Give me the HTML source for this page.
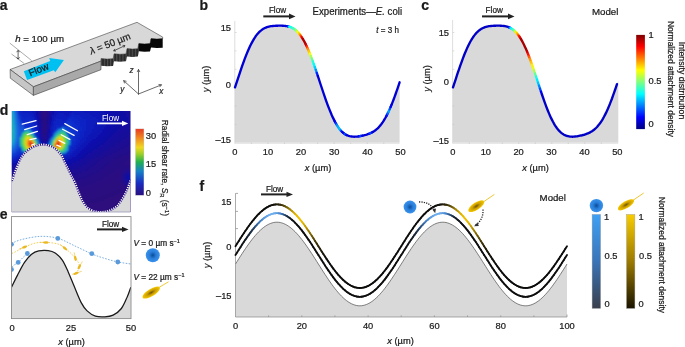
<!DOCTYPE html>
<html><head><meta charset="utf-8"><style>
html,body{margin:0;padding:0;background:#fff;width:685px;height:347px;overflow:hidden}
svg{display:block;will-change:transform}
text{font-family:"Liberation Sans",sans-serif;stroke:#1a1a1a;stroke-width:0.22px}
.hm rect{width:2px;height:2px}
</style></head><body>
<svg width="685" height="347" viewBox="0 0 685 347" fill="#1a1a1a">
<defs>
<linearGradient id="jetv" x1="0" y1="1" x2="0" y2="0">
<stop offset="0" stop-color="#00007f"/><stop offset="0.125" stop-color="#0000ff"/>
<stop offset="0.375" stop-color="#00ffff"/><stop offset="0.625" stop-color="#ffff00"/>
<stop offset="0.875" stop-color="#ff0000"/><stop offset="1" stop-color="#7f0000"/>
</linearGradient>
<linearGradient id="shearv" x1="0" y1="1" x2="0" y2="0">
<stop offset="0" stop-color="#2a0f82"/><stop offset="0.18" stop-color="#1a2cc0"/>
<stop offset="0.36" stop-color="#1780c8"/><stop offset="0.5" stop-color="#20b050"/>
<stop offset="0.62" stop-color="#9cd028"/><stop offset="0.72" stop-color="#f0d820"/>
<stop offset="0.86" stop-color="#f08a20"/><stop offset="1" stop-color="#e83a22"/>
</linearGradient>
<linearGradient id="bluev" x1="0" y1="1" x2="0" y2="0">
<stop offset="0" stop-color="#3a3f4c"/><stop offset="0.5" stop-color="#3a74b8"/><stop offset="1" stop-color="#3fa0f4"/>
</linearGradient>
<linearGradient id="yelv" x1="0" y1="1" x2="0" y2="0">
<stop offset="0" stop-color="#1a1400"/><stop offset="0.5" stop-color="#9c7a00"/><stop offset="1" stop-color="#f8cc00"/>
</linearGradient>
<radialGradient id="bdot" cx="0.5" cy="0.5" r="0.5">
<stop offset="0" stop-color="#0a4c9c"/><stop offset="0.5" stop-color="#2a7fd8"/><stop offset="1" stop-color="#3892ee"/>
</radialGradient>
<radialGradient id="ybac" cx="0.5" cy="0.5" r="0.5">
<stop offset="0" stop-color="#6e5200"/><stop offset="0.45" stop-color="#c89c00"/><stop offset="1" stop-color="#f6c800"/>
</radialGradient>
<radialGradient id="hot" cx="0.5" cy="0.5" r="0.5">
<stop offset="0" stop-color="#d01808"/><stop offset="0.12" stop-color="#f05010"/>
<stop offset="0.25" stop-color="#ffc820"/><stop offset="0.38" stop-color="#a0f040"/>
<stop offset="0.5" stop-color="#30e0a0"/><stop offset="0.65" stop-color="#20a8f0"/>
<stop offset="0.82" stop-color="#1860e8" stop-opacity="0.6"/><stop offset="1" stop-color="#1040d0" stop-opacity="0"/>
</radialGradient>
<radialGradient id="blueglow" cx="0.5" cy="0.5" r="0.5">
<stop offset="0" stop-color="#1848e0"/><stop offset="0.6" stop-color="#1430c8" stop-opacity="0.7"/><stop offset="1" stop-color="#1430c8" stop-opacity="0"/>
</radialGradient>
<linearGradient id="purpband" x1="0" y1="0" x2="1" y2="0">
<stop offset="0" stop-color="#30108a" stop-opacity="0"/><stop offset="0.5" stop-color="#30108a"/><stop offset="1" stop-color="#30108a" stop-opacity="0"/>
</linearGradient>
<clipPath id="dclip"><rect x="11.7" y="111" width="118.8" height="101"/></clipPath>
<clipPath id="eclip"><rect x="11.5" y="216.6" width="119.5" height="102"/></clipPath>
<filter id="blur1" x="-20%" y="-20%" width="140%" height="140%"><feGaussianBlur stdDeviation="1.2"/></filter>
<filter id="blur3" x="-50%" y="-50%" width="200%" height="200%"><feGaussianBlur stdDeviation="3"/></filter>
</defs>
<text x="-0.3" y="10.1" font-size="14" font-weight="bold">a</text>
<text x="199.6" y="10.1" font-size="14" font-weight="bold">b</text>
<text x="421.3" y="10.3" font-size="14" font-weight="bold">c</text>
<text x="-0.3" y="115" font-size="14" font-weight="bold">d</text>
<text x="-0.3" y="219" font-size="14" font-weight="bold">e</text>
<text x="199.5" y="190.8" font-size="14" font-weight="bold">f</text>
<polygon points="10.1,69.5 137.0,22.3 162.7,37.1 162.7,38.6 156.9,39.0 151.1,38.5 150.9,39.0 150.6,40.3 150.4,41.7 150.1,43.0 149.9,43.5 144.4,43.9 138.9,43.4 138.7,44.0 138.4,45.3 138.2,46.8 137.9,48.1 137.7,48.7 132.4,49.1 127.1,48.6 126.9,49.2 126.6,50.5 126.4,52.0 126.1,53.3 125.9,53.9 120.0,54.3 114.2,53.8 114.0,54.3 113.7,55.5 113.5,57.0 113.2,58.2 113.0,58.7 107.0,59.1 101.0,58.6 101.0,61.1 33.4,86.8" fill="#d8d8d8" stroke="#333" stroke-width="0.55" stroke-linejoin="round"/>
<polygon points="10.1,69.5 33.4,86.8 33.4,95.4 10.3,78.2" fill="#c6c6c6" stroke="#333" stroke-width="0.55"/>
<polygon points="33.4,86.8 101.0,61.1 101.0,69.7 33.4,95.4" fill="#a9a9a9" stroke="#333" stroke-width="0.55"/>
<pattern id="stripes" x="0" y="0" width="3.1" height="10" patternUnits="userSpaceOnUse"><rect width="3.1" height="10" fill="#2a2a2a"/><rect x="1.6" width="1.0" height="10" fill="#555"/></pattern>
<clipPath id="bandclip"><polygon points="101.00,58.60 107.00,59.10 113.00,58.70 113.24,58.19 113.48,56.98 113.72,55.52 113.96,54.31 114.20,53.80 120.05,54.30 125.90,53.90 126.14,53.35 126.38,52.03 126.62,50.47 126.86,49.15 127.10,48.60 132.40,49.10 137.70,48.70 137.94,48.15 138.18,46.83 138.42,45.27 138.66,43.95 138.90,43.40 144.40,43.90 149.90,43.50 150.14,42.98 150.38,41.74 150.62,40.26 150.86,39.02 151.10,38.50 156.90,39.00 162.70,38.60 162.70,47.70 156.90,48.10 151.10,47.60 150.86,48.00 150.62,48.94 150.38,50.06 150.14,51.00 149.90,51.40 144.40,51.80 138.90,51.30 138.66,51.85 138.42,53.17 138.18,54.73 137.94,56.05 137.70,56.60 132.40,57.00 127.10,56.50 126.86,57.00 126.62,58.19 126.38,59.61 126.14,60.80 125.90,61.30 120.05,61.70 114.20,61.20 113.96,61.69 113.72,62.85 113.48,64.25 113.24,65.41 113.00,65.90 107.00,66.30 101.00,65.80"/></clipPath>
<g clip-path="url(#bandclip)"><rect x="100" y="30" width="38.5" height="40" fill="url(#stripes)"/><rect x="138.3" y="30" width="26" height="40" fill="#070707"/></g>
<polygon points="27.1,80.0 23.8,71.2 50.2,61.1 49.2,58.1 63.9,60.1 55.3,72.2 53.8,70.2" fill="#00c0f2"/>
<text x="0" y="0" font-size="9.8" transform="translate(30.3,76.6) rotate(-22)">Flow</text>
<text x="15.2" y="42" font-size="9.9" textLength="48.8" lengthAdjust="spacingAndGlyphs"><tspan font-style="italic">h</tspan> = 100 µm</text>
<g stroke="#444" stroke-width="0.45"><line x1="9.8" y1="43.1" x2="31.7" y2="60.6"/><line x1="11.5" y1="54" x2="24.2" y2="63.5"/></g>
<g stroke="#222" stroke-width="0.7" fill="none"><line x1="18.1" y1="50.5" x2="18.1" y2="59"/><path d="M16.6,52.2 L18.1,50.3 L19.6,52.2 M16.6,57.3 L18.1,59.2 L19.6,57.3"/></g>
<text x="0" y="0" font-size="9.8" transform="translate(91.3,54.5) rotate(-21.5)" textLength="43" lengthAdjust="spacingAndGlyphs"><tspan font-style="italic">λ</tspan> = 50 µm</text>
<g stroke="#222" stroke-width="0.7" fill="none"><line x1="113.8" y1="50.8" x2="124.8" y2="45.7"/><path d="M114.9,48.9 L113.6,50.9 L116,51.1 M122.6,45.3 L125,45.6 L123.8,47.6"/></g>
<g stroke="#444" stroke-width="0.8" fill="none" stroke-linecap="round"><line x1="138.5" y1="94" x2="138.5" y2="69.6"/><line x1="138.5" y1="94" x2="123.8" y2="80.8"/><line x1="138.5" y1="94" x2="161.3" y2="84.9"/><path d="M137.28,71.70 L138.50,69.40 L139.72,71.70 M124.49,83.04 L123.60,80.60 L126.12,81.23 M158.92,84.52 L161.50,84.80 L159.82,86.79"/></g>
<g font-size="8.2" font-style="italic" fill="#333"><text x="129.5" y="73.3">z</text><text x="120.2" y="92">y</text><text x="159.2" y="94">x</text></g>
<path d="M235.00,87.44 L236.00,84.39 L237.00,81.34 L237.99,78.29 L238.99,75.27 L239.99,72.28 L240.99,69.33 L241.98,66.44 L242.98,63.61 L243.98,60.85 L244.98,58.18 L245.97,55.59 L246.97,53.11 L247.97,50.73 L248.97,48.46 L249.96,46.31 L250.96,44.27 L251.96,42.36 L252.96,40.57 L253.95,38.90 L254.95,37.36 L255.95,35.94 L256.95,34.64 L257.94,33.45 L258.94,32.38 L259.94,31.42 L260.94,30.56 L261.93,29.80 L262.93,29.13 L263.93,28.54 L264.93,28.03 L265.92,27.60 L266.92,27.23 L267.92,26.91 L268.92,26.65 L269.92,26.43 L270.91,26.25 L271.91,26.10 L272.91,25.98 L273.91,25.88 L274.90,25.80 L275.90,25.74 L276.90,25.69 L277.90,25.66 L278.89,25.64 L279.89,25.63 L280.89,25.64 L281.89,25.66 L282.88,25.70 L283.88,25.76 L284.88,25.85 L285.88,25.97 L286.87,26.12 L287.87,26.32 L288.87,26.57 L289.87,26.87 L290.86,27.24 L291.86,27.67 L292.86,28.18 L293.86,28.78 L294.85,29.46 L295.85,30.25 L296.85,31.13 L297.85,32.12 L298.84,33.23 L299.84,34.45 L300.84,35.80 L301.84,37.27 L302.84,38.86 L303.83,40.58 L304.83,42.42 L305.83,44.39 L306.83,46.48 L307.82,48.69 L308.82,51.02 L309.82,53.45 L310.82,55.99 L311.81,58.62 L312.81,61.34 L313.81,64.13 L314.81,67.00 L315.80,69.92 L316.80,72.89 L317.80,75.89 L318.80,78.92 L319.79,81.96 L320.79,85.00 L321.79,88.02 L322.79,91.03 L323.78,93.99 L324.78,96.91 L325.78,99.77 L326.78,102.56 L327.77,105.27 L328.77,107.90 L329.77,110.42 L330.77,112.85 L331.76,115.16 L332.76,117.35 L333.76,119.43 L334.76,121.38 L335.76,123.20 L336.75,124.90 L337.75,126.46 L338.75,127.90 L339.75,129.21 L340.74,130.39 L341.74,131.46 L342.74,132.40 L343.74,133.23 L344.73,133.96 L345.73,134.58 L346.73,135.11 L347.73,135.54 L348.72,135.90 L349.72,136.18 L350.72,136.39 L351.72,136.53 L352.71,136.62 L353.71,136.67 L354.71,136.67 L355.71,136.63 L356.70,136.55 L357.70,136.45 L358.70,136.32 L359.70,136.17 L360.69,136.00 L361.69,135.81 L362.69,135.60 L363.69,135.37 L364.68,135.12 L365.68,134.85 L366.68,134.56 L367.68,134.23 L368.68,133.87 L369.67,133.48 L370.67,133.04 L371.67,132.56 L372.67,132.02 L373.66,131.42 L374.66,130.76 L375.66,130.02 L376.66,129.21 L377.65,128.31 L378.65,127.32 L379.65,126.24 L380.65,125.05 L381.64,123.76 L382.64,122.36 L383.64,120.85 L384.64,119.23 L385.63,117.48 L386.63,115.63 L387.63,113.65 L388.63,111.56 L389.62,109.36 L390.62,107.04 L391.62,104.63 L392.62,102.11 L393.61,99.50 L394.61,96.80 L395.61,94.02 L396.61,91.18 L397.60,88.27 L398.60,85.31 L399.60,82.31 L399.6,142.8 L235,142.8 Z" fill="#d9d9d9"/>
<g stroke="#d0d0d0" stroke-width="0.7"><line x1="234.8" y1="21" x2="234.8" y2="143.6"/></g><g stroke="#e6e6e6" stroke-width="1"><line x1="235" y1="143.4" x2="399.6" y2="143.4"/></g>
<g stroke="#c4c4c4" stroke-width="0.6"><line x1="251.4" y1="142.4" x2="251.4" y2="144"/><line x1="267.9" y1="142.4" x2="267.9" y2="144"/><line x1="284.5" y1="142.4" x2="284.5" y2="144"/><line x1="301.0" y1="142.4" x2="301.0" y2="144"/><line x1="317.6" y1="142.4" x2="317.6" y2="144"/><line x1="334.1" y1="142.4" x2="334.1" y2="144"/><line x1="350.7" y1="142.4" x2="350.7" y2="144"/><line x1="367.2" y1="142.4" x2="367.2" y2="144"/><line x1="383.8" y1="142.4" x2="383.8" y2="144"/><line x1="234.8" y1="32.5" x2="236.5" y2="32.5"/><line x1="234.8" y1="50.9" x2="236.5" y2="50.9"/><line x1="234.8" y1="69.3" x2="236.5" y2="69.3"/><line x1="234.8" y1="87.6" x2="236.5" y2="87.6"/><line x1="234.8" y1="106.0" x2="236.5" y2="106.0"/><line x1="234.8" y1="124.4" x2="236.5" y2="124.4"/></g>
<g stroke-width="2.35" stroke-linecap="round" stroke-linejoin="round" fill="none"><polyline points="235.0,87.4 236.0,84.4 237.0,81.3 238.0,78.3 239.0,75.3 240.0,72.3 241.0,69.3 242.0,66.4 243.0,63.6 244.0,60.9 245.0,58.2 246.0,55.6 247.0,53.1 248.0,50.7 249.0,48.5 250.0,46.3 251.0,44.3 252.0,42.4 253.0,40.6 254.0,38.9 255.0,37.4 255.9,35.9 256.9,34.6 257.9,33.5 258.9,32.4 259.9,31.4 260.9,30.6 261.9,29.8 262.9,29.1 263.9,28.5 264.9,28.0 265.9,27.6 266.9,27.2 267.9,26.9 268.9,26.6 269.9,26.4 270.9,26.2 271.9,26.1 272.9,26.0 273.9,25.9 274.9,25.8 275.9,25.7 276.9,25.7 277.9,25.7 278.9,25.6 279.9,25.6 280.9,25.6 281.9,25.7 282.9,25.7 283.9,25.8 284.9,25.8 285.9,26.0 286.9,26.1 287.9,26.3" stroke="#0000d6"/><polyline points="287.9,26.3 288.9,26.6" stroke="#0021ff"/><polyline points="288.9,26.6 289.9,26.9" stroke="#00e9ff"/><polyline points="289.9,26.9 290.9,27.2" stroke="#0fffef"/><polyline points="290.9,27.2 291.9,27.7" stroke="#1affe4"/><polyline points="291.9,27.7 292.9,28.2" stroke="#26ffd8"/><polyline points="292.9,28.2 293.9,28.8" stroke="#36ffc8"/><polyline points="293.9,28.8 294.9,29.5" stroke="#4fffaf"/><polyline points="294.9,29.5 295.9,30.2" stroke="#67ff97"/><polyline points="295.9,30.2 296.8,31.1" stroke="#93ff6b"/><polyline points="296.8,31.1 297.8,32.1" stroke="#c3ff3b"/><polyline points="297.8,32.1 298.8,33.2" stroke="#f2ff0c"/><polyline points="298.8,33.2 299.8,34.5" stroke="#ffd600"/><polyline points="299.8,34.5 300.8,35.8" stroke="#ff9600"/><polyline points="300.8,35.8 301.8,37.3" stroke="#ff4500"/><polyline points="301.8,37.3 302.8,38.9" stroke="#ed0000"/><polyline points="302.8,38.9 303.8,40.6 304.8,42.4 305.8,44.4" stroke="#b20000"/><polyline points="305.8,44.4 306.8,46.5" stroke="#d30000"/><polyline points="306.8,46.5 307.8,48.7" stroke="#ff3600"/><polyline points="307.8,48.7 308.8,51.0" stroke="#ff8e00"/><polyline points="308.8,51.0 309.8,53.5" stroke="#ffca00"/><polyline points="309.8,53.5 310.8,56.0" stroke="#f4ff0a"/><polyline points="310.8,56.0 311.8,58.6" stroke="#a8ff56"/><polyline points="311.8,58.6 312.8,61.3" stroke="#67ff97"/><polyline points="312.8,61.3 313.8,64.1" stroke="#25ffd9"/><polyline points="313.8,64.1 314.8,67.0" stroke="#00fdff"/><polyline points="314.8,67.0 315.8,69.9" stroke="#00d0ff"/><polyline points="315.8,69.9 316.8,72.9" stroke="#008cff"/><polyline points="316.8,72.9 317.8,75.9" stroke="#0025ff"/><polyline points="317.8,75.9 318.8,78.9 319.8,82.0 320.8,85.0 321.8,88.0 322.8,91.0 323.8,94.0 324.8,96.9 325.8,99.8 326.8,102.6 327.8,105.3 328.8,107.9 329.8,110.4 330.8,112.8 331.8,115.2 332.8,117.4 333.8,119.4 334.8,121.4" stroke="#0000d6"/><polyline points="334.8,121.4 335.8,123.2" stroke="#0000ea"/><polyline points="335.8,123.2 336.8,124.9" stroke="#003aff"/><polyline points="336.8,124.9 337.8,126.5" stroke="#008aff"/><polyline points="337.8,126.5 338.7,127.9" stroke="#00a8ff"/><polyline points="338.7,127.9 339.7,129.2" stroke="#00b5ff"/><polyline points="339.7,129.2 340.7,130.4" stroke="#00c3ff"/><polyline points="340.7,130.4 341.7,131.5" stroke="#006dff"/><polyline points="341.7,131.5 342.7,132.4" stroke="#0000f5"/><polyline points="342.7,132.4 343.7,133.2" stroke="#0000d6"/><polyline points="343.7,133.2 344.7,134.0" stroke="#0000ee"/><polyline points="344.7,134.0 345.7,134.6" stroke="#0059ff"/><polyline points="345.7,134.6 346.7,135.1" stroke="#0028ff"/><polyline points="346.7,135.1 347.7,135.5 348.7,135.9 349.7,136.2 350.7,136.4 351.7,136.5 352.7,136.6 353.7,136.7 354.7,136.7 355.7,136.6 356.7,136.6 357.7,136.5 358.7,136.3" stroke="#0000d6"/><polyline points="358.7,136.3 359.7,136.2" stroke="#0000e3"/><polyline points="359.7,136.2 360.7,136.0" stroke="#0029ff"/><polyline points="360.7,136.0 361.7,135.8" stroke="#0053ff"/><polyline points="361.7,135.8 362.7,135.6" stroke="#000eff"/><polyline points="362.7,135.6 363.7,135.4 364.7,135.1 365.7,134.9 366.7,134.6 367.7,134.2 368.7,133.9" stroke="#0000d6"/><polyline points="368.7,133.9 369.7,133.5" stroke="#0000e2"/><polyline points="369.7,133.5 370.7,133.0" stroke="#0027ff"/><polyline points="370.7,133.0 371.7,132.6" stroke="#0055ff"/><polyline points="371.7,132.6 372.7,132.0" stroke="#0010ff"/><polyline points="372.7,132.0 373.7,131.4 374.7,130.8 375.7,130.0 376.7,129.2 377.7,128.3 378.7,127.3 379.6,126.2 380.6,125.1 381.6,123.8 382.6,122.4 383.6,120.9 384.6,119.2 385.6,117.5 386.6,115.6" stroke="#0000d6"/><polyline points="386.6,115.6 387.6,113.6" stroke="#000eff"/><polyline points="387.6,113.6 388.6,111.6" stroke="#0065ff"/><polyline points="388.6,111.6 389.6,109.4" stroke="#00a7ff"/><polyline points="389.6,109.4 390.6,107.0" stroke="#004fff"/><polyline points="390.6,107.0 391.6,104.6" stroke="#0000f7"/><polyline points="391.6,104.6 392.6,102.1 393.6,99.5 394.6,96.8 395.6,94.0 396.6,91.2 397.6,88.3 398.6,85.3 399.6,82.3" stroke="#0000d6"/></g>
<g font-size="9.3" text-anchor="end"><text x="231" y="31.3">15</text><text x="231" y="87.5">0</text><text x="231" y="143.3">–15</text></g>
<g font-size="9.3" text-anchor="middle"><text x="234.8" y="155.3">0</text><text x="268" y="155.3">10</text><text x="301" y="155.3">20</text><text x="334.2" y="155.3">30</text><text x="367.4" y="155.3">40</text><text x="400.5" y="155.3">50</text></g>
<text x="318" y="170.5" font-size="9.3" text-anchor="middle"><tspan font-style="italic">x</tspan> (µm)</text>
<text x="0" y="0" font-size="9.3" text-anchor="middle" transform="translate(209,79) rotate(-90)"><tspan font-style="italic">y</tspan> (µm)</text>
<text x="268.9" y="13.4" font-size="8.4" textLength="17.2" lengthAdjust="spacingAndGlyphs">Flow</text>
<path d="M263.3,16.4 L290,16.4" stroke="#222" stroke-width="2"/><path d="M289,13.6 L295.5,16.4 L289,19.2 Z" fill="#222"/>
<text x="312.5" y="15.1" font-size="10" textLength="89.6" lengthAdjust="spacingAndGlyphs">Experiments—<tspan font-style="italic">E.</tspan> coli</text>
<text x="376.3" y="33.3" font-size="8.2" textLength="22.6" lengthAdjust="spacingAndGlyphs"><tspan font-style="italic">t</tspan> = 3 h</text>
<path d="M453.00,87.44 L454.00,84.38 L455.00,81.32 L456.00,78.27 L457.00,75.24 L458.00,72.24 L459.00,69.29 L460.00,66.39 L461.00,63.55 L462.00,60.79 L463.00,58.11 L464.00,55.53 L465.00,53.04 L466.00,50.66 L467.00,48.39 L468.00,46.23 L469.00,44.20 L470.00,42.28 L471.00,40.49 L472.00,38.83 L473.00,37.29 L474.00,35.87 L475.00,34.57 L476.00,33.39 L477.00,32.32 L478.00,31.36 L479.00,30.51 L480.00,29.75 L481.00,29.08 L482.00,28.50 L483.00,28.00 L484.00,27.57 L485.00,27.20 L486.00,26.89 L487.00,26.63 L488.00,26.41 L489.00,26.23 L490.00,26.09 L491.00,25.97 L492.00,25.87 L493.00,25.80 L494.00,25.74 L495.00,25.69 L496.00,25.66 L497.00,25.64 L498.00,25.63 L499.00,25.64 L500.00,25.66 L501.00,25.70 L502.00,25.77 L503.00,25.86 L504.00,25.98 L505.00,26.14 L506.00,26.35 L507.00,26.60 L508.00,26.92 L509.00,27.29 L510.00,27.74 L511.00,28.26 L512.00,28.87 L513.00,29.57 L514.00,30.37 L515.00,31.27 L516.00,32.29 L517.00,33.41 L518.00,34.66 L519.00,36.03 L520.00,37.52 L521.00,39.14 L522.00,40.88 L523.00,42.75 L524.00,44.75 L525.00,46.86 L526.00,49.10 L527.00,51.45 L528.00,53.91 L529.00,56.47 L530.00,59.12 L531.00,61.86 L532.00,64.68 L533.00,67.56 L534.00,70.50 L535.00,73.48 L536.00,76.50 L537.00,79.54 L538.00,82.59 L539.00,85.63 L540.00,88.66 L541.00,91.66 L542.00,94.63 L543.00,97.54 L544.00,100.40 L545.00,103.18 L546.00,105.87 L547.00,108.48 L548.00,110.99 L549.00,113.40 L550.00,115.69 L551.00,117.86 L552.00,119.91 L553.00,121.83 L554.00,123.63 L555.00,125.30 L556.00,126.83 L557.00,128.24 L558.00,129.52 L559.00,130.68 L560.00,131.71 L561.00,132.63 L562.00,133.44 L563.00,134.13 L564.00,134.73 L565.00,135.23 L566.00,135.65 L567.00,135.98 L568.00,136.24 L569.00,136.43 L570.00,136.56 L571.00,136.64 L572.00,136.67 L573.00,136.66 L574.00,136.61 L575.00,136.53 L576.00,136.42 L577.00,136.28 L578.00,136.12 L579.00,135.95 L580.00,135.75 L581.00,135.53 L582.00,135.30 L583.00,135.04 L584.00,134.76 L585.00,134.46 L586.00,134.12 L587.00,133.75 L588.00,133.34 L589.00,132.89 L590.00,132.39 L591.00,131.83 L592.00,131.21 L593.00,130.52 L594.00,129.76 L595.00,128.91 L596.00,127.98 L597.00,126.96 L598.00,125.83 L599.00,124.61 L600.00,123.28 L601.00,121.83 L602.00,120.28 L603.00,118.60 L604.00,116.82 L605.00,114.91 L606.00,112.89 L607.00,110.75 L608.00,108.50 L609.00,106.14 L610.00,103.68 L611.00,101.12 L612.00,98.47 L613.00,95.73 L614.00,92.92 L615.00,90.04 L616.00,87.10 L617.00,84.12 L618.3,80.19 L618.3,142.8 L453,142.8 Z" fill="#d9d9d9"/>
<g stroke="#d0d0d0" stroke-width="0.7"><line x1="452.6" y1="20" x2="452.6" y2="143.6"/></g><g stroke="#e6e6e6" stroke-width="1"><line x1="453" y1="143.4" x2="618.3" y2="143.4"/></g>
<g stroke="#c4c4c4" stroke-width="0.6"><line x1="469.3" y1="142.4" x2="469.3" y2="144"/><line x1="485.8" y1="142.4" x2="485.8" y2="144"/><line x1="502.3" y1="142.4" x2="502.3" y2="144"/><line x1="518.8" y1="142.4" x2="518.8" y2="144"/><line x1="535.3" y1="142.4" x2="535.3" y2="144"/><line x1="551.8" y1="142.4" x2="551.8" y2="144"/><line x1="568.3" y1="142.4" x2="568.3" y2="144"/><line x1="584.8" y1="142.4" x2="584.8" y2="144"/><line x1="601.3" y1="142.4" x2="601.3" y2="144"/><line x1="452.6" y1="32.5" x2="454.3" y2="32.5"/><line x1="452.6" y1="50.9" x2="454.3" y2="50.9"/><line x1="452.6" y1="69.3" x2="454.3" y2="69.3"/><line x1="452.6" y1="87.6" x2="454.3" y2="87.6"/><line x1="452.6" y1="106.0" x2="454.3" y2="106.0"/><line x1="452.6" y1="124.4" x2="454.3" y2="124.4"/></g>
<g stroke-width="2.35" stroke-linecap="round" stroke-linejoin="round" fill="none"><polyline points="453.0,87.4 454.0,84.4 455.0,81.3 456.0,78.3 457.0,75.2 458.0,72.2 459.0,69.3 460.0,66.4 461.0,63.6 462.0,60.8 463.0,58.1 464.0,55.5 465.0,53.0 466.0,50.7 467.0,48.4 468.0,46.2 469.0,44.2 470.0,42.3 471.0,40.5 472.0,38.8 473.0,37.3 474.0,35.9 475.0,34.6 476.0,33.4 477.0,32.3 478.0,31.4 479.0,30.5 480.0,29.8 481.0,29.1 482.0,28.5 483.0,28.0 484.0,27.6 485.0,27.2 486.0,26.9 487.0,26.6 488.0,26.4 489.0,26.2 490.0,26.1 491.0,26.0 492.0,25.9 493.0,25.8 494.0,25.7 495.0,25.7 496.0,25.7 497.0,25.6 498.0,25.6 499.0,25.6 500.0,25.7 501.0,25.7 502.0,25.8 503.0,25.9 504.0,26.0 505.0,26.1 506.0,26.3 507.0,26.6 508.0,26.9 509.0,27.3" stroke="#0000c6"/><polyline points="509.0,27.3 510.0,27.7" stroke="#000fff"/><polyline points="510.0,27.7 511.0,28.3" stroke="#009eff"/><polyline points="511.0,28.3 512.0,28.9" stroke="#00f6ff"/><polyline points="512.0,28.9 513.0,29.6" stroke="#19ffe5"/><polyline points="513.0,29.6 514.0,30.4" stroke="#3bffc3"/><polyline points="514.0,30.4 515.0,31.3" stroke="#77ff87"/><polyline points="515.0,31.3 516.0,32.3" stroke="#ceff30"/><polyline points="516.0,32.3 517.0,33.4" stroke="#ffea00"/><polyline points="517.0,33.4 518.0,34.7" stroke="#ffb700"/><polyline points="518.0,34.7 519.0,36.0" stroke="#ff7100"/><polyline points="519.0,36.0 520.0,37.5" stroke="#ff1900"/><polyline points="520.0,37.5 521.0,39.1" stroke="#e00000"/><polyline points="521.0,39.1 522.0,40.9 523.0,42.8 524.0,44.7 525.0,46.9 526.0,49.1 527.0,51.4" stroke="#a80000"/><polyline points="527.0,51.4 528.0,53.9" stroke="#ca0000"/><polyline points="528.0,53.9 529.0,56.5" stroke="#ff0f00"/><polyline points="529.0,56.5 530.0,59.1" stroke="#ff5a00"/><polyline points="530.0,59.1 531.0,61.9" stroke="#ff9500"/><polyline points="531.0,61.9 532.0,64.7" stroke="#ffc200"/><polyline points="532.0,64.7 533.0,67.6" stroke="#ffef00"/><polyline points="533.0,67.6 534.0,70.5" stroke="#e5ff19"/><polyline points="534.0,70.5 535.0,73.5" stroke="#acff52"/><polyline points="535.0,73.5 536.0,76.5" stroke="#62ff9c"/><polyline points="536.0,76.5 537.0,79.5" stroke="#19ffe5"/><polyline points="537.0,79.5 538.0,82.6" stroke="#00efff"/><polyline points="538.0,82.6 539.0,85.6" stroke="#00c6ff"/><polyline points="539.0,85.6 540.0,88.7" stroke="#0089ff"/><polyline points="540.0,88.7 541.0,91.7" stroke="#004cff"/><polyline points="541.0,91.7 542.0,94.6" stroke="#0000f3"/><polyline points="542.0,94.6 543.0,97.5 544.0,100.4 545.0,103.2 546.0,105.9 547.0,108.5 548.0,111.0 549.0,113.4 550.0,115.7 551.0,117.9 552.0,119.9 553.0,121.8 554.0,123.6 555.0,125.3 556.0,126.8 557.0,128.2 558.0,129.5 559.0,130.7 560.0,131.7 561.0,132.6 562.0,133.4 563.0,134.1 564.0,134.7 565.0,135.2 566.0,135.6 567.0,136.0 568.0,136.2 569.0,136.4 570.0,136.6 571.0,136.6 572.0,136.7 573.0,136.7 574.0,136.6 575.0,136.5 576.0,136.4 577.0,136.3 578.0,136.1 579.0,135.9 580.0,135.7 581.0,135.5 582.0,135.3 583.0,135.0 584.0,134.8 585.0,134.5 586.0,134.1 587.0,133.7 588.0,133.3 589.0,132.9 590.0,132.4 591.0,131.8 592.0,131.2 593.0,130.5 594.0,129.8 595.0,128.9 596.0,128.0 597.0,127.0 598.0,125.8 599.0,124.6 600.0,123.3 601.0,121.8 602.0,120.3 603.0,118.6 604.0,116.8 605.0,114.9 606.0,112.9 607.0,110.7 608.0,108.5 609.0,106.1 610.0,103.7 611.0,101.1 612.0,98.5 613.0,95.7 614.0,92.9 615.0,90.0 616.0,87.1 617.0,84.1" stroke="#0000c6"/></g>
<g font-size="9.3" text-anchor="end"><text x="449" y="36.2">15</text><text x="449" y="84.5">0</text><text x="449" y="143.6">–15</text></g>
<g font-size="9.3" text-anchor="middle"><text x="452.9" y="155">0</text><text x="485.8" y="155">10</text><text x="518.6" y="155">20</text><text x="551.5" y="155">30</text><text x="584.5" y="155">40</text><text x="617.3" y="155">50</text></g>
<text x="535.5" y="170.5" font-size="9.3" text-anchor="middle"><tspan font-style="italic">x</tspan> (µm)</text>
<text x="0" y="0" font-size="9.3" text-anchor="middle" transform="translate(430,78.5) rotate(-90)"><tspan font-style="italic">y</tspan> (µm)</text>
<text x="485.6" y="13.3" font-size="8.4" textLength="17.2" lengthAdjust="spacingAndGlyphs">Flow</text>
<path d="M482,16.4 L509,16.4" stroke="#222" stroke-width="2"/><path d="M508,13.6 L514.5,16.4 L508,19.2 Z" fill="#222"/>
<text x="591.9" y="14.5" font-size="9.9" textLength="26.5" lengthAdjust="spacingAndGlyphs">Model</text>
<rect x="636.2" y="34.9" width="8.7" height="94.2" fill="url(#jetv)"/>
<g font-size="9.3"><text x="648.5" y="37.6">1</text><text x="648.5" y="83.6">0.5</text><text x="648.5" y="127">0</text></g>
<text x="0" y="0" font-size="8.6" transform="translate(668.4,21) rotate(90)" textLength="116" lengthAdjust="spacingAndGlyphs">Normalized attachment density</text>
<text x="0" y="0" font-size="8.6" transform="translate(679.3,41.7) rotate(90)" textLength="77.6" lengthAdjust="spacingAndGlyphs">Intensity distribution</text>
<g clip-path="url(#dclip)">
<g class="hm" filter="url(#blur1)"><rect x="6" y="105" fill="#1459da"/><rect x="8" y="105" fill="#1985d8"/><rect x="10" y="105" fill="#1b9ad5"/><rect x="12" y="105" fill="#198bd7"/><rect x="14" y="105" fill="#1458da"/><rect x="16" y="105" fill="#0f32ce"/><rect x="18" y="105" fill="#0e1fc0"/><rect x="20" y="105" fill="#0e18b8"/><rect x="22" y="105" fill="#0e16b5"/><rect x="24" y="105" fill="#0e15b5"/><rect x="26" y="105" fill="#0e15b5"/><rect x="28" y="105" fill="#0e14b4"/><rect x="30" y="105" fill="#0e13b2"/><rect x="32" y="105" fill="#0e0fae"/><rect x="34" y="105" fill="#0e09a7"/><rect x="36" y="105" fill="#15099d"/><rect x="38" y="105" fill="#1d0992"/><rect x="40" y="105" fill="#250888"/><rect x="42" y="105" fill="#2a0880"/><rect x="44" y="105" fill="#2b087f"/><rect x="46" y="105" fill="#280883"/><rect x="48" y="105" fill="#21088c"/><rect x="50" y="105" fill="#1a0997"/><rect x="52" y="105" fill="#1309a0"/><rect x="54" y="105" fill="#0e0aa8"/><rect x="56" y="105" fill="#0e0eac"/><rect x="58" y="105" fill="#0e10ae"/><rect x="60" y="105" fill="#0e10af"/><rect x="62" y="105" fill="#0e10ae"/><rect x="64" y="105" fill="#0e0fae"/><rect x="66" y="105" fill="#0e0eac"/><rect x="68" y="105" fill="#0e0dab"/><rect x="70" y="105" fill="#0e0cab"/><rect x="72" y="105" fill="#0e0dab"/><rect x="74" y="105" fill="#0e14b4"/><rect x="76" y="105" fill="#0e14b3"/><rect x="78" y="105" fill="#0e14b3"/><rect x="80" y="105" fill="#0e14b3"/><rect x="82" y="105" fill="#0e13b3"/><rect x="84" y="105" fill="#0e13b2"/><rect x="86" y="105" fill="#0e13b2"/><rect x="88" y="105" fill="#0e12b2"/><rect x="90" y="105" fill="#0e12b1"/><rect x="92" y="105" fill="#0e12b1"/><rect x="94" y="105" fill="#0e12b1"/><rect x="96" y="105" fill="#0e12b1"/><rect x="98" y="105" fill="#0e12b1"/><rect x="100" y="105" fill="#0e11b0"/><rect x="102" y="105" fill="#0e10ae"/><rect x="104" y="105" fill="#0e0ead"/><rect x="106" y="105" fill="#0e0dab"/><rect x="108" y="105" fill="#0e0baa"/><rect x="110" y="105" fill="#0e0aa8"/><rect x="112" y="105" fill="#0e09a7"/><rect x="114" y="105" fill="#0f09a6"/><rect x="116" y="105" fill="#1009a4"/><rect x="118" y="105" fill="#1109a3"/><rect x="120" y="105" fill="#1109a2"/><rect x="122" y="105" fill="#1209a1"/><rect x="124" y="105" fill="#1309a0"/><rect x="126" y="105" fill="#1309a0"/><rect x="128" y="105" fill="#14099f"/><rect x="130" y="105" fill="#14099e"/><rect x="132" y="105" fill="#15099d"/><rect x="134" y="105" fill="#15099d"/><rect x="6" y="107" fill="#155ddc"/><rect x="8" y="107" fill="#198bd7"/><rect x="10" y="107" fill="#1ba0d4"/><rect x="12" y="107" fill="#1a90d7"/><rect x="14" y="107" fill="#1668dd"/><rect x="16" y="107" fill="#0f36cf"/><rect x="18" y="107" fill="#0e22c3"/><rect x="20" y="107" fill="#0e1bbb"/><rect x="22" y="107" fill="#0e18b8"/><rect x="24" y="107" fill="#0e18b8"/><rect x="26" y="107" fill="#0e18b8"/><rect x="28" y="107" fill="#0e18b7"/><rect x="30" y="107" fill="#0e16b6"/><rect x="32" y="107" fill="#0e12b1"/><rect x="34" y="107" fill="#0e0caa"/><rect x="36" y="107" fill="#1309a0"/><rect x="38" y="107" fill="#1b0994"/><rect x="40" y="107" fill="#240889"/><rect x="42" y="107" fill="#2a0881"/><rect x="44" y="107" fill="#2b087f"/><rect x="46" y="107" fill="#270884"/><rect x="48" y="107" fill="#20088e"/><rect x="50" y="107" fill="#180999"/><rect x="52" y="107" fill="#1009a4"/><rect x="54" y="107" fill="#0e0dab"/><rect x="56" y="107" fill="#0e11b0"/><rect x="58" y="107" fill="#0e13b2"/><rect x="60" y="107" fill="#0e13b2"/><rect x="62" y="107" fill="#0e12b1"/><rect x="64" y="107" fill="#0e11b0"/><rect x="66" y="107" fill="#0e10af"/><rect x="68" y="107" fill="#0e0fae"/><rect x="70" y="107" fill="#0e0fad"/><rect x="72" y="107" fill="#0e0fad"/><rect x="74" y="107" fill="#0e17b7"/><rect x="76" y="107" fill="#0e17b6"/><rect x="78" y="107" fill="#0e16b6"/><rect x="80" y="107" fill="#0e16b6"/><rect x="82" y="107" fill="#0e16b5"/><rect x="84" y="107" fill="#0e15b5"/><rect x="86" y="107" fill="#0e15b4"/><rect x="88" y="107" fill="#0e14b4"/><rect x="90" y="107" fill="#0e14b3"/><rect x="92" y="107" fill="#0e14b3"/><rect x="94" y="107" fill="#0e13b3"/><rect x="96" y="107" fill="#0e13b3"/><rect x="98" y="107" fill="#0e13b2"/><rect x="100" y="107" fill="#0e12b1"/><rect x="102" y="107" fill="#0e11b0"/><rect x="104" y="107" fill="#0e0fae"/><rect x="106" y="107" fill="#0e0eac"/><rect x="108" y="107" fill="#0e0cab"/><rect x="110" y="107" fill="#0e0ba9"/><rect x="112" y="107" fill="#0e0aa8"/><rect x="114" y="107" fill="#0e09a6"/><rect x="116" y="107" fill="#0f09a5"/><rect x="118" y="107" fill="#1009a4"/><rect x="120" y="107" fill="#1109a3"/><rect x="122" y="107" fill="#1209a2"/><rect x="124" y="107" fill="#1209a1"/><rect x="126" y="107" fill="#1309a0"/><rect x="128" y="107" fill="#14099f"/><rect x="130" y="107" fill="#14099e"/><rect x="132" y="107" fill="#15099e"/><rect x="134" y="107" fill="#15099d"/><rect x="6" y="109" fill="#1562dd"/><rect x="8" y="109" fill="#1a90d7"/><rect x="10" y="109" fill="#1ca5d3"/><rect x="12" y="109" fill="#1a96d6"/><rect x="14" y="109" fill="#166edc"/><rect x="16" y="109" fill="#103ad1"/><rect x="18" y="109" fill="#0e24c6"/><rect x="20" y="109" fill="#0e1dbe"/><rect x="22" y="109" fill="#0e1bbb"/><rect x="24" y="109" fill="#0e1bbb"/><rect x="26" y="109" fill="#0e1bbb"/><rect x="28" y="109" fill="#0e1bbb"/><rect x="30" y="109" fill="#0e19b9"/><rect x="32" y="109" fill="#0e16b5"/><rect x="34" y="109" fill="#0e0fae"/><rect x="36" y="109" fill="#1009a3"/><rect x="38" y="109" fill="#1a0997"/><rect x="40" y="109" fill="#23088a"/><rect x="42" y="109" fill="#290881"/><rect x="44" y="109" fill="#2b087f"/><rect x="46" y="109" fill="#270885"/><rect x="48" y="109" fill="#1f088f"/><rect x="50" y="109" fill="#16099c"/><rect x="52" y="109" fill="#0e09a7"/><rect x="54" y="109" fill="#0e10af"/><rect x="56" y="109" fill="#0e14b3"/><rect x="58" y="109" fill="#0e15b5"/><rect x="60" y="109" fill="#0e16b5"/><rect x="62" y="109" fill="#0e15b4"/><rect x="64" y="109" fill="#0e14b3"/><rect x="66" y="109" fill="#0e13b2"/><rect x="68" y="109" fill="#0e11b0"/><rect x="70" y="109" fill="#0e11b0"/><rect x="72" y="109" fill="#0e1aba"/><rect x="74" y="109" fill="#0e1aba"/><rect x="76" y="109" fill="#0e19b9"/><rect x="78" y="109" fill="#0e19b9"/><rect x="80" y="109" fill="#0e18b8"/><rect x="82" y="109" fill="#0e18b8"/><rect x="84" y="109" fill="#0e17b7"/><rect x="86" y="109" fill="#0e17b6"/><rect x="88" y="109" fill="#0e16b6"/><rect x="90" y="109" fill="#0e16b5"/><rect x="92" y="109" fill="#0e15b5"/><rect x="94" y="109" fill="#0e15b4"/><rect x="96" y="109" fill="#0e15b4"/><rect x="98" y="109" fill="#0e14b4"/><rect x="100" y="109" fill="#0e14b3"/><rect x="102" y="109" fill="#0e12b1"/><rect x="104" y="109" fill="#0e10af"/><rect x="106" y="109" fill="#0e0fad"/><rect x="108" y="109" fill="#0e0dac"/><rect x="110" y="109" fill="#0e0caa"/><rect x="112" y="109" fill="#0e0ba9"/><rect x="114" y="109" fill="#0e09a7"/><rect x="116" y="109" fill="#0f09a6"/><rect x="118" y="109" fill="#1009a5"/><rect x="120" y="109" fill="#1009a4"/><rect x="122" y="109" fill="#1109a3"/><rect x="124" y="109" fill="#1209a1"/><rect x="126" y="109" fill="#1309a1"/><rect x="128" y="109" fill="#1309a0"/><rect x="130" y="109" fill="#14099f"/><rect x="132" y="109" fill="#14099e"/><rect x="134" y="109" fill="#15099d"/><rect x="6" y="111" fill="#1666dd"/><rect x="8" y="111" fill="#1a94d6"/><rect x="10" y="111" fill="#1da7cd"/><rect x="12" y="111" fill="#1b9bd5"/><rect x="14" y="111" fill="#1773db"/><rect x="16" y="111" fill="#124ed7"/><rect x="18" y="111" fill="#0e27c9"/><rect x="20" y="111" fill="#0e20c1"/><rect x="22" y="111" fill="#0e1ebe"/><rect x="24" y="111" fill="#0e1ebe"/><rect x="26" y="111" fill="#0e1ebe"/><rect x="28" y="111" fill="#0e1ebe"/><rect x="30" y="111" fill="#0e1cbd"/><rect x="32" y="111" fill="#0e19b9"/><rect x="34" y="111" fill="#0e13b2"/><rect x="36" y="111" fill="#0e09a7"/><rect x="38" y="111" fill="#180999"/><rect x="40" y="111" fill="#22088b"/><rect x="42" y="111" fill="#290882"/><rect x="44" y="111" fill="#2b087f"/><rect x="46" y="111" fill="#260886"/><rect x="48" y="111" fill="#1e0891"/><rect x="50" y="111" fill="#14099f"/><rect x="52" y="111" fill="#0e0caa"/><rect x="54" y="111" fill="#0e13b2"/><rect x="56" y="111" fill="#0e17b6"/><rect x="58" y="111" fill="#0e18b8"/><rect x="60" y="111" fill="#0e18b8"/><rect x="62" y="111" fill="#0e17b7"/><rect x="64" y="111" fill="#0e16b6"/><rect x="66" y="111" fill="#0e15b5"/><rect x="68" y="111" fill="#0e14b3"/><rect x="70" y="111" fill="#0e13b2"/><rect x="72" y="111" fill="#0e1dbe"/><rect x="74" y="111" fill="#0e1dbd"/><rect x="76" y="111" fill="#0e1cbc"/><rect x="78" y="111" fill="#0e1bbc"/><rect x="80" y="111" fill="#0e1bbb"/><rect x="82" y="111" fill="#0e1aba"/><rect x="84" y="111" fill="#0e19b9"/><rect x="86" y="111" fill="#0e19b8"/><rect x="88" y="111" fill="#0e18b8"/><rect x="90" y="111" fill="#0e17b7"/><rect x="92" y="111" fill="#0e17b6"/><rect x="94" y="111" fill="#0e16b6"/><rect x="96" y="111" fill="#0e16b6"/><rect x="98" y="111" fill="#0e16b5"/><rect x="100" y="111" fill="#0e15b4"/><rect x="102" y="111" fill="#0e13b2"/><rect x="104" y="111" fill="#0e11b0"/><rect x="106" y="111" fill="#0e10ae"/><rect x="108" y="111" fill="#0e0ead"/><rect x="110" y="111" fill="#0e0dab"/><rect x="112" y="111" fill="#0e0ba9"/><rect x="114" y="111" fill="#0e0aa8"/><rect x="116" y="111" fill="#0e09a7"/><rect x="118" y="111" fill="#0f09a5"/><rect x="120" y="111" fill="#1009a4"/><rect x="122" y="111" fill="#1109a3"/><rect x="124" y="111" fill="#1209a2"/><rect x="126" y="111" fill="#1209a1"/><rect x="128" y="111" fill="#1309a0"/><rect x="130" y="111" fill="#14099f"/><rect x="132" y="111" fill="#14099e"/><rect x="134" y="111" fill="#15099e"/><rect x="6" y="113" fill="#166adc"/><rect x="8" y="113" fill="#1a99d5"/><rect x="10" y="113" fill="#1ea9c7"/><rect x="12" y="113" fill="#1ba0d4"/><rect x="14" y="113" fill="#1779da"/><rect x="16" y="113" fill="#1353d8"/><rect x="18" y="113" fill="#0e29cb"/><rect x="20" y="113" fill="#0e22c3"/><rect x="22" y="113" fill="#0e20c1"/><rect x="24" y="113" fill="#0e20c1"/><rect x="26" y="113" fill="#0e20c1"/><rect x="28" y="113" fill="#0e20c1"/><rect x="30" y="113" fill="#0e1fc0"/><rect x="32" y="113" fill="#0e1cbc"/><rect x="34" y="113" fill="#0e16b5"/><rect x="36" y="113" fill="#0e0caa"/><rect x="38" y="113" fill="#16099b"/><rect x="40" y="113" fill="#21088d"/><rect x="42" y="113" fill="#290882"/><rect x="44" y="113" fill="#2a0880"/><rect x="46" y="113" fill="#260886"/><rect x="48" y="113" fill="#1c0993"/><rect x="50" y="113" fill="#1209a1"/><rect x="52" y="113" fill="#0e0fad"/><rect x="54" y="113" fill="#0e16b5"/><rect x="56" y="113" fill="#0e19b9"/><rect x="58" y="113" fill="#0e1bbb"/><rect x="60" y="113" fill="#0e1abb"/><rect x="62" y="113" fill="#0e1aba"/><rect x="64" y="113" fill="#0e19b8"/><rect x="66" y="113" fill="#0e17b7"/><rect x="68" y="113" fill="#0e16b5"/><rect x="70" y="113" fill="#0e21c2"/><rect x="72" y="113" fill="#0e20c1"/><rect x="74" y="113" fill="#0e1fc0"/><rect x="76" y="113" fill="#0e1fbf"/><rect x="78" y="113" fill="#0e1ebe"/><rect x="80" y="113" fill="#0e1dbd"/><rect x="82" y="113" fill="#0e1cbc"/><rect x="84" y="113" fill="#0e1bbb"/><rect x="86" y="113" fill="#0e1aba"/><rect x="88" y="113" fill="#0e1aba"/><rect x="90" y="113" fill="#0e19b9"/><rect x="92" y="113" fill="#0e18b8"/><rect x="94" y="113" fill="#0e18b7"/><rect x="96" y="113" fill="#0e17b7"/><rect x="98" y="113" fill="#0e17b6"/><rect x="100" y="113" fill="#0e16b5"/><rect x="102" y="113" fill="#0e14b3"/><rect x="104" y="113" fill="#0e12b1"/><rect x="106" y="113" fill="#0e10af"/><rect x="108" y="113" fill="#0e0fae"/><rect x="110" y="113" fill="#0e0dac"/><rect x="112" y="113" fill="#0e0caa"/><rect x="114" y="113" fill="#0e0ba9"/><rect x="116" y="113" fill="#0e09a7"/><rect x="118" y="113" fill="#0f09a6"/><rect x="120" y="113" fill="#1009a5"/><rect x="122" y="113" fill="#1009a4"/><rect x="124" y="113" fill="#1109a2"/><rect x="126" y="113" fill="#1209a1"/><rect x="128" y="113" fill="#1309a0"/><rect x="130" y="113" fill="#1309a0"/><rect x="132" y="113" fill="#14099f"/><rect x="134" y="113" fill="#14099e"/><rect x="6" y="115" fill="#176edc"/><rect x="8" y="115" fill="#1b9dd5"/><rect x="10" y="115" fill="#1fabc1"/><rect x="12" y="115" fill="#1ba4d4"/><rect x="14" y="115" fill="#187ed9"/><rect x="16" y="115" fill="#1457da"/><rect x="18" y="115" fill="#1141d3"/><rect x="20" y="115" fill="#0e24c6"/><rect x="22" y="115" fill="#0e23c4"/><rect x="24" y="115" fill="#0e22c4"/><rect x="26" y="115" fill="#0e23c4"/><rect x="28" y="115" fill="#0e23c4"/><rect x="30" y="115" fill="#0e22c3"/><rect x="32" y="115" fill="#0e1fc0"/><rect x="34" y="115" fill="#0e19b9"/><rect x="36" y="115" fill="#0e0fad"/><rect x="38" y="115" fill="#14099e"/><rect x="40" y="115" fill="#20088e"/><rect x="42" y="115" fill="#280882"/><rect x="44" y="115" fill="#2a0880"/><rect x="46" y="115" fill="#250887"/><rect x="48" y="115" fill="#1b0995"/><rect x="50" y="115" fill="#1009a4"/><rect x="52" y="115" fill="#0e12b1"/><rect x="54" y="115" fill="#0e19b9"/><rect x="56" y="115" fill="#0e1cbc"/><rect x="58" y="115" fill="#0e1dbd"/><rect x="60" y="115" fill="#0e1dbd"/><rect x="62" y="115" fill="#0e1cbc"/><rect x="64" y="115" fill="#0e1bbb"/><rect x="66" y="115" fill="#0e19b9"/><rect x="68" y="115" fill="#0e18b7"/><rect x="70" y="115" fill="#0e24c5"/><rect x="72" y="115" fill="#0e23c4"/><rect x="74" y="115" fill="#0e22c3"/><rect x="76" y="115" fill="#0e21c2"/><rect x="78" y="115" fill="#0e20c1"/><rect x="80" y="115" fill="#0e1fbf"/><rect x="82" y="115" fill="#0e1ebe"/><rect x="84" y="115" fill="#0e1dbd"/><rect x="86" y="115" fill="#0e1cbc"/><rect x="88" y="115" fill="#0e1bbb"/><rect x="90" y="115" fill="#0e1aba"/><rect x="92" y="115" fill="#0e19b9"/><rect x="94" y="115" fill="#0e19b9"/><rect x="96" y="115" fill="#0e18b8"/><rect x="98" y="115" fill="#0e18b8"/><rect x="100" y="115" fill="#0e17b6"/><rect x="102" y="115" fill="#0e15b4"/><rect x="104" y="115" fill="#0e13b2"/><rect x="106" y="115" fill="#0e11b0"/><rect x="108" y="115" fill="#0e10ae"/><rect x="110" y="115" fill="#0e0ead"/><rect x="112" y="115" fill="#0e0dab"/><rect x="114" y="115" fill="#0e0ba9"/><rect x="116" y="115" fill="#0e0aa8"/><rect x="118" y="115" fill="#0e09a6"/><rect x="120" y="115" fill="#0f09a5"/><rect x="122" y="115" fill="#1009a4"/><rect x="124" y="115" fill="#1109a3"/><rect x="126" y="115" fill="#1209a2"/><rect x="128" y="115" fill="#1209a1"/><rect x="130" y="115" fill="#1309a0"/><rect x="132" y="115" fill="#14099f"/><rect x="134" y="115" fill="#14099e"/><rect x="6" y="117" fill="#1772db"/><rect x="8" y="117" fill="#1ba1d4"/><rect x="10" y="117" fill="#20adbc"/><rect x="12" y="117" fill="#1ca6ce"/><rect x="14" y="117" fill="#1882d9"/><rect x="16" y="117" fill="#145cdb"/><rect x="18" y="117" fill="#1145d4"/><rect x="20" y="117" fill="#0e26c8"/><rect x="22" y="117" fill="#0e25c6"/><rect x="24" y="117" fill="#0e24c6"/><rect x="26" y="117" fill="#0e25c6"/><rect x="28" y="117" fill="#0e25c6"/><rect x="30" y="117" fill="#0e24c5"/><rect x="32" y="117" fill="#0e21c2"/><rect x="34" y="117" fill="#0e1cbc"/><rect x="36" y="117" fill="#0e11b0"/><rect x="38" y="117" fill="#1309a0"/><rect x="40" y="117" fill="#1f088f"/><rect x="42" y="117" fill="#280883"/><rect x="44" y="117" fill="#2a0880"/><rect x="46" y="117" fill="#240888"/><rect x="48" y="117" fill="#190997"/><rect x="50" y="117" fill="#0e09a7"/><rect x="52" y="117" fill="#0e15b4"/><rect x="54" y="117" fill="#0e1bbc"/><rect x="56" y="117" fill="#0e1ebf"/><rect x="58" y="117" fill="#0e1fc0"/><rect x="60" y="117" fill="#0e1fbf"/><rect x="62" y="117" fill="#0e1ebe"/><rect x="64" y="117" fill="#0e1cbd"/><rect x="66" y="117" fill="#0e1bbb"/><rect x="68" y="117" fill="#0e28ca"/><rect x="70" y="117" fill="#0e26c8"/><rect x="72" y="117" fill="#0e25c7"/><rect x="74" y="117" fill="#0e24c6"/><rect x="76" y="117" fill="#0e23c4"/><rect x="78" y="117" fill="#0e22c3"/><rect x="80" y="117" fill="#0e21c2"/><rect x="82" y="117" fill="#0e1fc0"/><rect x="84" y="117" fill="#0e1ebf"/><rect x="86" y="117" fill="#0e1dbe"/><rect x="88" y="117" fill="#0e1cbd"/><rect x="90" y="117" fill="#0e1bbc"/><rect x="92" y="117" fill="#0e1bbb"/><rect x="94" y="117" fill="#0e1aba"/><rect x="96" y="117" fill="#0e19b9"/><rect x="98" y="117" fill="#0e19b9"/><rect x="100" y="117" fill="#0e17b7"/><rect x="102" y="117" fill="#0e15b5"/><rect x="104" y="117" fill="#0e14b3"/><rect x="106" y="117" fill="#0e12b1"/><rect x="108" y="117" fill="#0e10af"/><rect x="110" y="117" fill="#0e0fad"/><rect x="112" y="117" fill="#0e0dab"/><rect x="114" y="117" fill="#0e0caa"/><rect x="116" y="117" fill="#0e0aa8"/><rect x="118" y="117" fill="#0e09a7"/><rect x="120" y="117" fill="#0f09a6"/><rect x="122" y="117" fill="#1009a4"/><rect x="124" y="117" fill="#1109a3"/><rect x="126" y="117" fill="#1109a2"/><rect x="128" y="117" fill="#1209a1"/><rect x="130" y="117" fill="#1309a0"/><rect x="132" y="117" fill="#14099f"/><rect x="134" y="117" fill="#14099e"/><rect x="6" y="119" fill="#1775db"/><rect x="8" y="119" fill="#1ba4d4"/><rect x="10" y="119" fill="#20afb8"/><rect x="12" y="119" fill="#1da8ca"/><rect x="14" y="119" fill="#1986d8"/><rect x="16" y="119" fill="#1560dc"/><rect x="18" y="119" fill="#124ad6"/><rect x="20" y="119" fill="#0e28ca"/><rect x="22" y="119" fill="#0e26c8"/><rect x="24" y="119" fill="#0e26c8"/><rect x="26" y="119" fill="#0e27c8"/><rect x="28" y="119" fill="#0e27c8"/><rect x="30" y="119" fill="#0e26c8"/><rect x="32" y="119" fill="#0e24c5"/><rect x="34" y="119" fill="#0e1ebf"/><rect x="36" y="119" fill="#0e14b4"/><rect x="38" y="119" fill="#1109a3"/><rect x="40" y="119" fill="#1e0891"/><rect x="42" y="119" fill="#280883"/><rect x="44" y="119" fill="#2a0880"/><rect x="46" y="119" fill="#240889"/><rect x="48" y="119" fill="#180999"/><rect x="50" y="119" fill="#0e0caa"/><rect x="52" y="119" fill="#0e17b7"/><rect x="54" y="119" fill="#0e1ebe"/><rect x="56" y="119" fill="#0e20c1"/><rect x="58" y="119" fill="#0e21c2"/><rect x="60" y="119" fill="#0e20c1"/><rect x="62" y="119" fill="#0e1fc0"/><rect x="64" y="119" fill="#0e1ebe"/><rect x="66" y="119" fill="#0e1cbd"/><rect x="68" y="119" fill="#0e2bcc"/><rect x="70" y="119" fill="#0e29cb"/><rect x="72" y="119" fill="#0e28c9"/><rect x="74" y="119" fill="#0e26c8"/><rect x="76" y="119" fill="#0e25c6"/><rect x="78" y="119" fill="#0e24c5"/><rect x="80" y="119" fill="#0e22c3"/><rect x="82" y="119" fill="#0e21c2"/><rect x="84" y="119" fill="#0e20c1"/><rect x="86" y="119" fill="#0e1fbf"/><rect x="88" y="119" fill="#0e1dbe"/><rect x="90" y="119" fill="#0e1cbd"/><rect x="92" y="119" fill="#0e1cbc"/><rect x="94" y="119" fill="#0e1bbb"/><rect x="96" y="119" fill="#0e1aba"/><rect x="98" y="119" fill="#0e19b9"/><rect x="100" y="119" fill="#0e18b8"/><rect x="102" y="119" fill="#0e16b6"/><rect x="104" y="119" fill="#0e14b4"/><rect x="106" y="119" fill="#0e12b2"/><rect x="108" y="119" fill="#0e11b0"/><rect x="110" y="119" fill="#0e0fae"/><rect x="112" y="119" fill="#0e0dac"/><rect x="114" y="119" fill="#0e0caa"/><rect x="116" y="119" fill="#0e0ba9"/><rect x="118" y="119" fill="#0e09a7"/><rect x="120" y="119" fill="#0f09a6"/><rect x="122" y="119" fill="#1009a5"/><rect x="124" y="119" fill="#1009a3"/><rect x="126" y="119" fill="#1109a2"/><rect x="128" y="119" fill="#1209a1"/><rect x="130" y="119" fill="#1309a0"/><rect x="132" y="119" fill="#13099f"/><rect x="134" y="119" fill="#14099f"/><rect x="6" y="121" fill="#1778da"/><rect x="8" y="121" fill="#1ca6d1"/><rect x="10" y="121" fill="#21b0b4"/><rect x="12" y="121" fill="#1eaac5"/><rect x="14" y="121" fill="#198ad8"/><rect x="16" y="121" fill="#1664dd"/><rect x="18" y="121" fill="#134ed7"/><rect x="20" y="121" fill="#1145d4"/><rect x="22" y="121" fill="#0e28c9"/><rect x="24" y="121" fill="#0e28ca"/><rect x="26" y="121" fill="#0e28ca"/><rect x="28" y="121" fill="#0e28ca"/><rect x="30" y="121" fill="#0e28ca"/><rect x="32" y="121" fill="#0e26c7"/><rect x="34" y="121" fill="#0e21c2"/><rect x="36" y="121" fill="#0e17b7"/><rect x="38" y="121" fill="#0f09a6"/><rect x="40" y="121" fill="#1d0992"/><rect x="42" y="121" fill="#270884"/><rect x="44" y="121" fill="#2a0880"/><rect x="46" y="121" fill="#23088a"/><rect x="48" y="121" fill="#17099b"/><rect x="50" y="121" fill="#0e0ead"/><rect x="52" y="121" fill="#0e1aba"/><rect x="54" y="121" fill="#0e20c1"/><rect x="56" y="121" fill="#0e22c3"/><rect x="58" y="121" fill="#0e22c4"/><rect x="60" y="121" fill="#0e22c3"/><rect x="62" y="121" fill="#0e21c2"/><rect x="64" y="121" fill="#0e1fc0"/><rect x="66" y="121" fill="#0f34cf"/><rect x="68" y="121" fill="#0e30cd"/><rect x="70" y="121" fill="#0e2ccc"/><rect x="72" y="121" fill="#0e2acc"/><rect x="74" y="121" fill="#0e28ca"/><rect x="76" y="121" fill="#0e27c8"/><rect x="78" y="121" fill="#0e25c6"/><rect x="80" y="121" fill="#0e23c5"/><rect x="82" y="121" fill="#0e22c3"/><rect x="84" y="121" fill="#0e20c1"/><rect x="86" y="121" fill="#0e1fc0"/><rect x="88" y="121" fill="#0e1ebe"/><rect x="90" y="121" fill="#0e1cbd"/><rect x="92" y="121" fill="#0e1bbc"/><rect x="94" y="121" fill="#0e1abb"/><rect x="96" y="121" fill="#0e1aba"/><rect x="98" y="121" fill="#0e19b9"/><rect x="100" y="121" fill="#0e18b7"/><rect x="102" y="121" fill="#0e15b5"/><rect x="104" y="121" fill="#0e14b3"/><rect x="106" y="121" fill="#0e12b1"/><rect x="108" y="121" fill="#0e10af"/><rect x="110" y="121" fill="#0e0ead"/><rect x="112" y="121" fill="#0e0dab"/><rect x="114" y="121" fill="#0e0ba9"/><rect x="116" y="121" fill="#0e0aa8"/><rect x="118" y="121" fill="#0e09a6"/><rect x="120" y="121" fill="#0f09a5"/><rect x="122" y="121" fill="#1009a4"/><rect x="124" y="121" fill="#1109a2"/><rect x="126" y="121" fill="#1209a1"/><rect x="128" y="121" fill="#1309a0"/><rect x="130" y="121" fill="#14099f"/><rect x="132" y="121" fill="#14099e"/><rect x="134" y="121" fill="#15099d"/><rect x="6" y="123" fill="#187ada"/><rect x="8" y="123" fill="#1ca7ce"/><rect x="10" y="123" fill="#21b2b1"/><rect x="12" y="123" fill="#1fabc2"/><rect x="14" y="123" fill="#198dd7"/><rect x="16" y="123" fill="#1668dd"/><rect x="18" y="123" fill="#1352d8"/><rect x="20" y="123" fill="#124ad5"/><rect x="22" y="123" fill="#0e29cb"/><rect x="24" y="123" fill="#0e29cb"/><rect x="26" y="123" fill="#0e29cb"/><rect x="28" y="123" fill="#0e2acc"/><rect x="30" y="123" fill="#0e29cb"/><rect x="32" y="123" fill="#0e28c9"/><rect x="34" y="123" fill="#0e23c4"/><rect x="36" y="123" fill="#0e19b9"/><rect x="38" y="123" fill="#0e0aa8"/><rect x="40" y="123" fill="#1c0994"/><rect x="42" y="123" fill="#270884"/><rect x="44" y="123" fill="#2a0881"/><rect x="46" y="123" fill="#22088b"/><rect x="48" y="123" fill="#15099d"/><rect x="50" y="123" fill="#0e11af"/><rect x="52" y="123" fill="#0e1cbc"/><rect x="54" y="123" fill="#0e22c3"/><rect x="56" y="123" fill="#0e24c5"/><rect x="58" y="123" fill="#0e24c5"/><rect x="60" y="123" fill="#0e23c4"/><rect x="62" y="123" fill="#0e22c3"/><rect x="64" y="123" fill="#0e20c1"/><rect x="66" y="123" fill="#1038d0"/><rect x="68" y="123" fill="#0f34cf"/><rect x="70" y="123" fill="#0e30cd"/><rect x="72" y="123" fill="#0e2dcd"/><rect x="74" y="123" fill="#0e2acc"/><rect x="76" y="123" fill="#0e28ca"/><rect x="78" y="123" fill="#0e26c7"/><rect x="80" y="123" fill="#0e24c5"/><rect x="82" y="123" fill="#0e22c3"/><rect x="84" y="123" fill="#0e21c2"/><rect x="86" y="123" fill="#0e1fc0"/><rect x="88" y="123" fill="#0e1ebe"/><rect x="90" y="123" fill="#0e1cbd"/><rect x="92" y="123" fill="#0e1bbb"/><rect x="94" y="123" fill="#0e1aba"/><rect x="96" y="123" fill="#0e19b9"/><rect x="98" y="123" fill="#0e18b8"/><rect x="100" y="123" fill="#0e17b6"/><rect x="102" y="123" fill="#0e15b4"/><rect x="104" y="123" fill="#0e13b2"/><rect x="106" y="123" fill="#0e11b0"/><rect x="108" y="123" fill="#0e0fae"/><rect x="110" y="123" fill="#0e0dac"/><rect x="112" y="123" fill="#0e0caa"/><rect x="114" y="123" fill="#0e0aa8"/><rect x="116" y="123" fill="#0e09a7"/><rect x="118" y="123" fill="#0f09a5"/><rect x="120" y="123" fill="#1009a4"/><rect x="122" y="123" fill="#1109a2"/><rect x="124" y="123" fill="#1209a1"/><rect x="126" y="123" fill="#1309a0"/><rect x="128" y="123" fill="#14099f"/><rect x="130" y="123" fill="#14099e"/><rect x="132" y="123" fill="#15099d"/><rect x="134" y="123" fill="#16099c"/><rect x="6" y="125" fill="#187bda"/><rect x="8" y="125" fill="#1da7cc"/><rect x="10" y="125" fill="#22b2af"/><rect x="12" y="125" fill="#1facbf"/><rect x="14" y="125" fill="#1a90d7"/><rect x="16" y="125" fill="#166bdc"/><rect x="18" y="125" fill="#1455d9"/><rect x="20" y="125" fill="#124ed7"/><rect x="22" y="125" fill="#124dd6"/><rect x="24" y="125" fill="#0e2acc"/><rect x="26" y="125" fill="#0e2bcc"/><rect x="28" y="125" fill="#0e2bcc"/><rect x="30" y="125" fill="#0e2bcc"/><rect x="32" y="125" fill="#0e29cb"/><rect x="34" y="125" fill="#0e25c6"/><rect x="36" y="125" fill="#0e1cbc"/><rect x="38" y="125" fill="#0e0cab"/><rect x="40" y="125" fill="#1b0996"/><rect x="42" y="125" fill="#270885"/><rect x="44" y="125" fill="#2a0881"/><rect x="46" y="125" fill="#22088c"/><rect x="48" y="125" fill="#14099f"/><rect x="50" y="125" fill="#0e13b2"/><rect x="52" y="125" fill="#0e1ebe"/><rect x="54" y="125" fill="#0e23c4"/><rect x="56" y="125" fill="#0e25c6"/><rect x="58" y="125" fill="#0e25c6"/><rect x="60" y="125" fill="#0e24c5"/><rect x="62" y="125" fill="#0e23c4"/><rect x="64" y="125" fill="#0e21c2"/><rect x="66" y="125" fill="#103cd1"/><rect x="68" y="125" fill="#0f37d0"/><rect x="70" y="125" fill="#0f33ce"/><rect x="72" y="125" fill="#0e2fcd"/><rect x="74" y="125" fill="#0e2ccc"/><rect x="76" y="125" fill="#0e29cb"/><rect x="78" y="125" fill="#0e27c8"/><rect x="80" y="125" fill="#0e24c6"/><rect x="82" y="125" fill="#0e23c4"/><rect x="84" y="125" fill="#0e21c2"/><rect x="86" y="125" fill="#0e1fc0"/><rect x="88" y="125" fill="#0e1dbe"/><rect x="90" y="125" fill="#0e1cbc"/><rect x="92" y="125" fill="#0e1bbb"/><rect x="94" y="125" fill="#0e19b9"/><rect x="96" y="125" fill="#0e18b8"/><rect x="98" y="125" fill="#0e17b7"/><rect x="100" y="125" fill="#0e16b5"/><rect x="102" y="125" fill="#0e14b3"/><rect x="104" y="125" fill="#0e12b1"/><rect x="106" y="125" fill="#0e10af"/><rect x="108" y="125" fill="#0e0ead"/><rect x="110" y="125" fill="#0e0cab"/><rect x="112" y="125" fill="#0e0ba9"/><rect x="114" y="125" fill="#0e09a7"/><rect x="116" y="125" fill="#0f09a5"/><rect x="118" y="125" fill="#1009a4"/><rect x="120" y="125" fill="#1109a3"/><rect x="122" y="125" fill="#1209a1"/><rect x="124" y="125" fill="#1309a0"/><rect x="126" y="125" fill="#14099f"/><rect x="128" y="125" fill="#15099e"/><rect x="130" y="125" fill="#15099d"/><rect x="132" y="125" fill="#16099c"/><rect x="134" y="125" fill="#17099b"/><rect x="6" y="127" fill="#187cda"/><rect x="8" y="127" fill="#1da8ca"/><rect x="10" y="127" fill="#22b3ad"/><rect x="12" y="127" fill="#1fadbd"/><rect x="14" y="127" fill="#1a92d6"/><rect x="16" y="127" fill="#166edc"/><rect x="18" y="127" fill="#1458da"/><rect x="20" y="127" fill="#1351d8"/><rect x="22" y="127" fill="#1351d8"/><rect x="24" y="127" fill="#0e2bcc"/><rect x="26" y="127" fill="#0e2ccc"/><rect x="28" y="127" fill="#0e2ccc"/><rect x="30" y="127" fill="#0e2ccc"/><rect x="32" y="127" fill="#0e2acc"/><rect x="34" y="127" fill="#0e26c8"/><rect x="36" y="127" fill="#0e1ebe"/><rect x="38" y="127" fill="#0e0ead"/><rect x="40" y="127" fill="#190997"/><rect x="42" y="127" fill="#260885"/><rect x="44" y="127" fill="#2a0881"/><rect x="46" y="127" fill="#21088d"/><rect x="48" y="127" fill="#1209a1"/><rect x="50" y="127" fill="#0e15b4"/><rect x="52" y="127" fill="#0e20c0"/><rect x="54" y="127" fill="#0e24c6"/><rect x="56" y="127" fill="#0e26c7"/><rect x="58" y="127" fill="#0e25c7"/><rect x="60" y="127" fill="#0e24c6"/><rect x="62" y="127" fill="#1880d9"/><rect x="64" y="127" fill="#1145d4"/><rect x="66" y="127" fill="#1140d2"/><rect x="68" y="127" fill="#103ad1"/><rect x="70" y="127" fill="#0f36cf"/><rect x="72" y="127" fill="#0f31ce"/><rect x="74" y="127" fill="#0e2dcd"/><rect x="76" y="127" fill="#0e29cb"/><rect x="78" y="127" fill="#0e27c9"/><rect x="80" y="127" fill="#0e25c6"/><rect x="82" y="127" fill="#0e23c4"/><rect x="84" y="127" fill="#0e21c1"/><rect x="86" y="127" fill="#0e1fbf"/><rect x="88" y="127" fill="#0e1dbd"/><rect x="90" y="127" fill="#0e1bbc"/><rect x="92" y="127" fill="#0e1aba"/><rect x="94" y="127" fill="#0e19b8"/><rect x="96" y="127" fill="#0e17b7"/><rect x="98" y="127" fill="#0e16b6"/><rect x="100" y="127" fill="#0e15b4"/><rect x="102" y="127" fill="#0e13b2"/><rect x="104" y="127" fill="#0e11af"/><rect x="106" y="127" fill="#0e0fad"/><rect x="108" y="127" fill="#0e0dab"/><rect x="110" y="127" fill="#0e0ba9"/><rect x="112" y="127" fill="#0e0aa8"/><rect x="114" y="127" fill="#0f09a6"/><rect x="116" y="127" fill="#1009a4"/><rect x="118" y="127" fill="#1109a3"/><rect x="120" y="127" fill="#1209a1"/><rect x="122" y="127" fill="#1309a0"/><rect x="124" y="127" fill="#14099f"/><rect x="126" y="127" fill="#15099e"/><rect x="128" y="127" fill="#16099c"/><rect x="130" y="127" fill="#16099b"/><rect x="132" y="127" fill="#17099b"/><rect x="134" y="127" fill="#18099a"/><rect x="6" y="129" fill="#187dda"/><rect x="8" y="129" fill="#1da8ca"/><rect x="10" y="129" fill="#22b3ac"/><rect x="12" y="129" fill="#20adbc"/><rect x="14" y="129" fill="#1a93d6"/><rect x="16" y="129" fill="#176fdc"/><rect x="18" y="129" fill="#145bdb"/><rect x="20" y="129" fill="#1354d9"/><rect x="22" y="129" fill="#1355d9"/><rect x="24" y="129" fill="#1458da"/><rect x="26" y="129" fill="#1ca6d0"/><rect x="28" y="129" fill="#1a99d5"/><rect x="30" y="129" fill="#0e2dcc"/><rect x="32" y="129" fill="#0e2bcc"/><rect x="34" y="129" fill="#0e27c9"/><rect x="36" y="129" fill="#0e1fc0"/><rect x="38" y="129" fill="#0e10af"/><rect x="40" y="129" fill="#180999"/><rect x="42" y="129" fill="#260886"/><rect x="44" y="129" fill="#290881"/><rect x="46" y="129" fill="#20088e"/><rect x="48" y="129" fill="#1109a3"/><rect x="50" y="129" fill="#0e17b7"/><rect x="52" y="129" fill="#0e21c2"/><rect x="54" y="129" fill="#0e25c7"/><rect x="56" y="129" fill="#0e26c8"/><rect x="58" y="129" fill="#1989d8"/><rect x="60" y="129" fill="#1b9cd5"/><rect x="62" y="129" fill="#1b9bd5"/><rect x="64" y="129" fill="#1249d5"/><rect x="66" y="129" fill="#1143d4"/><rect x="68" y="129" fill="#103dd2"/><rect x="70" y="129" fill="#0f38d0"/><rect x="72" y="129" fill="#0f33ce"/><rect x="74" y="129" fill="#0e2ecd"/><rect x="76" y="129" fill="#0e2acc"/><rect x="78" y="129" fill="#0e27c9"/><rect x="80" y="129" fill="#0e25c6"/><rect x="82" y="129" fill="#0e22c3"/><rect x="84" y="129" fill="#0e20c1"/><rect x="86" y="129" fill="#0e1ebf"/><rect x="88" y="129" fill="#0e1cbd"/><rect x="90" y="129" fill="#0e1bbb"/><rect x="92" y="129" fill="#0e19b9"/><rect x="94" y="129" fill="#0e18b7"/><rect x="96" y="129" fill="#0e16b6"/><rect x="98" y="129" fill="#0e15b5"/><rect x="100" y="129" fill="#0e13b3"/><rect x="102" y="129" fill="#0e11b0"/><rect x="104" y="129" fill="#0e0fae"/><rect x="106" y="129" fill="#0e0dac"/><rect x="108" y="129" fill="#0e0caa"/><rect x="110" y="129" fill="#0e0aa8"/><rect x="112" y="129" fill="#0e09a6"/><rect x="114" y="129" fill="#1009a4"/><rect x="116" y="129" fill="#1109a3"/><rect x="118" y="129" fill="#1209a1"/><rect x="120" y="129" fill="#1309a0"/><rect x="122" y="129" fill="#14099f"/><rect x="124" y="129" fill="#15099d"/><rect x="126" y="129" fill="#16099c"/><rect x="128" y="129" fill="#17099b"/><rect x="130" y="129" fill="#17099a"/><rect x="132" y="129" fill="#180999"/><rect x="134" y="129" fill="#190998"/><rect x="6" y="131" fill="#187cda"/><rect x="8" y="131" fill="#1da8ca"/><rect x="10" y="131" fill="#22b3ad"/><rect x="12" y="131" fill="#20adbc"/><rect x="14" y="131" fill="#1a94d6"/><rect x="16" y="131" fill="#1771db"/><rect x="18" y="131" fill="#155cdb"/><rect x="20" y="131" fill="#1457d9"/><rect x="22" y="131" fill="#1458da"/><rect x="24" y="131" fill="#2ac480"/><rect x="26" y="131" fill="#24b8a1"/><rect x="28" y="131" fill="#22b2af"/><rect x="30" y="131" fill="#1ba0d4"/><rect x="32" y="131" fill="#0e2ccc"/><rect x="34" y="131" fill="#0e28ca"/><rect x="36" y="131" fill="#0e21c2"/><rect x="38" y="131" fill="#0e12b1"/><rect x="40" y="131" fill="#17099a"/><rect x="42" y="131" fill="#260886"/><rect x="44" y="131" fill="#290881"/><rect x="46" y="131" fill="#1f088f"/><rect x="48" y="131" fill="#0f09a5"/><rect x="50" y="131" fill="#0e19b8"/><rect x="52" y="131" fill="#0e22c3"/><rect x="54" y="131" fill="#0e26c7"/><rect x="56" y="131" fill="#198dd7"/><rect x="58" y="131" fill="#1eaac4"/><rect x="60" y="131" fill="#22b4ac"/><rect x="62" y="131" fill="#29c384"/><rect x="64" y="131" fill="#24b8a1"/><rect x="66" y="131" fill="#1146d4"/><rect x="68" y="131" fill="#113fd2"/><rect x="70" y="131" fill="#1039d0"/><rect x="72" y="131" fill="#0f34cf"/><rect x="74" y="131" fill="#0e2fcd"/><rect x="76" y="131" fill="#0e2acc"/><rect x="78" y="131" fill="#0e27c8"/><rect x="80" y="131" fill="#0e24c5"/><rect x="82" y="131" fill="#0e22c3"/><rect x="84" y="131" fill="#0e1fc0"/><rect x="86" y="131" fill="#0e1dbe"/><rect x="88" y="131" fill="#0e1bbc"/><rect x="90" y="131" fill="#0e1aba"/><rect x="92" y="131" fill="#0e18b8"/><rect x="94" y="131" fill="#0e16b6"/><rect x="96" y="131" fill="#0e15b4"/><rect x="98" y="131" fill="#0e14b3"/><rect x="100" y="131" fill="#0e12b1"/><rect x="102" y="131" fill="#0e10af"/><rect x="104" y="131" fill="#0e0ead"/><rect x="106" y="131" fill="#0e0caa"/><rect x="108" y="131" fill="#0e0aa8"/><rect x="110" y="131" fill="#0e09a6"/><rect x="112" y="131" fill="#1009a5"/><rect x="114" y="131" fill="#1109a3"/><rect x="116" y="131" fill="#1209a1"/><rect x="118" y="131" fill="#1309a0"/><rect x="120" y="131" fill="#14099e"/><rect x="122" y="131" fill="#15099d"/><rect x="124" y="131" fill="#16099c"/><rect x="126" y="131" fill="#17099b"/><rect x="128" y="131" fill="#18099a"/><rect x="130" y="131" fill="#180999"/><rect x="132" y="131" fill="#190998"/><rect x="134" y="131" fill="#1a0997"/><rect x="6" y="133" fill="#187bda"/><rect x="8" y="133" fill="#1da8cb"/><rect x="10" y="133" fill="#22b3ae"/><rect x="12" y="133" fill="#1fadbd"/><rect x="14" y="133" fill="#1a94d6"/><rect x="16" y="133" fill="#1771db"/><rect x="18" y="133" fill="#155ddc"/><rect x="20" y="133" fill="#1458da"/><rect x="22" y="133" fill="#2ac480"/><rect x="24" y="133" fill="#48cf5d"/><rect x="26" y="133" fill="#66d641"/><rect x="28" y="133" fill="#34ca6f"/><rect x="30" y="133" fill="#24b8a0"/><rect x="32" y="133" fill="#1b9bd5"/><rect x="34" y="133" fill="#0e28ca"/><rect x="36" y="133" fill="#0e22c3"/><rect x="38" y="133" fill="#0e14b3"/><rect x="40" y="133" fill="#16099c"/><rect x="42" y="133" fill="#250887"/><rect x="44" y="133" fill="#240888"/><rect x="46" y="133" fill="#1f0890"/><rect x="48" y="133" fill="#0e09a7"/><rect x="50" y="133" fill="#0e1aba"/><rect x="52" y="133" fill="#0e23c4"/><rect x="54" y="133" fill="#1986d8"/><rect x="56" y="133" fill="#20adbc"/><rect x="58" y="133" fill="#2ac382"/><rect x="60" y="133" fill="#32c971"/><rect x="62" y="133" fill="#49cf5c"/><rect x="64" y="133" fill="#2ac481"/><rect x="66" y="133" fill="#1249d5"/><rect x="68" y="133" fill="#1141d3"/><rect x="70" y="133" fill="#103ad1"/><rect x="72" y="133" fill="#0f34cf"/><rect x="74" y="133" fill="#0e2ecd"/><rect x="76" y="133" fill="#0e29cb"/><rect x="78" y="133" fill="#0e26c8"/><rect x="80" y="133" fill="#0e23c5"/><rect x="82" y="133" fill="#0e21c2"/><rect x="84" y="133" fill="#0e1ebf"/><rect x="86" y="133" fill="#0e1cbc"/><rect x="88" y="133" fill="#0e1aba"/><rect x="90" y="133" fill="#0e18b8"/><rect x="92" y="133" fill="#0e17b6"/><rect x="94" y="133" fill="#0e15b4"/><rect x="96" y="133" fill="#0e14b3"/><rect x="98" y="133" fill="#0e12b1"/><rect x="100" y="133" fill="#0e11af"/><rect x="102" y="133" fill="#0e0ead"/><rect x="104" y="133" fill="#0e0cab"/><rect x="106" y="133" fill="#0e0ba9"/><rect x="108" y="133" fill="#0e09a7"/><rect x="110" y="133" fill="#0f09a5"/><rect x="112" y="133" fill="#1109a3"/><rect x="114" y="133" fill="#1209a1"/><rect x="116" y="133" fill="#1309a0"/><rect x="118" y="133" fill="#14099e"/><rect x="120" y="133" fill="#15099d"/><rect x="122" y="133" fill="#16099c"/><rect x="124" y="133" fill="#17099a"/><rect x="126" y="133" fill="#180999"/><rect x="128" y="133" fill="#190998"/><rect x="130" y="133" fill="#190997"/><rect x="132" y="133" fill="#1a0996"/><rect x="134" y="133" fill="#1b0995"/><rect x="6" y="135" fill="#187ada"/><rect x="8" y="135" fill="#1da7cd"/><rect x="10" y="135" fill="#22b2af"/><rect x="12" y="135" fill="#1fadbe"/><rect x="14" y="135" fill="#1a93d6"/><rect x="16" y="135" fill="#1770dc"/><rect x="18" y="135" fill="#155ddc"/><rect x="20" y="135" fill="#1459da"/><rect x="22" y="135" fill="#3dcc67"/><rect x="24" y="135" fill="#6dd83a"/><rect x="26" y="135" fill="#a2de25"/><rect x="28" y="135" fill="#81dd28"/><rect x="30" y="135" fill="#4ed057"/><rect x="32" y="135" fill="#23b4aa"/><rect x="34" y="135" fill="#0e28ca"/><rect x="36" y="135" fill="#0e23c4"/><rect x="38" y="135" fill="#0e16b5"/><rect x="40" y="135" fill="#15099e"/><rect x="42" y="135" fill="#250887"/><rect x="44" y="135" fill="#23088a"/><rect x="46" y="135" fill="#1e0891"/><rect x="48" y="135" fill="#0e0ba9"/><rect x="50" y="135" fill="#0e1bbb"/><rect x="52" y="135" fill="#0e23c4"/><rect x="54" y="135" fill="#1da8ca"/><rect x="56" y="135" fill="#2fc874"/><rect x="58" y="135" fill="#72da36"/><rect x="60" y="135" fill="#a7de24"/><rect x="62" y="135" fill="#73da35"/><rect x="64" y="135" fill="#40cd64"/><rect x="66" y="135" fill="#26bb97"/><rect x="68" y="135" fill="#1141d3"/><rect x="70" y="135" fill="#103ad1"/><rect x="72" y="135" fill="#0f33cf"/><rect x="74" y="135" fill="#0e2dcd"/><rect x="76" y="135" fill="#0e28ca"/><rect x="78" y="135" fill="#0e25c7"/><rect x="80" y="135" fill="#0e22c3"/><rect x="82" y="135" fill="#0e20c0"/><rect x="84" y="135" fill="#0e1dbe"/><rect x="86" y="135" fill="#0e1bbb"/><rect x="88" y="135" fill="#0e19b9"/><rect x="90" y="135" fill="#0e17b6"/><rect x="92" y="135" fill="#0e15b4"/><rect x="94" y="135" fill="#0e13b3"/><rect x="96" y="135" fill="#0e12b1"/><rect x="98" y="135" fill="#0e11af"/><rect x="100" y="135" fill="#0e0fad"/><rect x="102" y="135" fill="#0e0dab"/><rect x="104" y="135" fill="#0e0ba9"/><rect x="106" y="135" fill="#0e09a7"/><rect x="108" y="135" fill="#0f09a5"/><rect x="110" y="135" fill="#1109a3"/><rect x="112" y="135" fill="#1209a1"/><rect x="114" y="135" fill="#1309a0"/><rect x="116" y="135" fill="#14099e"/><rect x="118" y="135" fill="#15099d"/><rect x="120" y="135" fill="#16099b"/><rect x="122" y="135" fill="#17099a"/><rect x="124" y="135" fill="#180999"/><rect x="126" y="135" fill="#190998"/><rect x="128" y="135" fill="#1a0997"/><rect x="130" y="135" fill="#1a0996"/><rect x="132" y="135" fill="#1b0995"/><rect x="134" y="135" fill="#1c0994"/><rect x="6" y="137" fill="#1778da"/><rect x="8" y="137" fill="#1ca6d0"/><rect x="10" y="137" fill="#21b1b2"/><rect x="12" y="137" fill="#1facc1"/><rect x="14" y="137" fill="#1a91d7"/><rect x="16" y="137" fill="#176fdc"/><rect x="18" y="137" fill="#155cdb"/><rect x="20" y="137" fill="#29c287"/><rect x="22" y="137" fill="#52d154"/><rect x="24" y="137" fill="#95de26"/><rect x="26" y="137" fill="#eade1e"/><rect x="28" y="137" fill="#f5dd1e"/><rect x="30" y="137" fill="#c0de22"/><rect x="32" y="137" fill="#41cd63"/><rect x="34" y="137" fill="#1da8c9"/><rect x="36" y="137" fill="#0e23c4"/><rect x="38" y="137" fill="#0e17b7"/><rect x="40" y="137" fill="#14099f"/><rect x="42" y="137" fill="#1b0995"/><rect x="44" y="137" fill="#21088d"/><rect x="46" y="137" fill="#1d0992"/><rect x="48" y="137" fill="#0e0cab"/><rect x="50" y="137" fill="#0e1cbc"/><rect x="52" y="137" fill="#1a92d6"/><rect x="54" y="137" fill="#28c189"/><rect x="56" y="137" fill="#8fde26"/><rect x="58" y="137" fill="#f2de1e"/><rect x="60" y="137" fill="#f5db1e"/><rect x="62" y="137" fill="#a5de24"/><rect x="64" y="137" fill="#5ad34d"/><rect x="66" y="137" fill="#29c188"/><rect x="68" y="137" fill="#1141d3"/><rect x="70" y="137" fill="#1039d0"/><rect x="72" y="137" fill="#0f32ce"/><rect x="74" y="137" fill="#0e2ccc"/><rect x="76" y="137" fill="#0e27c9"/><rect x="78" y="137" fill="#0e24c5"/><rect x="80" y="137" fill="#0e21c2"/><rect x="82" y="137" fill="#0e1ebf"/><rect x="84" y="137" fill="#0e1cbc"/><rect x="86" y="137" fill="#0e19b9"/><rect x="88" y="137" fill="#0e17b7"/><rect x="90" y="137" fill="#0e15b5"/><rect x="92" y="137" fill="#0e13b3"/><rect x="94" y="137" fill="#0e12b1"/><rect x="96" y="137" fill="#0e10af"/><rect x="98" y="137" fill="#0e0fad"/><rect x="100" y="137" fill="#0e0dab"/><rect x="102" y="137" fill="#0e0ba9"/><rect x="104" y="137" fill="#0e09a7"/><rect x="106" y="137" fill="#0f09a5"/><rect x="108" y="137" fill="#1109a3"/><rect x="110" y="137" fill="#1209a1"/><rect x="112" y="137" fill="#1309a0"/><rect x="114" y="137" fill="#14099e"/><rect x="116" y="137" fill="#16099c"/><rect x="118" y="137" fill="#17099b"/><rect x="120" y="137" fill="#18099a"/><rect x="122" y="137" fill="#180998"/><rect x="124" y="137" fill="#190997"/><rect x="126" y="137" fill="#1a0996"/><rect x="128" y="137" fill="#1b0995"/><rect x="130" y="137" fill="#1c0994"/><rect x="132" y="137" fill="#1c0993"/><rect x="134" y="137" fill="#1d0992"/><rect x="6" y="139" fill="#1775db"/><rect x="8" y="139" fill="#1ba4d4"/><rect x="10" y="139" fill="#21b0b6"/><rect x="12" y="139" fill="#1eaac4"/><rect x="14" y="139" fill="#198ed7"/><rect x="16" y="139" fill="#166cdc"/><rect x="18" y="139" fill="#145bdb"/><rect x="20" y="139" fill="#2ac481"/><rect x="22" y="139" fill="#5ed548"/><rect x="24" y="139" fill="#b8de23"/><rect x="26" y="139" fill="#f5c21e"/><rect x="28" y="139" fill="#f58c1e"/><rect x="30" y="139" fill="#f59d1e"/><rect x="32" y="139" fill="#a8de24"/><rect x="34" y="139" fill="#27be90"/><rect x="36" y="139" fill="#1989d8"/><rect x="38" y="139" fill="#0e1aba"/><rect x="40" y="139" fill="#0f09a5"/><rect x="42" y="139" fill="#1f0890"/><rect x="44" y="139" fill="#23088a"/><rect x="46" y="139" fill="#18099a"/><rect x="48" y="139" fill="#0e10af"/><rect x="50" y="139" fill="#1770dc"/><rect x="52" y="139" fill="#20afb8"/><rect x="54" y="139" fill="#6cd83c"/><rect x="56" y="139" fill="#f5ba1e"/><rect x="58" y="139" fill="#f3821e"/><rect x="60" y="139" fill="#f5b31e"/><rect x="62" y="139" fill="#d1de21"/><rect x="64" y="139" fill="#6ad83d"/><rect x="66" y="139" fill="#2ac57f"/><rect x="68" y="139" fill="#1fadbd"/><rect x="70" y="139" fill="#0f37d0"/><rect x="72" y="139" fill="#0e30cd"/><rect x="74" y="139" fill="#0e29cb"/><rect x="76" y="139" fill="#0e26c7"/><rect x="78" y="139" fill="#0e22c3"/><rect x="80" y="139" fill="#0e1fc0"/><rect x="82" y="139" fill="#0e1cbd"/><rect x="84" y="139" fill="#0e1aba"/><rect x="86" y="139" fill="#0e17b7"/><rect x="88" y="139" fill="#0e15b5"/><rect x="90" y="139" fill="#0e13b2"/><rect x="92" y="139" fill="#0e11b0"/><rect x="94" y="139" fill="#0e10ae"/><rect x="96" y="139" fill="#0e0ead"/><rect x="98" y="139" fill="#0e0dab"/><rect x="100" y="139" fill="#0e0ba9"/><rect x="102" y="139" fill="#0e09a7"/><rect x="104" y="139" fill="#0f09a5"/><rect x="106" y="139" fill="#1109a3"/><rect x="108" y="139" fill="#1209a1"/><rect x="110" y="139" fill="#13099f"/><rect x="112" y="139" fill="#15099e"/><rect x="114" y="139" fill="#16099c"/><rect x="116" y="139" fill="#17099b"/><rect x="118" y="139" fill="#180999"/><rect x="120" y="139" fill="#190998"/><rect x="122" y="139" fill="#1a0997"/><rect x="124" y="139" fill="#1b0996"/><rect x="126" y="139" fill="#1b0995"/><rect x="128" y="139" fill="#1c0994"/><rect x="130" y="139" fill="#1d0993"/><rect x="132" y="139" fill="#1d0992"/><rect x="134" y="139" fill="#1e0891"/><rect x="6" y="141" fill="#166adc"/><rect x="8" y="141" fill="#1a96d6"/><rect x="10" y="141" fill="#1da8c9"/><rect x="12" y="141" fill="#1ba2d4"/><rect x="14" y="141" fill="#1883d9"/><rect x="16" y="141" fill="#1665dd"/><rect x="18" y="141" fill="#1456d9"/><rect x="20" y="141" fill="#29c384"/><rect x="22" y="141" fill="#60d546"/><rect x="24" y="141" fill="#c7de21"/><rect x="26" y="141" fill="#f5ae1e"/><rect x="28" y="141" fill="#ef5d1e"/><rect x="30" y="141" fill="#df2b1b"/><rect x="32" y="141" fill="#f5b01e"/><rect x="34" y="141" fill="#58d34e"/><rect x="36" y="141" fill="#1da7ce"/><rect x="38" y="141" fill="#0e1cbc"/><rect x="40" y="141" fill="#0e0fae"/><rect x="42" y="141" fill="#14099e"/><rect x="44" y="141" fill="#17099a"/><rect x="46" y="141" fill="#0f09a5"/><rect x="48" y="141" fill="#0e15b4"/><rect x="50" y="141" fill="#198cd7"/><rect x="52" y="141" fill="#2bc67c"/><rect x="54" y="141" fill="#f0de1e"/><rect x="56" y="141" fill="#ea431d"/><rect x="58" y="141" fill="#ec471e"/><rect x="60" y="141" fill="#f5981e"/><rect x="62" y="141" fill="#e6de1f"/><rect x="64" y="141" fill="#6fd939"/><rect x="66" y="141" fill="#2ac480"/><rect x="68" y="141" fill="#1facc1"/><rect x="70" y="141" fill="#0f34cf"/><rect x="72" y="141" fill="#0e2dcd"/><rect x="74" y="141" fill="#0e28c9"/><rect x="76" y="141" fill="#0e24c5"/><rect x="78" y="141" fill="#0e20c1"/><rect x="80" y="141" fill="#0e1dbe"/><rect x="82" y="141" fill="#0e1abb"/><rect x="84" y="141" fill="#0e18b8"/><rect x="86" y="141" fill="#0e15b5"/><rect x="88" y="141" fill="#0e13b2"/><rect x="90" y="141" fill="#0e11b0"/><rect x="92" y="141" fill="#0e0fae"/><rect x="94" y="141" fill="#0e0eac"/><rect x="96" y="141" fill="#0e0caa"/><rect x="98" y="141" fill="#0e0ba9"/><rect x="100" y="141" fill="#0e09a7"/><rect x="102" y="141" fill="#1009a5"/><rect x="104" y="141" fill="#1109a3"/><rect x="106" y="141" fill="#1209a1"/><rect x="108" y="141" fill="#14099f"/><rect x="110" y="141" fill="#15099d"/><rect x="112" y="141" fill="#16099c"/><rect x="114" y="141" fill="#17099a"/><rect x="116" y="141" fill="#180999"/><rect x="118" y="141" fill="#190997"/><rect x="120" y="141" fill="#1a0996"/><rect x="122" y="141" fill="#1b0995"/><rect x="124" y="141" fill="#1c0994"/><rect x="126" y="141" fill="#1d0993"/><rect x="128" y="141" fill="#1d0992"/><rect x="130" y="141" fill="#1e0891"/><rect x="132" y="141" fill="#1f0890"/><rect x="134" y="141" fill="#1f088f"/><rect x="6" y="143" fill="#155fdc"/><rect x="8" y="143" fill="#1988d8"/><rect x="10" y="143" fill="#1b9cd5"/><rect x="12" y="143" fill="#1a94d6"/><rect x="14" y="143" fill="#1778da"/><rect x="16" y="143" fill="#155edc"/><rect x="18" y="143" fill="#1351d8"/><rect x="20" y="143" fill="#27bf8f"/><rect x="22" y="143" fill="#57d34f"/><rect x="24" y="143" fill="#bcde22"/><rect x="26" y="143" fill="#f5ae1e"/><rect x="28" y="143" fill="#ed4f1e"/><rect x="30" y="143" fill="#d71919"/><rect x="32" y="143" fill="#ec4a1e"/><rect x="34" y="143" fill="#abde24"/><rect x="36" y="143" fill="#23b5a7"/><rect x="38" y="143" fill="#1774db"/><rect x="40" y="143" fill="#0e15b5"/><rect x="42" y="143" fill="#0e0dac"/><rect x="44" y="143" fill="#0e0ba9"/><rect x="46" y="143" fill="#0e10af"/><rect x="48" y="143" fill="#155ddb"/><rect x="50" y="143" fill="#1ca5d1"/><rect x="52" y="143" fill="#63d644"/><rect x="54" y="143" fill="#f58d1e"/><rect x="56" y="143" fill="#d71919"/><rect x="58" y="143" fill="#e12f1b"/><rect x="60" y="143" fill="#f5961e"/><rect x="62" y="143" fill="#dede1f"/><rect x="64" y="143" fill="#66d641"/><rect x="66" y="143" fill="#28c08a"/><rect x="68" y="143" fill="#1da8ca"/><rect x="70" y="143" fill="#0e31ce"/><rect x="72" y="143" fill="#0e29cb"/><rect x="74" y="143" fill="#0e25c7"/><rect x="76" y="143" fill="#0e22c3"/><rect x="78" y="143" fill="#0e1ebf"/><rect x="80" y="143" fill="#0e1bbb"/><rect x="82" y="143" fill="#0e18b8"/><rect x="84" y="143" fill="#0e16b5"/><rect x="86" y="143" fill="#0e13b2"/><rect x="88" y="143" fill="#0e11b0"/><rect x="90" y="143" fill="#0e0fae"/><rect x="92" y="143" fill="#0e0dac"/><rect x="94" y="143" fill="#0e0baa"/><rect x="96" y="143" fill="#0e0aa8"/><rect x="98" y="143" fill="#0e09a6"/><rect x="100" y="143" fill="#1009a4"/><rect x="102" y="143" fill="#1109a2"/><rect x="104" y="143" fill="#1309a0"/><rect x="106" y="143" fill="#14099f"/><rect x="108" y="143" fill="#15099d"/><rect x="110" y="143" fill="#16099b"/><rect x="112" y="143" fill="#18099a"/><rect x="114" y="143" fill="#190998"/><rect x="116" y="143" fill="#1a0997"/><rect x="118" y="143" fill="#1b0996"/><rect x="120" y="143" fill="#1b0994"/><rect x="122" y="143" fill="#1c0993"/><rect x="124" y="143" fill="#1d0992"/><rect x="126" y="143" fill="#1e0891"/><rect x="128" y="143" fill="#1e0890"/><rect x="130" y="143" fill="#1f088f"/><rect x="132" y="143" fill="#20088e"/><rect x="134" y="143" fill="#20088e"/><rect x="6" y="145" fill="#1455d9"/><rect x="8" y="145" fill="#1779da"/><rect x="10" y="145" fill="#198cd7"/><rect x="12" y="145" fill="#1984d8"/><rect x="14" y="145" fill="#166cdc"/><rect x="16" y="145" fill="#1455d9"/><rect x="18" y="145" fill="#124ad6"/><rect x="20" y="145" fill="#24b8a1"/><rect x="22" y="145" fill="#42cd62"/><rect x="24" y="145" fill="#9ade25"/><rect x="26" y="145" fill="#f5c51e"/><rect x="28" y="145" fill="#f16e1e"/><rect x="30" y="145" fill="#de291a"/><rect x="32" y="145" fill="#ef5f1e"/><rect x="34" y="145" fill="#bcde22"/><rect x="36" y="145" fill="#25ba9b"/><rect x="38" y="145" fill="#187dda"/><rect x="40" y="145" fill="#0e1bbb"/><rect x="42" y="145" fill="#0e18b8"/><rect x="44" y="145" fill="#0e17b6"/><rect x="46" y="145" fill="#0e19b8"/><rect x="48" y="145" fill="#1668dd"/><rect x="50" y="145" fill="#1eaac5"/><rect x="52" y="145" fill="#71d937"/><rect x="54" y="145" fill="#f58f1e"/><rect x="56" y="145" fill="#de281a"/><rect x="58" y="145" fill="#ed541e"/><rect x="60" y="145" fill="#f5af1e"/><rect x="62" y="145" fill="#b9de23"/><rect x="64" y="145" fill="#50d155"/><rect x="66" y="145" fill="#25b99d"/><rect x="68" y="145" fill="#0f35cf"/><rect x="70" y="145" fill="#0e2ccc"/><rect x="72" y="145" fill="#0e27c8"/><rect x="74" y="145" fill="#0e23c4"/><rect x="76" y="145" fill="#0e1fc0"/><rect x="78" y="145" fill="#0e1cbc"/><rect x="80" y="145" fill="#0e19b8"/><rect x="82" y="145" fill="#0e16b5"/><rect x="84" y="145" fill="#0e13b2"/><rect x="86" y="145" fill="#0e11b0"/><rect x="88" y="145" fill="#0e0fad"/><rect x="90" y="145" fill="#0e0dab"/><rect x="92" y="145" fill="#0e0ba9"/><rect x="94" y="145" fill="#0e09a7"/><rect x="96" y="145" fill="#0f09a5"/><rect x="98" y="145" fill="#1009a4"/><rect x="100" y="145" fill="#1209a2"/><rect x="102" y="145" fill="#1309a0"/><rect x="104" y="145" fill="#14099e"/><rect x="106" y="145" fill="#16099c"/><rect x="108" y="145" fill="#17099b"/><rect x="110" y="145" fill="#180999"/><rect x="112" y="145" fill="#190998"/><rect x="114" y="145" fill="#1a0996"/><rect x="116" y="145" fill="#1b0995"/><rect x="118" y="145" fill="#1c0994"/><rect x="120" y="145" fill="#1d0992"/><rect x="122" y="145" fill="#1e0891"/><rect x="124" y="145" fill="#1e0890"/><rect x="126" y="145" fill="#1f088f"/><rect x="128" y="145" fill="#20088e"/><rect x="130" y="145" fill="#20088e"/><rect x="132" y="145" fill="#21088d"/><rect x="134" y="145" fill="#21088c"/><rect x="6" y="147" fill="#124ad6"/><rect x="8" y="147" fill="#1669dd"/><rect x="10" y="147" fill="#187bda"/><rect x="12" y="147" fill="#1775db"/><rect x="14" y="147" fill="#1560dc"/><rect x="16" y="147" fill="#124dd6"/><rect x="18" y="147" fill="#1143d3"/><rect x="20" y="147" fill="#1143d3"/><rect x="22" y="147" fill="#2bc57d"/><rect x="24" y="147" fill="#6ed83a"/><rect x="26" y="147" fill="#d1de21"/><rect x="28" y="147" fill="#f5c01e"/><rect x="30" y="147" fill="#f5ae1e"/><rect x="32" y="147" fill="#f5c71e"/><rect x="34" y="147" fill="#6ad83d"/><rect x="36" y="147" fill="#21b1b2"/><rect x="38" y="147" fill="#1778da"/><rect x="40" y="147" fill="#0e1cbc"/><rect x="42" y="147" fill="#0e1bbb"/><rect x="44" y="147" fill="#0e1bbb"/><rect x="46" y="147" fill="#0e1bbb"/><rect x="48" y="147" fill="#1665dd"/><rect x="50" y="147" fill="#1ba4d4"/><rect x="52" y="147" fill="#41cd63"/><rect x="54" y="147" fill="#c7de21"/><rect x="56" y="147" fill="#f5b41e"/><rect x="58" y="147" fill="#f5b91e"/><rect x="60" y="147" fill="#eade1e"/><rect x="62" y="147" fill="#7fdd2a"/><rect x="64" y="147" fill="#32c972"/><rect x="66" y="147" fill="#21b0b6"/><rect x="68" y="147" fill="#0e2fcd"/><rect x="70" y="147" fill="#0e28ca"/><rect x="72" y="147" fill="#0e24c5"/><rect x="74" y="147" fill="#0e20c1"/><rect x="76" y="147" fill="#0e1cbd"/><rect x="78" y="147" fill="#0e19b9"/><rect x="80" y="147" fill="#0e16b5"/><rect x="82" y="147" fill="#0e13b2"/><rect x="84" y="147" fill="#0e11b0"/><rect x="86" y="147" fill="#0e0ead"/><rect x="88" y="147" fill="#0e0cab"/><rect x="90" y="147" fill="#0e0aa8"/><rect x="92" y="147" fill="#0e09a6"/><rect x="94" y="147" fill="#1009a4"/><rect x="96" y="147" fill="#1109a3"/><rect x="98" y="147" fill="#1209a1"/><rect x="100" y="147" fill="#13099f"/><rect x="102" y="147" fill="#15099d"/><rect x="104" y="147" fill="#16099c"/><rect x="106" y="147" fill="#17099a"/><rect x="108" y="147" fill="#190998"/><rect x="110" y="147" fill="#1a0997"/><rect x="112" y="147" fill="#1b0995"/><rect x="114" y="147" fill="#1c0994"/><rect x="116" y="147" fill="#1d0993"/><rect x="118" y="147" fill="#1d0992"/><rect x="120" y="147" fill="#1e0890"/><rect x="122" y="147" fill="#1f088f"/><rect x="124" y="147" fill="#20088e"/><rect x="126" y="147" fill="#20088e"/><rect x="128" y="147" fill="#21088d"/><rect x="130" y="147" fill="#22088c"/><rect x="132" y="147" fill="#22088b"/><rect x="134" y="147" fill="#23088a"/><rect x="6" y="149" fill="#113fd2"/><rect x="8" y="149" fill="#145adb"/><rect x="10" y="149" fill="#1669dd"/><rect x="12" y="149" fill="#1664dd"/><rect x="14" y="149" fill="#1354d9"/><rect x="16" y="149" fill="#1143d4"/><rect x="18" y="149" fill="#103bd1"/><rect x="20" y="149" fill="#103cd1"/><rect x="22" y="149" fill="#24b6a4"/><rect x="24" y="149" fill="#34ca70"/><rect x="26" y="149" fill="#63d644"/><rect x="28" y="149" fill="#83de27"/><rect x="30" y="149" fill="#88de27"/><rect x="32" y="149" fill="#6ed83a"/><rect x="34" y="149" fill="#26bb99"/><rect x="36" y="149" fill="#1a99d5"/><rect x="38" y="149" fill="#1666dd"/><rect x="40" y="149" fill="#0e19b9"/><rect x="42" y="149" fill="#0e18b8"/><rect x="44" y="149" fill="#0e18b8"/><rect x="46" y="149" fill="#0e18b8"/><rect x="48" y="149" fill="#0e18b8"/><rect x="50" y="149" fill="#1986d8"/><rect x="52" y="149" fill="#21b1b2"/><rect x="54" y="149" fill="#5ed448"/><rect x="56" y="149" fill="#7edd2b"/><rect x="58" y="149" fill="#83de27"/><rect x="60" y="149" fill="#69d73e"/><rect x="62" y="149" fill="#3ccc68"/><rect x="64" y="149" fill="#25b99e"/><rect x="66" y="149" fill="#1ba4d4"/><rect x="68" y="149" fill="#0e29cb"/><rect x="70" y="149" fill="#0e25c6"/><rect x="72" y="149" fill="#0e20c1"/><rect x="74" y="149" fill="#0e1dbd"/><rect x="76" y="149" fill="#0e19b9"/><rect x="78" y="149" fill="#0e16b6"/><rect x="80" y="149" fill="#0e13b2"/><rect x="82" y="149" fill="#0e10af"/><rect x="84" y="149" fill="#0e0ead"/><rect x="86" y="149" fill="#0e0caa"/><rect x="88" y="149" fill="#0e0aa8"/><rect x="90" y="149" fill="#0f09a5"/><rect x="92" y="149" fill="#1009a3"/><rect x="94" y="149" fill="#1209a2"/><rect x="96" y="149" fill="#1309a0"/><rect x="98" y="149" fill="#14099e"/><rect x="100" y="149" fill="#15099d"/><rect x="102" y="149" fill="#17099b"/><rect x="104" y="149" fill="#180999"/><rect x="106" y="149" fill="#190997"/><rect x="108" y="149" fill="#1a0996"/><rect x="110" y="149" fill="#1b0994"/><rect x="112" y="149" fill="#1c0993"/><rect x="114" y="149" fill="#1d0992"/><rect x="116" y="149" fill="#1e0891"/><rect x="118" y="149" fill="#1f0890"/><rect x="120" y="149" fill="#20088e"/><rect x="122" y="149" fill="#20088d"/><rect x="124" y="149" fill="#21088d"/><rect x="126" y="149" fill="#22088c"/><rect x="128" y="149" fill="#22088b"/><rect x="130" y="149" fill="#23088a"/><rect x="132" y="149" fill="#230889"/><rect x="134" y="149" fill="#240889"/><rect x="6" y="151" fill="#0f34cf"/><rect x="8" y="151" fill="#124cd6"/><rect x="10" y="151" fill="#1459da"/><rect x="12" y="151" fill="#1455d9"/><rect x="14" y="151" fill="#1247d5"/><rect x="16" y="151" fill="#103ad1"/><rect x="18" y="151" fill="#0f33ce"/><rect x="20" y="151" fill="#0f33ce"/><rect x="22" y="151" fill="#0f37d0"/><rect x="24" y="151" fill="#21b1b4"/><rect x="26" y="151" fill="#26bb98"/><rect x="28" y="151" fill="#28c189"/><rect x="30" y="151" fill="#28c08c"/><rect x="32" y="151" fill="#25b99e"/><rect x="34" y="151" fill="#20aebc"/><rect x="36" y="151" fill="#176fdc"/><rect x="38" y="151" fill="#0e16b6"/><rect x="40" y="151" fill="#0e16b5"/><rect x="42" y="151" fill="#0e15b5"/><rect x="44" y="151" fill="#0e15b4"/><rect x="46" y="151" fill="#0e15b4"/><rect x="48" y="151" fill="#0e15b4"/><rect x="50" y="151" fill="#1562dd"/><rect x="52" y="151" fill="#1882d9"/><rect x="54" y="151" fill="#23b4ab"/><rect x="56" y="151" fill="#26bc95"/><rect x="58" y="151" fill="#28bf8e"/><rect x="60" y="151" fill="#26bb99"/><rect x="62" y="151" fill="#21b1b3"/><rect x="64" y="151" fill="#1ba3d4"/><rect x="66" y="151" fill="#0e29cb"/><rect x="68" y="151" fill="#0e25c6"/><rect x="70" y="151" fill="#0e21c2"/><rect x="72" y="151" fill="#0e1dbd"/><rect x="74" y="151" fill="#0e19b9"/><rect x="76" y="151" fill="#0e16b6"/><rect x="78" y="151" fill="#0e13b2"/><rect x="80" y="151" fill="#0e10af"/><rect x="82" y="151" fill="#0e0eac"/><rect x="84" y="151" fill="#0e0ba9"/><rect x="86" y="151" fill="#0e09a7"/><rect x="88" y="151" fill="#1009a5"/><rect x="90" y="151" fill="#1109a3"/><rect x="92" y="151" fill="#1309a1"/><rect x="94" y="151" fill="#14099f"/><rect x="96" y="151" fill="#15099d"/><rect x="98" y="151" fill="#16099c"/><rect x="100" y="151" fill="#17099a"/><rect x="102" y="151" fill="#190998"/><rect x="104" y="151" fill="#1a0997"/><rect x="106" y="151" fill="#1b0995"/><rect x="108" y="151" fill="#1c0994"/><rect x="110" y="151" fill="#1d0992"/><rect x="112" y="151" fill="#1e0891"/><rect x="114" y="151" fill="#1f0890"/><rect x="116" y="151" fill="#20088f"/><rect x="118" y="151" fill="#20088d"/><rect x="120" y="151" fill="#21088c"/><rect x="122" y="151" fill="#22088c"/><rect x="124" y="151" fill="#22088b"/><rect x="126" y="151" fill="#23088a"/><rect x="128" y="151" fill="#240889"/><rect x="130" y="151" fill="#240888"/><rect x="132" y="151" fill="#250888"/><rect x="134" y="151" fill="#250887"/><rect x="6" y="153" fill="#0e29cb"/><rect x="8" y="153" fill="#103dd2"/><rect x="10" y="153" fill="#1249d5"/><rect x="12" y="153" fill="#1146d4"/><rect x="14" y="153" fill="#103bd1"/><rect x="16" y="153" fill="#0e2fcd"/><rect x="18" y="153" fill="#0e29cb"/><rect x="20" y="153" fill="#0e29cb"/><rect x="22" y="153" fill="#0e2ccc"/><rect x="24" y="153" fill="#0e2fcd"/><rect x="26" y="153" fill="#0f32ce"/><rect x="28" y="153" fill="#0f33ce"/><rect x="30" y="153" fill="#0f33ce"/><rect x="32" y="153" fill="#0f31ce"/><rect x="34" y="153" fill="#0e2fcd"/><rect x="36" y="153" fill="#0e13b3"/><rect x="38" y="153" fill="#0e13b2"/><rect x="40" y="153" fill="#0e13b2"/><rect x="42" y="153" fill="#0e12b1"/><rect x="44" y="153" fill="#0e12b1"/><rect x="46" y="153" fill="#0e12b1"/><rect x="48" y="153" fill="#0e12b1"/><rect x="50" y="153" fill="#0e12b1"/><rect x="52" y="153" fill="#0e2acc"/><rect x="54" y="153" fill="#0e2ccc"/><rect x="56" y="153" fill="#0e2ecd"/><rect x="58" y="153" fill="#1a97d6"/><rect x="60" y="153" fill="#1a94d6"/><rect x="62" y="153" fill="#0e29cb"/><rect x="64" y="153" fill="#0e26c8"/><rect x="66" y="153" fill="#0e23c5"/><rect x="68" y="153" fill="#0e20c1"/><rect x="70" y="153" fill="#0e1cbd"/><rect x="72" y="153" fill="#0e19b9"/><rect x="74" y="153" fill="#0e16b5"/><rect x="76" y="153" fill="#0e13b2"/><rect x="78" y="153" fill="#0e10af"/><rect x="80" y="153" fill="#0e0dac"/><rect x="82" y="153" fill="#0e0ba9"/><rect x="84" y="153" fill="#0e09a6"/><rect x="86" y="153" fill="#1009a4"/><rect x="88" y="153" fill="#1209a2"/><rect x="90" y="153" fill="#1309a0"/><rect x="92" y="153" fill="#15099e"/><rect x="94" y="153" fill="#16099c"/><rect x="96" y="153" fill="#17099a"/><rect x="98" y="153" fill="#180999"/><rect x="100" y="153" fill="#190997"/><rect x="102" y="153" fill="#1b0995"/><rect x="104" y="153" fill="#1c0994"/><rect x="106" y="153" fill="#1d0992"/><rect x="108" y="153" fill="#1e0891"/><rect x="110" y="153" fill="#1f0890"/><rect x="112" y="153" fill="#20088f"/><rect x="114" y="153" fill="#20088d"/><rect x="116" y="153" fill="#21088c"/><rect x="118" y="153" fill="#22088b"/><rect x="120" y="153" fill="#23088a"/><rect x="122" y="153" fill="#23088a"/><rect x="124" y="153" fill="#240889"/><rect x="126" y="153" fill="#240888"/><rect x="128" y="153" fill="#250887"/><rect x="130" y="153" fill="#250887"/><rect x="132" y="153" fill="#260886"/><rect x="134" y="153" fill="#260885"/><rect x="6" y="155" fill="#0e22c3"/><rect x="8" y="155" fill="#0e2fcd"/><rect x="10" y="155" fill="#1038d0"/><rect x="12" y="155" fill="#0f37d0"/><rect x="14" y="155" fill="#0e2dcd"/><rect x="16" y="155" fill="#0e26c8"/><rect x="18" y="155" fill="#0e23c4"/><rect x="20" y="155" fill="#0e23c4"/><rect x="22" y="155" fill="#0e24c5"/><rect x="24" y="155" fill="#0e25c7"/><rect x="26" y="155" fill="#0e27c8"/><rect x="28" y="155" fill="#0e27c9"/><rect x="30" y="155" fill="#0e27c9"/><rect x="32" y="155" fill="#0e26c8"/><rect x="34" y="155" fill="#0e25c6"/><rect x="36" y="155" fill="#0e10af"/><rect x="38" y="155" fill="#0e10ae"/><rect x="40" y="155" fill="#0e0fae"/><rect x="42" y="155" fill="#0e0fad"/><rect x="44" y="155" fill="#0e0ead"/><rect x="46" y="155" fill="#0e0ead"/><rect x="48" y="155" fill="#0e0ead"/><rect x="50" y="155" fill="#0e0ead"/><rect x="52" y="155" fill="#0e22c4"/><rect x="54" y="155" fill="#0e23c5"/><rect x="56" y="155" fill="#0e24c5"/><rect x="58" y="155" fill="#0e24c5"/><rect x="60" y="155" fill="#0e23c4"/><rect x="62" y="155" fill="#0e22c3"/><rect x="64" y="155" fill="#0e20c1"/><rect x="66" y="155" fill="#0e1dbe"/><rect x="68" y="155" fill="#0e1bbb"/><rect x="70" y="155" fill="#0e18b8"/><rect x="72" y="155" fill="#0e15b4"/><rect x="74" y="155" fill="#0e12b1"/><rect x="76" y="155" fill="#0e0fae"/><rect x="78" y="155" fill="#0e0dab"/><rect x="80" y="155" fill="#0e0aa8"/><rect x="82" y="155" fill="#0f09a6"/><rect x="84" y="155" fill="#1109a3"/><rect x="86" y="155" fill="#1209a1"/><rect x="88" y="155" fill="#14099f"/><rect x="90" y="155" fill="#15099d"/><rect x="92" y="155" fill="#17099b"/><rect x="94" y="155" fill="#180999"/><rect x="96" y="155" fill="#190997"/><rect x="98" y="155" fill="#1a0996"/><rect x="100" y="155" fill="#1b0994"/><rect x="102" y="155" fill="#1d0993"/><rect x="104" y="155" fill="#1e0891"/><rect x="106" y="155" fill="#1f0890"/><rect x="108" y="155" fill="#20088f"/><rect x="110" y="155" fill="#20088d"/><rect x="112" y="155" fill="#21088c"/><rect x="114" y="155" fill="#22088b"/><rect x="116" y="155" fill="#23088a"/><rect x="118" y="155" fill="#230889"/><rect x="120" y="155" fill="#240888"/><rect x="122" y="155" fill="#250888"/><rect x="124" y="155" fill="#250887"/><rect x="126" y="155" fill="#260886"/><rect x="128" y="155" fill="#260885"/><rect x="130" y="155" fill="#270885"/><rect x="132" y="155" fill="#270884"/><rect x="134" y="155" fill="#280884"/><rect x="6" y="157" fill="#0e1bbb"/><rect x="8" y="157" fill="#0e23c5"/><rect x="10" y="157" fill="#0e28ca"/><rect x="12" y="157" fill="#0e28ca"/><rect x="14" y="157" fill="#0e23c5"/><rect x="16" y="157" fill="#0e1fc0"/><rect x="18" y="157" fill="#0e1dbd"/><rect x="20" y="157" fill="#0e1dbd"/><rect x="22" y="157" fill="#0e1dbe"/><rect x="24" y="157" fill="#0e1fbf"/><rect x="26" y="157" fill="#0e1fc0"/><rect x="28" y="157" fill="#0e20c0"/><rect x="30" y="157" fill="#0e20c0"/><rect x="32" y="157" fill="#0e1fc0"/><rect x="34" y="157" fill="#0e1ebe"/><rect x="36" y="157" fill="#0e1dbd"/><rect x="38" y="157" fill="#0e0caa"/><rect x="40" y="157" fill="#0e0caa"/><rect x="42" y="157" fill="#0e0baa"/><rect x="44" y="157" fill="#0e0ba9"/><rect x="46" y="157" fill="#0e0ba9"/><rect x="48" y="157" fill="#0e0ba9"/><rect x="50" y="157" fill="#0e1bbb"/><rect x="52" y="157" fill="#0e1cbc"/><rect x="54" y="157" fill="#0e1cbd"/><rect x="56" y="157" fill="#0e1dbd"/><rect x="58" y="157" fill="#0e1dbd"/><rect x="60" y="157" fill="#0e1cbc"/><rect x="62" y="157" fill="#0e1bbb"/><rect x="64" y="157" fill="#0e19b9"/><rect x="66" y="157" fill="#0e18b7"/><rect x="68" y="157" fill="#0e15b5"/><rect x="70" y="157" fill="#0e13b2"/><rect x="72" y="157" fill="#0e11af"/><rect x="74" y="157" fill="#0e0ead"/><rect x="76" y="157" fill="#0e0caa"/><rect x="78" y="157" fill="#0e09a7"/><rect x="80" y="157" fill="#1009a5"/><rect x="82" y="157" fill="#1109a2"/><rect x="84" y="157" fill="#1309a0"/><rect x="86" y="157" fill="#15099e"/><rect x="88" y="157" fill="#16099c"/><rect x="90" y="157" fill="#18099a"/><rect x="92" y="157" fill="#190998"/><rect x="94" y="157" fill="#1a0996"/><rect x="96" y="157" fill="#1b0994"/><rect x="98" y="157" fill="#1c0993"/><rect x="100" y="157" fill="#1e0891"/><rect x="102" y="157" fill="#1f0890"/><rect x="104" y="157" fill="#20088f"/><rect x="106" y="157" fill="#20088d"/><rect x="108" y="157" fill="#21088c"/><rect x="110" y="157" fill="#22088b"/><rect x="112" y="157" fill="#23088a"/><rect x="114" y="157" fill="#240889"/><rect x="116" y="157" fill="#240888"/><rect x="118" y="157" fill="#250887"/><rect x="120" y="157" fill="#260886"/><rect x="122" y="157" fill="#260886"/><rect x="124" y="157" fill="#270885"/><rect x="126" y="157" fill="#270884"/><rect x="128" y="157" fill="#280884"/><rect x="130" y="157" fill="#280883"/><rect x="132" y="157" fill="#280882"/><rect x="134" y="157" fill="#290882"/><rect x="6" y="159" fill="#0e13b2"/><rect x="8" y="159" fill="#0e1aba"/><rect x="10" y="159" fill="#0e1ebe"/><rect x="12" y="159" fill="#0e1ebe"/><rect x="14" y="159" fill="#0e1bbb"/><rect x="16" y="159" fill="#0e18b8"/><rect x="18" y="159" fill="#0e17b6"/><rect x="20" y="159" fill="#0e17b6"/><rect x="22" y="159" fill="#0e17b7"/><rect x="24" y="159" fill="#0e18b8"/><rect x="26" y="159" fill="#0e19b9"/><rect x="28" y="159" fill="#0e19b9"/><rect x="30" y="159" fill="#0e19b9"/><rect x="32" y="159" fill="#0e18b8"/><rect x="34" y="159" fill="#0e18b7"/><rect x="36" y="159" fill="#0e17b6"/><rect x="38" y="159" fill="#0e09a7"/><rect x="40" y="159" fill="#0e09a6"/><rect x="42" y="159" fill="#0f09a6"/><rect x="44" y="159" fill="#0f09a6"/><rect x="46" y="159" fill="#0f09a6"/><rect x="48" y="159" fill="#0f09a5"/><rect x="50" y="159" fill="#0e15b4"/><rect x="52" y="159" fill="#0e15b5"/><rect x="54" y="159" fill="#0e16b5"/><rect x="56" y="159" fill="#0e16b6"/><rect x="58" y="159" fill="#0e16b6"/><rect x="60" y="159" fill="#0e16b5"/><rect x="62" y="159" fill="#0e15b4"/><rect x="64" y="159" fill="#0e14b3"/><rect x="66" y="159" fill="#0e12b1"/><rect x="68" y="159" fill="#0e10af"/><rect x="70" y="159" fill="#0e0ead"/><rect x="72" y="159" fill="#0e0cab"/><rect x="74" y="159" fill="#0e0aa8"/><rect x="76" y="159" fill="#0f09a6"/><rect x="78" y="159" fill="#1109a3"/><rect x="80" y="159" fill="#1209a1"/><rect x="82" y="159" fill="#14099f"/><rect x="84" y="159" fill="#15099d"/><rect x="86" y="159" fill="#17099b"/><rect x="88" y="159" fill="#180999"/><rect x="90" y="159" fill="#1a0997"/><rect x="92" y="159" fill="#1b0995"/><rect x="94" y="159" fill="#1c0993"/><rect x="96" y="159" fill="#1d0992"/><rect x="98" y="159" fill="#1f0890"/><rect x="100" y="159" fill="#20088f"/><rect x="102" y="159" fill="#21088d"/><rect x="104" y="159" fill="#21088c"/><rect x="106" y="159" fill="#22088b"/><rect x="108" y="159" fill="#23088a"/><rect x="110" y="159" fill="#240889"/><rect x="112" y="159" fill="#250888"/><rect x="114" y="159" fill="#250887"/><rect x="116" y="159" fill="#260886"/><rect x="118" y="159" fill="#260885"/><rect x="120" y="159" fill="#270884"/><rect x="122" y="159" fill="#280884"/><rect x="124" y="159" fill="#280883"/><rect x="126" y="159" fill="#280882"/><rect x="128" y="159" fill="#290882"/><rect x="130" y="159" fill="#290881"/><rect x="132" y="159" fill="#2a0881"/><rect x="134" y="159" fill="#2a0880"/><rect x="6" y="161" fill="#0e0caa"/><rect x="8" y="161" fill="#0e10af"/><rect x="10" y="161" fill="#0e13b2"/><rect x="12" y="161" fill="#0e14b3"/><rect x="14" y="161" fill="#0e13b2"/><rect x="16" y="161" fill="#0e11b0"/><rect x="18" y="161" fill="#0e11b0"/><rect x="20" y="161" fill="#0e11b0"/><rect x="22" y="161" fill="#0e12b1"/><rect x="24" y="161" fill="#0e12b1"/><rect x="26" y="161" fill="#0e13b2"/><rect x="28" y="161" fill="#0e13b2"/><rect x="30" y="161" fill="#0e13b2"/><rect x="32" y="161" fill="#0e12b1"/><rect x="34" y="161" fill="#0e12b1"/><rect x="36" y="161" fill="#0e11b0"/><rect x="38" y="161" fill="#0e10af"/><rect x="40" y="161" fill="#1109a3"/><rect x="42" y="161" fill="#1109a2"/><rect x="44" y="161" fill="#1109a2"/><rect x="46" y="161" fill="#1109a2"/><rect x="48" y="161" fill="#1209a2"/><rect x="50" y="161" fill="#0e0fae"/><rect x="52" y="161" fill="#0e10af"/><rect x="54" y="161" fill="#0e10af"/><rect x="56" y="161" fill="#0e10af"/><rect x="58" y="161" fill="#0e10af"/><rect x="60" y="161" fill="#0e10ae"/><rect x="62" y="161" fill="#0e0fae"/><rect x="64" y="161" fill="#0e0ead"/><rect x="66" y="161" fill="#0e0dab"/><rect x="68" y="161" fill="#0e0baa"/><rect x="70" y="161" fill="#0e0aa8"/><rect x="72" y="161" fill="#0f09a6"/><rect x="74" y="161" fill="#1009a4"/><rect x="76" y="161" fill="#1209a2"/><rect x="78" y="161" fill="#1309a0"/><rect x="80" y="161" fill="#14099e"/><rect x="82" y="161" fill="#16099c"/><rect x="84" y="161" fill="#17099a"/><rect x="86" y="161" fill="#190998"/><rect x="88" y="161" fill="#1a0996"/><rect x="90" y="161" fill="#1b0995"/><rect x="92" y="161" fill="#1c0993"/><rect x="94" y="161" fill="#1e0891"/><rect x="96" y="161" fill="#1f0890"/><rect x="98" y="161" fill="#20088f"/><rect x="100" y="161" fill="#21088d"/><rect x="102" y="161" fill="#21088c"/><rect x="104" y="161" fill="#22088b"/><rect x="106" y="161" fill="#23088a"/><rect x="108" y="161" fill="#240889"/><rect x="110" y="161" fill="#250888"/><rect x="112" y="161" fill="#250887"/><rect x="114" y="161" fill="#260886"/><rect x="116" y="161" fill="#260885"/><rect x="118" y="161" fill="#270884"/><rect x="120" y="161" fill="#280884"/><rect x="122" y="161" fill="#280883"/><rect x="124" y="161" fill="#280883"/><rect x="126" y="161" fill="#290882"/><rect x="128" y="161" fill="#290882"/><rect x="130" y="161" fill="#290881"/><rect x="132" y="161" fill="#2a0880"/><rect x="134" y="161" fill="#2a0880"/><rect x="6" y="163" fill="#1209a2"/><rect x="8" y="163" fill="#1009a5"/><rect x="10" y="163" fill="#0e09a7"/><rect x="12" y="163" fill="#0e0aa8"/><rect x="14" y="163" fill="#0e0aa8"/><rect x="16" y="163" fill="#0e0aa9"/><rect x="18" y="163" fill="#0e0ba9"/><rect x="20" y="163" fill="#0e0caa"/><rect x="22" y="163" fill="#0e0cab"/><rect x="24" y="163" fill="#0e0dab"/><rect x="26" y="163" fill="#0e0dac"/><rect x="28" y="163" fill="#0e0dac"/><rect x="30" y="163" fill="#0e0dac"/><rect x="32" y="163" fill="#0e0dab"/><rect x="34" y="163" fill="#0e0dab"/><rect x="36" y="163" fill="#0e0caa"/><rect x="38" y="163" fill="#0e0ba9"/><rect x="40" y="163" fill="#13099f"/><rect x="42" y="163" fill="#14099f"/><rect x="44" y="163" fill="#14099f"/><rect x="46" y="163" fill="#14099f"/><rect x="48" y="163" fill="#0e0aa8"/><rect x="50" y="163" fill="#0e0aa9"/><rect x="52" y="163" fill="#0e0ba9"/><rect x="54" y="163" fill="#0e0ba9"/><rect x="56" y="163" fill="#0e0ba9"/><rect x="58" y="163" fill="#0e0ba9"/><rect x="60" y="163" fill="#0e0aa9"/><rect x="62" y="163" fill="#0e0aa8"/><rect x="64" y="163" fill="#0e09a7"/><rect x="66" y="163" fill="#0f09a6"/><rect x="68" y="163" fill="#1009a5"/><rect x="70" y="163" fill="#1109a3"/><rect x="72" y="163" fill="#1209a2"/><rect x="74" y="163" fill="#1309a0"/><rect x="76" y="163" fill="#14099e"/><rect x="78" y="163" fill="#15099d"/><rect x="80" y="163" fill="#17099b"/><rect x="82" y="163" fill="#180999"/><rect x="84" y="163" fill="#190997"/><rect x="86" y="163" fill="#1a0996"/><rect x="88" y="163" fill="#1c0994"/><rect x="90" y="163" fill="#1d0993"/><rect x="92" y="163" fill="#1e0891"/><rect x="94" y="163" fill="#1f0890"/><rect x="96" y="163" fill="#20088e"/><rect x="98" y="163" fill="#21088d"/><rect x="100" y="163" fill="#22088c"/><rect x="102" y="163" fill="#22088b"/><rect x="104" y="163" fill="#23088a"/><rect x="106" y="163" fill="#240889"/><rect x="108" y="163" fill="#250888"/><rect x="110" y="163" fill="#250887"/><rect x="112" y="163" fill="#260886"/><rect x="114" y="163" fill="#270885"/><rect x="116" y="163" fill="#270884"/><rect x="118" y="163" fill="#280884"/><rect x="120" y="163" fill="#280883"/><rect x="122" y="163" fill="#280883"/><rect x="124" y="163" fill="#290882"/><rect x="126" y="163" fill="#290882"/><rect x="128" y="163" fill="#290882"/><rect x="130" y="163" fill="#290881"/><rect x="132" y="163" fill="#2a0880"/><rect x="134" y="163" fill="#2a0880"/><rect x="6" y="165" fill="#16099c"/><rect x="8" y="165" fill="#15099e"/><rect x="10" y="165" fill="#14099f"/><rect x="12" y="165" fill="#1309a0"/><rect x="14" y="165" fill="#1209a2"/><rect x="16" y="165" fill="#1109a3"/><rect x="18" y="165" fill="#1009a4"/><rect x="20" y="165" fill="#1009a5"/><rect x="22" y="165" fill="#0f09a5"/><rect x="24" y="165" fill="#0f09a6"/><rect x="26" y="165" fill="#0e09a6"/><rect x="28" y="165" fill="#0e09a6"/><rect x="30" y="165" fill="#0e09a6"/><rect x="32" y="165" fill="#0f09a6"/><rect x="34" y="165" fill="#0f09a6"/><rect x="36" y="165" fill="#0f09a5"/><rect x="38" y="165" fill="#1009a4"/><rect x="40" y="165" fill="#1009a4"/><rect x="42" y="165" fill="#16099c"/><rect x="44" y="165" fill="#16099c"/><rect x="46" y="165" fill="#16099b"/><rect x="48" y="165" fill="#1109a3"/><rect x="50" y="165" fill="#1009a4"/><rect x="52" y="165" fill="#1009a4"/><rect x="54" y="165" fill="#1009a4"/><rect x="56" y="165" fill="#1009a4"/><rect x="58" y="165" fill="#1009a4"/><rect x="60" y="165" fill="#1009a3"/><rect x="62" y="165" fill="#1109a3"/><rect x="64" y="165" fill="#1109a2"/><rect x="66" y="165" fill="#1209a1"/><rect x="68" y="165" fill="#1309a0"/><rect x="70" y="165" fill="#14099f"/><rect x="72" y="165" fill="#15099e"/><rect x="74" y="165" fill="#16099c"/><rect x="76" y="165" fill="#17099b"/><rect x="78" y="165" fill="#180999"/><rect x="80" y="165" fill="#190998"/><rect x="82" y="165" fill="#1a0996"/><rect x="84" y="165" fill="#1b0995"/><rect x="86" y="165" fill="#1c0993"/><rect x="88" y="165" fill="#1d0992"/><rect x="90" y="165" fill="#1e0890"/><rect x="92" y="165" fill="#1f088f"/><rect x="94" y="165" fill="#20088e"/><rect x="96" y="165" fill="#21088d"/><rect x="98" y="165" fill="#22088c"/><rect x="100" y="165" fill="#23088a"/><rect x="102" y="165" fill="#230889"/><rect x="104" y="165" fill="#240888"/><rect x="106" y="165" fill="#250887"/><rect x="108" y="165" fill="#250887"/><rect x="110" y="165" fill="#260886"/><rect x="112" y="165" fill="#270885"/><rect x="114" y="165" fill="#270884"/><rect x="116" y="165" fill="#280884"/><rect x="118" y="165" fill="#280883"/><rect x="120" y="165" fill="#280883"/><rect x="122" y="165" fill="#280883"/><rect x="124" y="165" fill="#280883"/><rect x="126" y="165" fill="#280883"/><rect x="128" y="165" fill="#280883"/><rect x="130" y="165" fill="#290882"/><rect x="132" y="165" fill="#290881"/><rect x="134" y="165" fill="#2a0880"/><rect x="6" y="167" fill="#180999"/><rect x="8" y="167" fill="#17099a"/><rect x="10" y="167" fill="#16099b"/><rect x="12" y="167" fill="#16099c"/><rect x="14" y="167" fill="#15099e"/><rect x="16" y="167" fill="#14099e"/><rect x="18" y="167" fill="#13099f"/><rect x="20" y="167" fill="#1309a0"/><rect x="22" y="167" fill="#1309a1"/><rect x="24" y="167" fill="#1209a1"/><rect x="26" y="167" fill="#1209a1"/><rect x="28" y="167" fill="#1209a1"/><rect x="30" y="167" fill="#1209a1"/><rect x="32" y="167" fill="#1209a1"/><rect x="34" y="167" fill="#1209a1"/><rect x="36" y="167" fill="#1309a0"/><rect x="38" y="167" fill="#1309a0"/><rect x="40" y="167" fill="#13099f"/><rect x="42" y="167" fill="#180999"/><rect x="44" y="167" fill="#180999"/><rect x="46" y="167" fill="#14099f"/><rect x="48" y="167" fill="#14099f"/><rect x="50" y="167" fill="#14099f"/><rect x="52" y="167" fill="#13099f"/><rect x="54" y="167" fill="#13099f"/><rect x="56" y="167" fill="#13099f"/><rect x="58" y="167" fill="#14099f"/><rect x="60" y="167" fill="#14099f"/><rect x="62" y="167" fill="#14099e"/><rect x="64" y="167" fill="#15099e"/><rect x="66" y="167" fill="#15099d"/><rect x="68" y="167" fill="#16099c"/><rect x="70" y="167" fill="#17099b"/><rect x="72" y="167" fill="#17099a"/><rect x="74" y="167" fill="#180999"/><rect x="76" y="167" fill="#190997"/><rect x="78" y="167" fill="#1a0996"/><rect x="80" y="167" fill="#1b0995"/><rect x="82" y="167" fill="#1c0994"/><rect x="84" y="167" fill="#1d0992"/><rect x="86" y="167" fill="#1e0891"/><rect x="88" y="167" fill="#1f0890"/><rect x="90" y="167" fill="#20088f"/><rect x="92" y="167" fill="#21088d"/><rect x="94" y="167" fill="#21088c"/><rect x="96" y="167" fill="#22088b"/><rect x="98" y="167" fill="#23088a"/><rect x="100" y="167" fill="#240889"/><rect x="102" y="167" fill="#240888"/><rect x="104" y="167" fill="#250887"/><rect x="106" y="167" fill="#260886"/><rect x="108" y="167" fill="#260886"/><rect x="110" y="167" fill="#270885"/><rect x="112" y="167" fill="#270884"/><rect x="114" y="167" fill="#280884"/><rect x="116" y="167" fill="#280883"/><rect x="118" y="167" fill="#280883"/><rect x="120" y="167" fill="#280883"/><rect x="122" y="167" fill="#280883"/><rect x="124" y="167" fill="#270884"/><rect x="126" y="167" fill="#260886"/><rect x="128" y="167" fill="#260886"/><rect x="130" y="167" fill="#270885"/><rect x="132" y="167" fill="#280883"/><rect x="134" y="167" fill="#2a0881"/><rect x="6" y="169" fill="#1a0996"/><rect x="8" y="169" fill="#1a0997"/><rect x="10" y="169" fill="#190998"/><rect x="12" y="169" fill="#180999"/><rect x="14" y="169" fill="#18099a"/><rect x="16" y="169" fill="#17099b"/><rect x="18" y="169" fill="#16099b"/><rect x="20" y="169" fill="#16099c"/><rect x="22" y="169" fill="#16099c"/><rect x="24" y="169" fill="#15099d"/><rect x="26" y="169" fill="#15099d"/><rect x="28" y="169" fill="#15099d"/><rect x="30" y="169" fill="#15099d"/><rect x="32" y="169" fill="#15099d"/><rect x="34" y="169" fill="#16099c"/><rect x="36" y="169" fill="#16099c"/><rect x="38" y="169" fill="#16099c"/><rect x="40" y="169" fill="#16099b"/><rect x="42" y="169" fill="#17099b"/><rect x="44" y="169" fill="#1b0996"/><rect x="46" y="169" fill="#17099b"/><rect x="48" y="169" fill="#17099b"/><rect x="50" y="169" fill="#17099b"/><rect x="52" y="169" fill="#16099b"/><rect x="54" y="169" fill="#16099b"/><rect x="56" y="169" fill="#17099b"/><rect x="58" y="169" fill="#17099b"/><rect x="60" y="169" fill="#17099b"/><rect x="62" y="169" fill="#17099a"/><rect x="64" y="169" fill="#18099a"/><rect x="66" y="169" fill="#180999"/><rect x="68" y="169" fill="#190998"/><rect x="70" y="169" fill="#190997"/><rect x="72" y="169" fill="#1a0996"/><rect x="74" y="169" fill="#1b0995"/><rect x="76" y="169" fill="#1b0994"/><rect x="78" y="169" fill="#1c0993"/><rect x="80" y="169" fill="#1d0992"/><rect x="82" y="169" fill="#1e0891"/><rect x="84" y="169" fill="#1f0890"/><rect x="86" y="169" fill="#1f088f"/><rect x="88" y="169" fill="#20088e"/><rect x="90" y="169" fill="#21088d"/><rect x="92" y="169" fill="#22088c"/><rect x="94" y="169" fill="#23088b"/><rect x="96" y="169" fill="#23088a"/><rect x="98" y="169" fill="#240889"/><rect x="100" y="169" fill="#250888"/><rect x="102" y="169" fill="#250887"/><rect x="104" y="169" fill="#260886"/><rect x="106" y="169" fill="#260885"/><rect x="108" y="169" fill="#270885"/><rect x="110" y="169" fill="#270884"/><rect x="112" y="169" fill="#280883"/><rect x="114" y="169" fill="#280883"/><rect x="116" y="169" fill="#290882"/><rect x="118" y="169" fill="#290882"/><rect x="120" y="169" fill="#280883"/><rect x="122" y="169" fill="#270885"/><rect x="124" y="169" fill="#250888"/><rect x="126" y="169" fill="#22088b"/><rect x="128" y="169" fill="#22088c"/><rect x="130" y="169" fill="#23088a"/><rect x="132" y="169" fill="#260886"/><rect x="134" y="169" fill="#280882"/><rect x="6" y="171" fill="#1c0993"/><rect x="8" y="171" fill="#1c0994"/><rect x="10" y="171" fill="#1b0995"/><rect x="12" y="171" fill="#1b0996"/><rect x="14" y="171" fill="#1a0996"/><rect x="16" y="171" fill="#1a0997"/><rect x="18" y="171" fill="#190997"/><rect x="20" y="171" fill="#190998"/><rect x="22" y="171" fill="#180998"/><rect x="24" y="171" fill="#180999"/><rect x="26" y="171" fill="#180999"/><rect x="28" y="171" fill="#180999"/><rect x="30" y="171" fill="#180999"/><rect x="32" y="171" fill="#180999"/><rect x="34" y="171" fill="#180999"/><rect x="36" y="171" fill="#190998"/><rect x="38" y="171" fill="#190998"/><rect x="40" y="171" fill="#190998"/><rect x="42" y="171" fill="#190997"/><rect x="44" y="171" fill="#1a0997"/><rect x="46" y="171" fill="#190997"/><rect x="48" y="171" fill="#190997"/><rect x="50" y="171" fill="#190997"/><rect x="52" y="171" fill="#190997"/><rect x="54" y="171" fill="#190997"/><rect x="56" y="171" fill="#190997"/><rect x="58" y="171" fill="#190997"/><rect x="60" y="171" fill="#1a0997"/><rect x="62" y="171" fill="#1a0996"/><rect x="64" y="171" fill="#1a0996"/><rect x="66" y="171" fill="#1b0995"/><rect x="68" y="171" fill="#1b0995"/><rect x="70" y="171" fill="#1c0994"/><rect x="72" y="171" fill="#1c0993"/><rect x="74" y="171" fill="#1d0992"/><rect x="76" y="171" fill="#1d0992"/><rect x="78" y="171" fill="#1e0891"/><rect x="80" y="171" fill="#1f0890"/><rect x="82" y="171" fill="#20088f"/><rect x="84" y="171" fill="#20088e"/><rect x="86" y="171" fill="#21088d"/><rect x="88" y="171" fill="#22088c"/><rect x="90" y="171" fill="#22088b"/><rect x="92" y="171" fill="#23088a"/><rect x="94" y="171" fill="#240889"/><rect x="96" y="171" fill="#240888"/><rect x="98" y="171" fill="#250887"/><rect x="100" y="171" fill="#250887"/><rect x="102" y="171" fill="#260886"/><rect x="104" y="171" fill="#270885"/><rect x="106" y="171" fill="#270884"/><rect x="108" y="171" fill="#270884"/><rect x="110" y="171" fill="#280883"/><rect x="112" y="171" fill="#280883"/><rect x="114" y="171" fill="#290882"/><rect x="116" y="171" fill="#290882"/><rect x="118" y="171" fill="#290882"/><rect x="120" y="171" fill="#280884"/><rect x="122" y="171" fill="#250887"/><rect x="124" y="171" fill="#21088d"/><rect x="126" y="171" fill="#1d0992"/><rect x="128" y="171" fill="#1b0994"/><rect x="130" y="171" fill="#1d0992"/><rect x="132" y="171" fill="#22088b"/><rect x="134" y="171" fill="#260885"/><rect x="6" y="173" fill="#1e0890"/><rect x="8" y="173" fill="#1e0891"/><rect x="10" y="173" fill="#1d0992"/><rect x="12" y="173" fill="#1d0992"/><rect x="14" y="173" fill="#1c0993"/><rect x="16" y="173" fill="#1c0994"/><rect x="18" y="173" fill="#1c0994"/><rect x="20" y="173" fill="#1b0995"/><rect x="22" y="173" fill="#1b0995"/><rect x="24" y="173" fill="#1b0995"/><rect x="26" y="173" fill="#1b0995"/><rect x="28" y="173" fill="#1b0995"/><rect x="30" y="173" fill="#1b0995"/><rect x="32" y="173" fill="#1b0995"/><rect x="34" y="173" fill="#1b0995"/><rect x="36" y="173" fill="#1b0995"/><rect x="38" y="173" fill="#1b0995"/><rect x="40" y="173" fill="#1c0994"/><rect x="42" y="173" fill="#1c0994"/><rect x="44" y="173" fill="#1c0994"/><rect x="46" y="173" fill="#1c0994"/><rect x="48" y="173" fill="#1c0994"/><rect x="50" y="173" fill="#1c0994"/><rect x="52" y="173" fill="#1c0994"/><rect x="54" y="173" fill="#1c0994"/><rect x="56" y="173" fill="#1c0994"/><rect x="58" y="173" fill="#1c0994"/><rect x="60" y="173" fill="#1c0993"/><rect x="62" y="173" fill="#1c0993"/><rect x="64" y="173" fill="#1d0993"/><rect x="66" y="173" fill="#1d0992"/><rect x="68" y="173" fill="#1d0992"/><rect x="70" y="173" fill="#1e0891"/><rect x="72" y="173" fill="#1e0890"/><rect x="74" y="173" fill="#1f0890"/><rect x="76" y="173" fill="#1f088f"/><rect x="78" y="173" fill="#20088e"/><rect x="80" y="173" fill="#21088d"/><rect x="82" y="173" fill="#21088d"/><rect x="84" y="173" fill="#22088c"/><rect x="86" y="173" fill="#22088b"/><rect x="88" y="173" fill="#23088a"/><rect x="90" y="173" fill="#240889"/><rect x="92" y="173" fill="#240888"/><rect x="94" y="173" fill="#250888"/><rect x="96" y="173" fill="#250887"/><rect x="98" y="173" fill="#260886"/><rect x="100" y="173" fill="#260885"/><rect x="102" y="173" fill="#270885"/><rect x="104" y="173" fill="#270884"/><rect x="106" y="173" fill="#280883"/><rect x="108" y="173" fill="#280883"/><rect x="110" y="173" fill="#290882"/><rect x="112" y="173" fill="#290882"/><rect x="114" y="173" fill="#290881"/><rect x="116" y="173" fill="#290881"/><rect x="118" y="173" fill="#290882"/><rect x="120" y="173" fill="#270884"/><rect x="122" y="173" fill="#23088a"/><rect x="124" y="173" fill="#1d0993"/><rect x="126" y="173" fill="#16099b"/><rect x="128" y="173" fill="#14099f"/><rect x="130" y="173" fill="#17099b"/><rect x="132" y="173" fill="#1d0992"/><rect x="134" y="173" fill="#240888"/><rect x="6" y="175" fill="#20088e"/><rect x="8" y="175" fill="#20088e"/><rect x="10" y="175" fill="#1f088f"/><rect x="12" y="175" fill="#1f0890"/><rect x="14" y="175" fill="#1e0890"/><rect x="16" y="175" fill="#1e0891"/><rect x="18" y="175" fill="#1e0891"/><rect x="20" y="175" fill="#1e0891"/><rect x="22" y="175" fill="#1d0992"/><rect x="24" y="175" fill="#1d0992"/><rect x="26" y="175" fill="#1d0992"/><rect x="28" y="175" fill="#1d0992"/><rect x="30" y="175" fill="#1d0992"/><rect x="32" y="175" fill="#1d0992"/><rect x="34" y="175" fill="#1d0992"/><rect x="36" y="175" fill="#1d0992"/><rect x="38" y="175" fill="#1e0891"/><rect x="40" y="175" fill="#1e0891"/><rect x="42" y="175" fill="#1e0891"/><rect x="44" y="175" fill="#1e0891"/><rect x="46" y="175" fill="#1e0891"/><rect x="48" y="175" fill="#1e0891"/><rect x="50" y="175" fill="#1e0891"/><rect x="52" y="175" fill="#1e0891"/><rect x="54" y="175" fill="#1e0891"/><rect x="56" y="175" fill="#1e0891"/><rect x="58" y="175" fill="#1e0891"/><rect x="60" y="175" fill="#1e0890"/><rect x="62" y="175" fill="#1f0890"/><rect x="64" y="175" fill="#1f0890"/><rect x="66" y="175" fill="#1f088f"/><rect x="68" y="175" fill="#1f088f"/><rect x="70" y="175" fill="#20088e"/><rect x="72" y="175" fill="#20088e"/><rect x="74" y="175" fill="#21088d"/><rect x="76" y="175" fill="#21088d"/><rect x="78" y="175" fill="#22088c"/><rect x="80" y="175" fill="#22088b"/><rect x="82" y="175" fill="#23088a"/><rect x="84" y="175" fill="#23088a"/><rect x="86" y="175" fill="#240889"/><rect x="88" y="175" fill="#240888"/><rect x="90" y="175" fill="#250888"/><rect x="92" y="175" fill="#250887"/><rect x="94" y="175" fill="#260886"/><rect x="96" y="175" fill="#260886"/><rect x="98" y="175" fill="#270885"/><rect x="100" y="175" fill="#270884"/><rect x="102" y="175" fill="#280884"/><rect x="104" y="175" fill="#280883"/><rect x="106" y="175" fill="#280883"/><rect x="108" y="175" fill="#290882"/><rect x="110" y="175" fill="#290882"/><rect x="112" y="175" fill="#290881"/><rect x="114" y="175" fill="#2a0881"/><rect x="116" y="175" fill="#2a0881"/><rect x="118" y="175" fill="#290882"/><rect x="120" y="175" fill="#270885"/><rect x="122" y="175" fill="#21088c"/><rect x="124" y="175" fill="#190998"/><rect x="126" y="175" fill="#1109a2"/><rect x="128" y="175" fill="#0e09a7"/><rect x="130" y="175" fill="#1209a2"/><rect x="132" y="175" fill="#1a0997"/><rect x="134" y="175" fill="#22088b"/><rect x="6" y="177" fill="#22088c"/><rect x="8" y="177" fill="#21088c"/><rect x="10" y="177" fill="#21088d"/><rect x="12" y="177" fill="#21088d"/><rect x="14" y="177" fill="#20088e"/><rect x="16" y="177" fill="#20088e"/><rect x="18" y="177" fill="#20088e"/><rect x="20" y="177" fill="#20088f"/><rect x="22" y="177" fill="#1f088f"/><rect x="24" y="177" fill="#1f088f"/><rect x="26" y="177" fill="#1f088f"/><rect x="28" y="177" fill="#1f088f"/><rect x="30" y="177" fill="#1f088f"/><rect x="32" y="177" fill="#1f088f"/><rect x="34" y="177" fill="#1f088f"/><rect x="36" y="177" fill="#1f088f"/><rect x="38" y="177" fill="#20088f"/><rect x="40" y="177" fill="#20088e"/><rect x="42" y="177" fill="#20088e"/><rect x="44" y="177" fill="#20088e"/><rect x="46" y="177" fill="#20088e"/><rect x="48" y="177" fill="#20088e"/><rect x="50" y="177" fill="#20088e"/><rect x="52" y="177" fill="#20088e"/><rect x="54" y="177" fill="#20088e"/><rect x="56" y="177" fill="#20088e"/><rect x="58" y="177" fill="#20088e"/><rect x="60" y="177" fill="#20088e"/><rect x="62" y="177" fill="#20088d"/><rect x="64" y="177" fill="#21088d"/><rect x="66" y="177" fill="#21088d"/><rect x="68" y="177" fill="#21088c"/><rect x="70" y="177" fill="#22088c"/><rect x="72" y="177" fill="#22088b"/><rect x="74" y="177" fill="#22088b"/><rect x="76" y="177" fill="#23088a"/><rect x="78" y="177" fill="#23088a"/><rect x="80" y="177" fill="#230889"/><rect x="82" y="177" fill="#240889"/><rect x="84" y="177" fill="#240888"/><rect x="86" y="177" fill="#250887"/><rect x="88" y="177" fill="#250887"/><rect x="90" y="177" fill="#260886"/><rect x="92" y="177" fill="#260886"/><rect x="94" y="177" fill="#270885"/><rect x="96" y="177" fill="#270884"/><rect x="98" y="177" fill="#270884"/><rect x="100" y="177" fill="#280883"/><rect x="102" y="177" fill="#280883"/><rect x="104" y="177" fill="#290882"/><rect x="106" y="177" fill="#290882"/><rect x="108" y="177" fill="#290881"/><rect x="110" y="177" fill="#2a0881"/><rect x="112" y="177" fill="#2a0881"/><rect x="114" y="177" fill="#2a0880"/><rect x="116" y="177" fill="#2a0880"/><rect x="118" y="177" fill="#290881"/><rect x="120" y="177" fill="#270885"/><rect x="122" y="177" fill="#21088d"/><rect x="124" y="177" fill="#180999"/><rect x="126" y="177" fill="#0f09a5"/><rect x="128" y="177" fill="#0e0caa"/><rect x="130" y="177" fill="#1009a5"/><rect x="132" y="177" fill="#190998"/><rect x="134" y="177" fill="#22088c"/><rect x="6" y="179" fill="#23088a"/><rect x="8" y="179" fill="#23088a"/><rect x="10" y="179" fill="#23088a"/><rect x="12" y="179" fill="#22088b"/><rect x="14" y="179" fill="#22088b"/><rect x="16" y="179" fill="#22088c"/><rect x="18" y="179" fill="#22088c"/><rect x="20" y="179" fill="#21088c"/><rect x="22" y="179" fill="#21088c"/><rect x="24" y="179" fill="#21088c"/><rect x="26" y="179" fill="#21088d"/><rect x="28" y="179" fill="#21088d"/><rect x="30" y="179" fill="#21088d"/><rect x="32" y="179" fill="#21088d"/><rect x="34" y="179" fill="#21088c"/><rect x="36" y="179" fill="#21088c"/><rect x="38" y="179" fill="#21088c"/><rect x="40" y="179" fill="#21088c"/><rect x="42" y="179" fill="#22088c"/><rect x="44" y="179" fill="#22088c"/><rect x="46" y="179" fill="#22088c"/><rect x="48" y="179" fill="#22088c"/><rect x="50" y="179" fill="#22088c"/><rect x="52" y="179" fill="#22088c"/><rect x="54" y="179" fill="#22088c"/><rect x="56" y="179" fill="#22088c"/><rect x="58" y="179" fill="#22088b"/><rect x="60" y="179" fill="#22088b"/><rect x="62" y="179" fill="#22088b"/><rect x="64" y="179" fill="#22088b"/><rect x="66" y="179" fill="#23088a"/><rect x="68" y="179" fill="#23088a"/><rect x="70" y="179" fill="#23088a"/><rect x="72" y="179" fill="#230889"/><rect x="74" y="179" fill="#240889"/><rect x="76" y="179" fill="#240888"/><rect x="78" y="179" fill="#240888"/><rect x="80" y="179" fill="#250887"/><rect x="82" y="179" fill="#250887"/><rect x="84" y="179" fill="#260886"/><rect x="86" y="179" fill="#260886"/><rect x="88" y="179" fill="#260885"/><rect x="90" y="179" fill="#270885"/><rect x="92" y="179" fill="#270884"/><rect x="94" y="179" fill="#270884"/><rect x="96" y="179" fill="#280883"/><rect x="98" y="179" fill="#280883"/><rect x="100" y="179" fill="#280882"/><rect x="102" y="179" fill="#290882"/><rect x="104" y="179" fill="#290881"/><rect x="106" y="179" fill="#290881"/><rect x="108" y="179" fill="#2a0881"/><rect x="110" y="179" fill="#2a0880"/><rect x="112" y="179" fill="#2a0880"/><rect x="114" y="179" fill="#2a0880"/><rect x="116" y="179" fill="#2a0880"/><rect x="118" y="179" fill="#2a0881"/><rect x="120" y="179" fill="#270884"/><rect x="122" y="179" fill="#22088c"/><rect x="124" y="179" fill="#1a0997"/><rect x="126" y="179" fill="#1209a2"/><rect x="128" y="179" fill="#0e09a6"/><rect x="130" y="179" fill="#1209a1"/><rect x="132" y="179" fill="#1a0996"/><rect x="134" y="179" fill="#23088a"/><rect x="6" y="181" fill="#250888"/><rect x="8" y="181" fill="#240888"/><rect x="10" y="181" fill="#240888"/><rect x="12" y="181" fill="#240889"/><rect x="14" y="181" fill="#240889"/><rect x="16" y="181" fill="#230889"/><rect x="18" y="181" fill="#23088a"/><rect x="20" y="181" fill="#23088a"/><rect x="22" y="181" fill="#23088a"/><rect x="24" y="181" fill="#23088a"/><rect x="26" y="181" fill="#23088a"/><rect x="28" y="181" fill="#23088a"/><rect x="30" y="181" fill="#23088a"/><rect x="32" y="181" fill="#23088a"/><rect x="34" y="181" fill="#23088a"/><rect x="36" y="181" fill="#23088a"/><rect x="38" y="181" fill="#23088a"/><rect x="40" y="181" fill="#23088a"/><rect x="42" y="181" fill="#23088a"/><rect x="44" y="181" fill="#23088a"/><rect x="46" y="181" fill="#23088a"/><rect x="48" y="181" fill="#23088a"/><rect x="50" y="181" fill="#23088a"/><rect x="52" y="181" fill="#23088a"/><rect x="54" y="181" fill="#230889"/><rect x="56" y="181" fill="#230889"/><rect x="58" y="181" fill="#230889"/><rect x="60" y="181" fill="#240889"/><rect x="62" y="181" fill="#240889"/><rect x="64" y="181" fill="#240889"/><rect x="66" y="181" fill="#240888"/><rect x="68" y="181" fill="#240888"/><rect x="70" y="181" fill="#250888"/><rect x="72" y="181" fill="#250888"/><rect x="74" y="181" fill="#250887"/><rect x="76" y="181" fill="#250887"/><rect x="78" y="181" fill="#260886"/><rect x="80" y="181" fill="#260886"/><rect x="82" y="181" fill="#260885"/><rect x="84" y="181" fill="#270885"/><rect x="86" y="181" fill="#270885"/><rect x="88" y="181" fill="#270884"/><rect x="90" y="181" fill="#280884"/><rect x="92" y="181" fill="#280883"/><rect x="94" y="181" fill="#280883"/><rect x="96" y="181" fill="#290882"/><rect x="98" y="181" fill="#290882"/><rect x="100" y="181" fill="#290882"/><rect x="102" y="181" fill="#290881"/><rect x="104" y="181" fill="#2a0881"/><rect x="106" y="181" fill="#2a0880"/><rect x="108" y="181" fill="#2a0880"/><rect x="110" y="181" fill="#2a0880"/><rect x="112" y="181" fill="#2b087f"/><rect x="114" y="181" fill="#2b087f"/><rect x="116" y="181" fill="#2b087f"/><rect x="118" y="181" fill="#2a0880"/><rect x="120" y="181" fill="#280883"/><rect x="122" y="181" fill="#240888"/><rect x="124" y="181" fill="#1e0891"/><rect x="126" y="181" fill="#17099a"/><rect x="128" y="181" fill="#15099d"/><rect x="130" y="181" fill="#18099a"/><rect x="132" y="181" fill="#1e0891"/><rect x="134" y="181" fill="#250887"/><rect x="6" y="183" fill="#260886"/><rect x="8" y="183" fill="#260886"/><rect x="10" y="183" fill="#250887"/><rect x="12" y="183" fill="#250887"/><rect x="14" y="183" fill="#250887"/><rect x="16" y="183" fill="#250887"/><rect x="18" y="183" fill="#250888"/><rect x="20" y="183" fill="#250888"/><rect x="22" y="183" fill="#240888"/><rect x="24" y="183" fill="#240888"/><rect x="26" y="183" fill="#240888"/><rect x="28" y="183" fill="#240888"/><rect x="30" y="183" fill="#240888"/><rect x="32" y="183" fill="#240888"/><rect x="34" y="183" fill="#240888"/><rect x="36" y="183" fill="#240888"/><rect x="38" y="183" fill="#240888"/><rect x="40" y="183" fill="#240888"/><rect x="42" y="183" fill="#250888"/><rect x="44" y="183" fill="#250888"/><rect x="46" y="183" fill="#250888"/><rect x="48" y="183" fill="#250888"/><rect x="50" y="183" fill="#250888"/><rect x="52" y="183" fill="#250888"/><rect x="54" y="183" fill="#250888"/><rect x="56" y="183" fill="#250887"/><rect x="58" y="183" fill="#250887"/><rect x="60" y="183" fill="#250887"/><rect x="62" y="183" fill="#250887"/><rect x="64" y="183" fill="#250887"/><rect x="66" y="183" fill="#250887"/><rect x="68" y="183" fill="#260886"/><rect x="70" y="183" fill="#260886"/><rect x="72" y="183" fill="#260886"/><rect x="74" y="183" fill="#260886"/><rect x="76" y="183" fill="#260885"/><rect x="78" y="183" fill="#270885"/><rect x="80" y="183" fill="#270884"/><rect x="82" y="183" fill="#270884"/><rect x="84" y="183" fill="#280884"/><rect x="86" y="183" fill="#280883"/><rect x="88" y="183" fill="#280883"/><rect x="90" y="183" fill="#280883"/><rect x="92" y="183" fill="#290882"/><rect x="94" y="183" fill="#290882"/><rect x="96" y="183" fill="#290881"/><rect x="98" y="183" fill="#290881"/><rect x="100" y="183" fill="#2a0881"/><rect x="102" y="183" fill="#2a0880"/><rect x="104" y="183" fill="#2a0880"/><rect x="106" y="183" fill="#2a0880"/><rect x="108" y="183" fill="#2b087f"/><rect x="110" y="183" fill="#2b087f"/><rect x="112" y="183" fill="#2b087f"/><rect x="114" y="183" fill="#2b087f"/><rect x="116" y="183" fill="#2b087f"/><rect x="118" y="183" fill="#2b087f"/><rect x="120" y="183" fill="#2a0881"/><rect x="122" y="183" fill="#270885"/><rect x="124" y="183" fill="#23088b"/><rect x="126" y="183" fill="#1e0890"/><rect x="128" y="183" fill="#1d0993"/><rect x="130" y="183" fill="#1f0890"/><rect x="132" y="183" fill="#23088a"/><rect x="134" y="183" fill="#270884"/><rect x="6" y="185" fill="#270885"/><rect x="8" y="185" fill="#270885"/><rect x="10" y="185" fill="#260885"/><rect x="12" y="185" fill="#260885"/><rect x="14" y="185" fill="#260886"/><rect x="16" y="185" fill="#260886"/><rect x="18" y="185" fill="#260886"/><rect x="20" y="185" fill="#260886"/><rect x="22" y="185" fill="#260886"/><rect x="24" y="185" fill="#260886"/><rect x="26" y="185" fill="#260886"/><rect x="28" y="185" fill="#260886"/><rect x="30" y="185" fill="#260886"/><rect x="32" y="185" fill="#260886"/><rect x="34" y="185" fill="#260886"/><rect x="36" y="185" fill="#260886"/><rect x="38" y="185" fill="#260886"/><rect x="40" y="185" fill="#260886"/><rect x="42" y="185" fill="#260886"/><rect x="44" y="185" fill="#260886"/><rect x="46" y="185" fill="#260886"/><rect x="48" y="185" fill="#260886"/><rect x="50" y="185" fill="#260886"/><rect x="52" y="185" fill="#260886"/><rect x="54" y="185" fill="#260886"/><rect x="56" y="185" fill="#260886"/><rect x="58" y="185" fill="#260886"/><rect x="60" y="185" fill="#260886"/><rect x="62" y="185" fill="#260885"/><rect x="64" y="185" fill="#260885"/><rect x="66" y="185" fill="#270885"/><rect x="68" y="185" fill="#270885"/><rect x="70" y="185" fill="#270885"/><rect x="72" y="185" fill="#270884"/><rect x="74" y="185" fill="#270884"/><rect x="76" y="185" fill="#270884"/><rect x="78" y="185" fill="#280884"/><rect x="80" y="185" fill="#280883"/><rect x="82" y="185" fill="#280883"/><rect x="84" y="185" fill="#280883"/><rect x="86" y="185" fill="#290882"/><rect x="88" y="185" fill="#290882"/><rect x="90" y="185" fill="#290882"/><rect x="92" y="185" fill="#290881"/><rect x="94" y="185" fill="#2a0881"/><rect x="96" y="185" fill="#2a0881"/><rect x="98" y="185" fill="#2a0880"/><rect x="100" y="185" fill="#2a0880"/><rect x="102" y="185" fill="#2a0880"/><rect x="104" y="185" fill="#2b087f"/><rect x="106" y="185" fill="#2b087f"/><rect x="108" y="185" fill="#2b087f"/><rect x="110" y="185" fill="#2b087f"/><rect x="112" y="185" fill="#2b087e"/><rect x="114" y="185" fill="#2b087e"/><rect x="116" y="185" fill="#2c087e"/><rect x="118" y="185" fill="#2b087e"/><rect x="120" y="185" fill="#2b087f"/><rect x="122" y="185" fill="#290881"/><rect x="124" y="185" fill="#270885"/><rect x="126" y="185" fill="#240888"/><rect x="128" y="185" fill="#230889"/><rect x="130" y="185" fill="#250888"/><rect x="132" y="185" fill="#270884"/><rect x="134" y="185" fill="#2a0881"/><rect x="6" y="187" fill="#280883"/><rect x="8" y="187" fill="#280884"/><rect x="10" y="187" fill="#270884"/><rect x="12" y="187" fill="#270884"/><rect x="14" y="187" fill="#270884"/><rect x="16" y="187" fill="#270884"/><rect x="18" y="187" fill="#270884"/><rect x="20" y="187" fill="#270885"/><rect x="22" y="187" fill="#270885"/><rect x="24" y="187" fill="#270885"/><rect x="26" y="187" fill="#270885"/><rect x="28" y="187" fill="#270885"/><rect x="30" y="187" fill="#270885"/><rect x="32" y="187" fill="#270885"/><rect x="34" y="187" fill="#270885"/><rect x="36" y="187" fill="#270885"/><rect x="38" y="187" fill="#270885"/><rect x="40" y="187" fill="#270885"/><rect x="42" y="187" fill="#270885"/><rect x="44" y="187" fill="#270884"/><rect x="46" y="187" fill="#270884"/><rect x="48" y="187" fill="#270884"/><rect x="50" y="187" fill="#270884"/><rect x="52" y="187" fill="#270884"/><rect x="54" y="187" fill="#270884"/><rect x="56" y="187" fill="#270884"/><rect x="58" y="187" fill="#270884"/><rect x="60" y="187" fill="#270884"/><rect x="62" y="187" fill="#270884"/><rect x="64" y="187" fill="#270884"/><rect x="66" y="187" fill="#280884"/><rect x="68" y="187" fill="#280883"/><rect x="70" y="187" fill="#280883"/><rect x="72" y="187" fill="#280883"/><rect x="74" y="187" fill="#280883"/><rect x="76" y="187" fill="#280883"/><rect x="78" y="187" fill="#280882"/><rect x="80" y="187" fill="#290882"/><rect x="82" y="187" fill="#290882"/><rect x="84" y="187" fill="#290882"/><rect x="86" y="187" fill="#290881"/><rect x="88" y="187" fill="#290881"/><rect x="90" y="187" fill="#2a0881"/><rect x="92" y="187" fill="#2a0880"/><rect x="94" y="187" fill="#2a0880"/><rect x="96" y="187" fill="#2a0880"/><rect x="98" y="187" fill="#2a0880"/><rect x="100" y="187" fill="#2b087f"/><rect x="102" y="187" fill="#2b087f"/><rect x="104" y="187" fill="#2b087f"/><rect x="106" y="187" fill="#2b087f"/><rect x="108" y="187" fill="#2b087e"/><rect x="110" y="187" fill="#2b087e"/><rect x="112" y="187" fill="#2c087e"/><rect x="114" y="187" fill="#2c087e"/><rect x="116" y="187" fill="#2c087e"/><rect x="118" y="187" fill="#2c087e"/><rect x="120" y="187" fill="#2c087e"/><rect x="122" y="187" fill="#2b087f"/><rect x="124" y="187" fill="#2a0881"/><rect x="126" y="187" fill="#290882"/><rect x="128" y="187" fill="#280883"/><rect x="130" y="187" fill="#290882"/><rect x="132" y="187" fill="#2a0880"/><rect x="134" y="187" fill="#2b087e"/><rect x="6" y="189" fill="#290882"/><rect x="8" y="189" fill="#290882"/><rect x="10" y="189" fill="#280883"/><rect x="12" y="189" fill="#280883"/><rect x="14" y="189" fill="#280883"/><rect x="16" y="189" fill="#280883"/><rect x="18" y="189" fill="#280883"/><rect x="20" y="189" fill="#280883"/><rect x="22" y="189" fill="#280883"/><rect x="24" y="189" fill="#280883"/><rect x="26" y="189" fill="#280883"/><rect x="28" y="189" fill="#280883"/><rect x="30" y="189" fill="#280883"/><rect x="32" y="189" fill="#280883"/><rect x="34" y="189" fill="#280883"/><rect x="36" y="189" fill="#280883"/><rect x="38" y="189" fill="#280883"/><rect x="40" y="189" fill="#280883"/><rect x="42" y="189" fill="#280883"/><rect x="44" y="189" fill="#280883"/><rect x="46" y="189" fill="#280883"/><rect x="48" y="189" fill="#280883"/><rect x="50" y="189" fill="#280883"/><rect x="52" y="189" fill="#280883"/><rect x="54" y="189" fill="#280883"/><rect x="56" y="189" fill="#280883"/><rect x="58" y="189" fill="#280883"/><rect x="60" y="189" fill="#280883"/><rect x="62" y="189" fill="#280883"/><rect x="64" y="189" fill="#280883"/><rect x="66" y="189" fill="#280882"/><rect x="68" y="189" fill="#290882"/><rect x="70" y="189" fill="#290882"/><rect x="72" y="189" fill="#290882"/><rect x="74" y="189" fill="#290882"/><rect x="76" y="189" fill="#290882"/><rect x="78" y="189" fill="#290881"/><rect x="80" y="189" fill="#290881"/><rect x="82" y="189" fill="#2a0881"/><rect x="84" y="189" fill="#2a0881"/><rect x="86" y="189" fill="#2a0880"/><rect x="88" y="189" fill="#2a0880"/><rect x="90" y="189" fill="#2a0880"/><rect x="92" y="189" fill="#2a0880"/><rect x="94" y="189" fill="#2b0880"/><rect x="96" y="189" fill="#2b087f"/><rect x="98" y="189" fill="#2b087f"/><rect x="100" y="189" fill="#2b087f"/><rect x="102" y="189" fill="#2b087f"/><rect x="104" y="189" fill="#2b087e"/><rect x="106" y="189" fill="#2b087e"/><rect x="108" y="189" fill="#2c087e"/><rect x="110" y="189" fill="#2c087e"/><rect x="112" y="189" fill="#2c087e"/><rect x="114" y="189" fill="#2c087e"/><rect x="116" y="189" fill="#2c087d"/><rect x="118" y="189" fill="#2c087d"/><rect x="120" y="189" fill="#2c087d"/><rect x="122" y="189" fill="#2c087e"/><rect x="124" y="189" fill="#2b087e"/><rect x="126" y="189" fill="#2b087f"/><rect x="128" y="189" fill="#2b087f"/><rect x="130" y="189" fill="#2b087f"/><rect x="132" y="189" fill="#2c087e"/><rect x="134" y="189" fill="#2c087d"/><rect x="6" y="191" fill="#290881"/><rect x="8" y="191" fill="#290881"/><rect x="10" y="191" fill="#290881"/><rect x="12" y="191" fill="#290882"/><rect x="14" y="191" fill="#290882"/><rect x="16" y="191" fill="#290882"/><rect x="18" y="191" fill="#290882"/><rect x="20" y="191" fill="#290882"/><rect x="22" y="191" fill="#290882"/><rect x="24" y="191" fill="#290882"/><rect x="26" y="191" fill="#290882"/><rect x="28" y="191" fill="#290882"/><rect x="30" y="191" fill="#290882"/><rect x="32" y="191" fill="#290882"/><rect x="34" y="191" fill="#290882"/><rect x="36" y="191" fill="#290882"/><rect x="38" y="191" fill="#290882"/><rect x="40" y="191" fill="#290882"/><rect x="42" y="191" fill="#290882"/><rect x="44" y="191" fill="#290882"/><rect x="46" y="191" fill="#290882"/><rect x="48" y="191" fill="#290882"/><rect x="50" y="191" fill="#290882"/><rect x="52" y="191" fill="#290882"/><rect x="54" y="191" fill="#290882"/><rect x="56" y="191" fill="#290882"/><rect x="58" y="191" fill="#290882"/><rect x="60" y="191" fill="#290882"/><rect x="62" y="191" fill="#290882"/><rect x="64" y="191" fill="#290881"/><rect x="66" y="191" fill="#290881"/><rect x="68" y="191" fill="#290881"/><rect x="70" y="191" fill="#290881"/><rect x="72" y="191" fill="#2a0881"/><rect x="74" y="191" fill="#2a0881"/><rect x="76" y="191" fill="#2a0881"/><rect x="78" y="191" fill="#2a0880"/><rect x="80" y="191" fill="#2a0880"/><rect x="82" y="191" fill="#2a0880"/><rect x="84" y="191" fill="#2a0880"/><rect x="86" y="191" fill="#2a0880"/><rect x="88" y="191" fill="#2b0880"/><rect x="90" y="191" fill="#2b087f"/><rect x="92" y="191" fill="#2b087f"/><rect x="94" y="191" fill="#2b087f"/><rect x="96" y="191" fill="#2b087f"/><rect x="98" y="191" fill="#2b087f"/><rect x="100" y="191" fill="#2b087e"/><rect x="102" y="191" fill="#2c087e"/><rect x="104" y="191" fill="#2c087e"/><rect x="106" y="191" fill="#2c087e"/><rect x="108" y="191" fill="#2c087e"/><rect x="110" y="191" fill="#2c087e"/><rect x="112" y="191" fill="#2c087d"/><rect x="114" y="191" fill="#2c087d"/><rect x="116" y="191" fill="#2c087d"/><rect x="118" y="191" fill="#2c087d"/><rect x="120" y="191" fill="#2c087d"/><rect x="122" y="191" fill="#2c087d"/><rect x="124" y="191" fill="#2c087d"/><rect x="126" y="191" fill="#2c087d"/><rect x="128" y="191" fill="#2c087d"/><rect x="130" y="191" fill="#2c087d"/><rect x="132" y="191" fill="#2d087d"/><rect x="134" y="191" fill="#2d087d"/><rect x="6" y="193" fill="#2a0880"/><rect x="8" y="193" fill="#2a0880"/><rect x="10" y="193" fill="#2a0881"/><rect x="12" y="193" fill="#2a0881"/><rect x="14" y="193" fill="#2a0881"/><rect x="16" y="193" fill="#2a0881"/><rect x="18" y="193" fill="#2a0881"/><rect x="20" y="193" fill="#290881"/><rect x="22" y="193" fill="#290881"/><rect x="24" y="193" fill="#290881"/><rect x="26" y="193" fill="#290881"/><rect x="28" y="193" fill="#290881"/><rect x="30" y="193" fill="#290881"/><rect x="32" y="193" fill="#290881"/><rect x="34" y="193" fill="#290881"/><rect x="36" y="193" fill="#290881"/><rect x="38" y="193" fill="#290881"/><rect x="40" y="193" fill="#290881"/><rect x="42" y="193" fill="#290881"/><rect x="44" y="193" fill="#2a0881"/><rect x="46" y="193" fill="#2a0881"/><rect x="48" y="193" fill="#2a0881"/><rect x="50" y="193" fill="#2a0881"/><rect x="52" y="193" fill="#2a0881"/><rect x="54" y="193" fill="#2a0881"/><rect x="56" y="193" fill="#2a0881"/><rect x="58" y="193" fill="#2a0881"/><rect x="60" y="193" fill="#2a0881"/><rect x="62" y="193" fill="#2a0881"/><rect x="64" y="193" fill="#2a0881"/><rect x="66" y="193" fill="#2a0880"/><rect x="68" y="193" fill="#2a0880"/><rect x="70" y="193" fill="#2a0880"/><rect x="72" y="193" fill="#2a0880"/><rect x="74" y="193" fill="#2a0880"/><rect x="76" y="193" fill="#2a0880"/><rect x="78" y="193" fill="#2a0880"/><rect x="80" y="193" fill="#2b0880"/><rect x="82" y="193" fill="#2b087f"/><rect x="84" y="193" fill="#2b087f"/><rect x="86" y="193" fill="#2b087f"/><rect x="88" y="193" fill="#2b087f"/><rect x="90" y="193" fill="#2b087f"/><rect x="92" y="193" fill="#2b087f"/><rect x="94" y="193" fill="#2b087e"/><rect x="96" y="193" fill="#2b087e"/><rect x="98" y="193" fill="#2c087e"/><rect x="100" y="193" fill="#2c087e"/><rect x="102" y="193" fill="#2c087e"/><rect x="104" y="193" fill="#2c087e"/><rect x="106" y="193" fill="#2c087e"/><rect x="108" y="193" fill="#2c087d"/><rect x="110" y="193" fill="#2c087d"/><rect x="112" y="193" fill="#2c087d"/><rect x="114" y="193" fill="#2c087d"/><rect x="116" y="193" fill="#2c087d"/><rect x="118" y="193" fill="#2d087d"/><rect x="120" y="193" fill="#2d087d"/><rect x="122" y="193" fill="#2d087d"/><rect x="124" y="193" fill="#2d087d"/><rect x="126" y="193" fill="#2d087d"/><rect x="128" y="193" fill="#2d087d"/><rect x="130" y="193" fill="#2d087d"/><rect x="132" y="193" fill="#2d087c"/><rect x="134" y="193" fill="#2d087c"/><rect x="6" y="195" fill="#2b0880"/><rect x="8" y="195" fill="#2a0880"/><rect x="10" y="195" fill="#2a0880"/><rect x="12" y="195" fill="#2a0880"/><rect x="14" y="195" fill="#2a0880"/><rect x="16" y="195" fill="#2a0880"/><rect x="18" y="195" fill="#2a0880"/><rect x="20" y="195" fill="#2a0880"/><rect x="22" y="195" fill="#2a0880"/><rect x="24" y="195" fill="#2a0880"/><rect x="26" y="195" fill="#2a0880"/><rect x="28" y="195" fill="#2a0880"/><rect x="30" y="195" fill="#2a0880"/><rect x="32" y="195" fill="#2a0880"/><rect x="34" y="195" fill="#2a0880"/><rect x="36" y="195" fill="#2a0880"/><rect x="38" y="195" fill="#2a0880"/><rect x="40" y="195" fill="#2a0880"/><rect x="42" y="195" fill="#2a0880"/><rect x="44" y="195" fill="#2a0880"/><rect x="46" y="195" fill="#2a0880"/><rect x="48" y="195" fill="#2a0880"/><rect x="50" y="195" fill="#2a0880"/><rect x="52" y="195" fill="#2a0880"/><rect x="54" y="195" fill="#2a0880"/><rect x="56" y="195" fill="#2a0880"/><rect x="58" y="195" fill="#2a0880"/><rect x="60" y="195" fill="#2a0880"/><rect x="62" y="195" fill="#2a0880"/><rect x="64" y="195" fill="#2a0880"/><rect x="66" y="195" fill="#2a0880"/><rect x="68" y="195" fill="#2b0880"/><rect x="70" y="195" fill="#2b087f"/><rect x="72" y="195" fill="#2b087f"/><rect x="74" y="195" fill="#2b087f"/><rect x="76" y="195" fill="#2b087f"/><rect x="78" y="195" fill="#2b087f"/><rect x="80" y="195" fill="#2b087f"/><rect x="82" y="195" fill="#2b087f"/><rect x="84" y="195" fill="#2b087f"/><rect x="86" y="195" fill="#2b087f"/><rect x="88" y="195" fill="#2b087e"/><rect x="90" y="195" fill="#2b087e"/><rect x="92" y="195" fill="#2c087e"/><rect x="94" y="195" fill="#2c087e"/><rect x="96" y="195" fill="#2c087e"/><rect x="98" y="195" fill="#2c087e"/><rect x="100" y="195" fill="#2c087e"/><rect x="102" y="195" fill="#2c087d"/><rect x="104" y="195" fill="#2c087d"/><rect x="106" y="195" fill="#2c087d"/><rect x="108" y="195" fill="#2c087d"/><rect x="110" y="195" fill="#2c087d"/><rect x="112" y="195" fill="#2c087d"/><rect x="114" y="195" fill="#2d087d"/><rect x="116" y="195" fill="#2d087d"/><rect x="118" y="195" fill="#2d087d"/><rect x="120" y="195" fill="#2d087d"/><rect x="122" y="195" fill="#2d087c"/><rect x="124" y="195" fill="#2d087c"/><rect x="126" y="195" fill="#2d087c"/><rect x="128" y="195" fill="#2d087c"/><rect x="130" y="195" fill="#2d087c"/><rect x="132" y="195" fill="#2d087c"/><rect x="134" y="195" fill="#2d087c"/><rect x="6" y="197" fill="#2b087f"/><rect x="8" y="197" fill="#2b087f"/><rect x="10" y="197" fill="#2b087f"/><rect x="12" y="197" fill="#2b087f"/><rect x="14" y="197" fill="#2b087f"/><rect x="16" y="197" fill="#2b087f"/><rect x="18" y="197" fill="#2b087f"/><rect x="20" y="197" fill="#2b087f"/><rect x="22" y="197" fill="#2b087f"/><rect x="24" y="197" fill="#2b087f"/><rect x="26" y="197" fill="#2b087f"/><rect x="28" y="197" fill="#2b0880"/><rect x="30" y="197" fill="#2b0880"/><rect x="32" y="197" fill="#2b0880"/><rect x="34" y="197" fill="#2b0880"/><rect x="36" y="197" fill="#2b087f"/><rect x="38" y="197" fill="#2b087f"/><rect x="40" y="197" fill="#2b087f"/><rect x="42" y="197" fill="#2b087f"/><rect x="44" y="197" fill="#2b087f"/><rect x="46" y="197" fill="#2b087f"/><rect x="48" y="197" fill="#2b087f"/><rect x="50" y="197" fill="#2b087f"/><rect x="52" y="197" fill="#2b087f"/><rect x="54" y="197" fill="#2b087f"/><rect x="56" y="197" fill="#2b087f"/><rect x="58" y="197" fill="#2b087f"/><rect x="60" y="197" fill="#2b087f"/><rect x="62" y="197" fill="#2b087f"/><rect x="64" y="197" fill="#2b087f"/><rect x="66" y="197" fill="#2b087f"/><rect x="68" y="197" fill="#2b087f"/><rect x="70" y="197" fill="#2b087f"/><rect x="72" y="197" fill="#2b087f"/><rect x="74" y="197" fill="#2b087f"/><rect x="76" y="197" fill="#2b087f"/><rect x="78" y="197" fill="#2b087e"/><rect x="80" y="197" fill="#2b087e"/><rect x="82" y="197" fill="#2b087e"/><rect x="84" y="197" fill="#2c087e"/><rect x="86" y="197" fill="#2c087e"/><rect x="88" y="197" fill="#2c087e"/><rect x="90" y="197" fill="#2c087e"/><rect x="92" y="197" fill="#2c087e"/><rect x="94" y="197" fill="#2c087e"/><rect x="96" y="197" fill="#2c087d"/><rect x="98" y="197" fill="#2c087d"/><rect x="100" y="197" fill="#2c087d"/><rect x="102" y="197" fill="#2c087d"/><rect x="104" y="197" fill="#2c087d"/><rect x="106" y="197" fill="#2c087d"/><rect x="108" y="197" fill="#2d087d"/><rect x="110" y="197" fill="#2d087d"/><rect x="112" y="197" fill="#2d087d"/><rect x="114" y="197" fill="#2d087d"/><rect x="116" y="197" fill="#2d087d"/><rect x="118" y="197" fill="#2d087c"/><rect x="120" y="197" fill="#2d087c"/><rect x="122" y="197" fill="#2d087c"/><rect x="124" y="197" fill="#2d087c"/><rect x="126" y="197" fill="#2d087c"/><rect x="128" y="197" fill="#2d087c"/><rect x="130" y="197" fill="#2d087c"/><rect x="132" y="197" fill="#2d087c"/><rect x="134" y="197" fill="#2d087c"/><rect x="6" y="199" fill="#2b087e"/><rect x="8" y="199" fill="#2b087e"/><rect x="10" y="199" fill="#2b087e"/><rect x="12" y="199" fill="#2b087f"/><rect x="14" y="199" fill="#2b087f"/><rect x="16" y="199" fill="#2b087f"/><rect x="18" y="199" fill="#2b087f"/><rect x="20" y="199" fill="#2b087f"/><rect x="22" y="199" fill="#2b087f"/><rect x="24" y="199" fill="#2b087f"/><rect x="26" y="199" fill="#2b087f"/><rect x="28" y="199" fill="#2b087f"/><rect x="30" y="199" fill="#2b087f"/><rect x="32" y="199" fill="#2b087f"/><rect x="34" y="199" fill="#2b087f"/><rect x="36" y="199" fill="#2b087f"/><rect x="38" y="199" fill="#2b087f"/><rect x="40" y="199" fill="#2b087f"/><rect x="42" y="199" fill="#2b087f"/><rect x="44" y="199" fill="#2b087f"/><rect x="46" y="199" fill="#2b087f"/><rect x="48" y="199" fill="#2b087f"/><rect x="50" y="199" fill="#2b087f"/><rect x="52" y="199" fill="#2b087f"/><rect x="54" y="199" fill="#2b087f"/><rect x="56" y="199" fill="#2b087f"/><rect x="58" y="199" fill="#2b087f"/><rect x="60" y="199" fill="#2b087f"/><rect x="62" y="199" fill="#2b087f"/><rect x="64" y="199" fill="#2b087e"/><rect x="66" y="199" fill="#2b087e"/><rect x="68" y="199" fill="#2b087e"/><rect x="70" y="199" fill="#2b087e"/><rect x="72" y="199" fill="#2c087e"/><rect x="74" y="199" fill="#2c087e"/><rect x="76" y="199" fill="#2c087e"/><rect x="78" y="199" fill="#2c087e"/><rect x="80" y="199" fill="#2c087e"/><rect x="82" y="199" fill="#2c087e"/><rect x="84" y="199" fill="#2c087e"/><rect x="86" y="199" fill="#2c087e"/><rect x="88" y="199" fill="#2c087e"/><rect x="90" y="199" fill="#2c087d"/><rect x="92" y="199" fill="#2c087d"/><rect x="94" y="199" fill="#2c087d"/><rect x="96" y="199" fill="#2c087d"/><rect x="98" y="199" fill="#2c087d"/><rect x="100" y="199" fill="#2c087d"/><rect x="102" y="199" fill="#2c087d"/><rect x="104" y="199" fill="#2d087d"/><rect x="106" y="199" fill="#2d087d"/><rect x="108" y="199" fill="#2d087d"/><rect x="110" y="199" fill="#2d087d"/><rect x="112" y="199" fill="#2d087c"/><rect x="114" y="199" fill="#2d087c"/><rect x="116" y="199" fill="#2d087c"/><rect x="118" y="199" fill="#2d087c"/><rect x="120" y="199" fill="#2d087c"/><rect x="122" y="199" fill="#2d087c"/><rect x="124" y="199" fill="#2d087c"/><rect x="126" y="199" fill="#2d087c"/><rect x="128" y="199" fill="#2d087c"/><rect x="130" y="199" fill="#2d087c"/><rect x="132" y="199" fill="#2d087c"/><rect x="134" y="199" fill="#2d087c"/><rect x="6" y="201" fill="#2c087e"/><rect x="8" y="201" fill="#2c087e"/><rect x="10" y="201" fill="#2c087e"/><rect x="12" y="201" fill="#2c087e"/><rect x="14" y="201" fill="#2c087e"/><rect x="16" y="201" fill="#2c087e"/><rect x="18" y="201" fill="#2c087e"/><rect x="20" y="201" fill="#2c087e"/><rect x="22" y="201" fill="#2c087e"/><rect x="24" y="201" fill="#2c087e"/><rect x="26" y="201" fill="#2b087e"/><rect x="28" y="201" fill="#2b087e"/><rect x="30" y="201" fill="#2b087e"/><rect x="32" y="201" fill="#2b087e"/><rect x="34" y="201" fill="#2b087e"/><rect x="36" y="201" fill="#2b087e"/><rect x="38" y="201" fill="#2c087e"/><rect x="40" y="201" fill="#2c087e"/><rect x="42" y="201" fill="#2c087e"/><rect x="44" y="201" fill="#2c087e"/><rect x="46" y="201" fill="#2c087e"/><rect x="48" y="201" fill="#2c087e"/><rect x="50" y="201" fill="#2c087e"/><rect x="52" y="201" fill="#2c087e"/><rect x="54" y="201" fill="#2c087e"/><rect x="56" y="201" fill="#2c087e"/><rect x="58" y="201" fill="#2c087e"/><rect x="60" y="201" fill="#2c087e"/><rect x="62" y="201" fill="#2c087e"/><rect x="64" y="201" fill="#2c087e"/><rect x="66" y="201" fill="#2c087e"/><rect x="68" y="201" fill="#2c087e"/><rect x="70" y="201" fill="#2c087e"/><rect x="72" y="201" fill="#2c087e"/><rect x="74" y="201" fill="#2c087e"/><rect x="76" y="201" fill="#2c087e"/><rect x="78" y="201" fill="#2c087e"/><rect x="80" y="201" fill="#2c087d"/><rect x="82" y="201" fill="#2c087d"/><rect x="84" y="201" fill="#2c087d"/><rect x="86" y="201" fill="#2c087d"/><rect x="88" y="201" fill="#2c087d"/><rect x="90" y="201" fill="#2c087d"/><rect x="92" y="201" fill="#2c087d"/><rect x="94" y="201" fill="#2c087d"/><rect x="96" y="201" fill="#2c087d"/><rect x="98" y="201" fill="#2d087d"/><rect x="100" y="201" fill="#2d087d"/><rect x="102" y="201" fill="#2d087d"/><rect x="104" y="201" fill="#2d087d"/><rect x="106" y="201" fill="#2d087d"/><rect x="108" y="201" fill="#2d087c"/><rect x="110" y="201" fill="#2d087c"/><rect x="112" y="201" fill="#2d087c"/><rect x="114" y="201" fill="#2d087c"/><rect x="116" y="201" fill="#2d087c"/><rect x="118" y="201" fill="#2d087c"/><rect x="120" y="201" fill="#2d087c"/><rect x="122" y="201" fill="#2d087c"/><rect x="124" y="201" fill="#2d087c"/><rect x="126" y="201" fill="#2d087c"/><rect x="128" y="201" fill="#2d087c"/><rect x="130" y="201" fill="#2d087c"/><rect x="132" y="201" fill="#2d087c"/><rect x="134" y="201" fill="#2d087c"/><rect x="6" y="203" fill="#2c087d"/><rect x="8" y="203" fill="#2c087d"/><rect x="10" y="203" fill="#2c087e"/><rect x="12" y="203" fill="#2c087e"/><rect x="14" y="203" fill="#2c087e"/><rect x="16" y="203" fill="#2c087e"/><rect x="18" y="203" fill="#2c087e"/><rect x="20" y="203" fill="#2c087e"/><rect x="22" y="203" fill="#2c087e"/><rect x="24" y="203" fill="#2c087e"/><rect x="26" y="203" fill="#2c087e"/><rect x="28" y="203" fill="#2c087e"/><rect x="30" y="203" fill="#2c087e"/><rect x="32" y="203" fill="#2c087e"/><rect x="34" y="203" fill="#2c087e"/><rect x="36" y="203" fill="#2c087e"/><rect x="38" y="203" fill="#2c087e"/><rect x="40" y="203" fill="#2c087e"/><rect x="42" y="203" fill="#2c087e"/><rect x="44" y="203" fill="#2c087e"/><rect x="46" y="203" fill="#2c087e"/><rect x="48" y="203" fill="#2c087e"/><rect x="50" y="203" fill="#2c087e"/><rect x="52" y="203" fill="#2c087e"/><rect x="54" y="203" fill="#2c087e"/><rect x="56" y="203" fill="#2c087e"/><rect x="58" y="203" fill="#2c087e"/><rect x="60" y="203" fill="#2c087e"/><rect x="62" y="203" fill="#2c087e"/><rect x="64" y="203" fill="#2c087e"/><rect x="66" y="203" fill="#2c087d"/><rect x="68" y="203" fill="#2c087d"/><rect x="70" y="203" fill="#2c087d"/><rect x="72" y="203" fill="#2c087d"/><rect x="74" y="203" fill="#2c087d"/><rect x="76" y="203" fill="#2c087d"/><rect x="78" y="203" fill="#2c087d"/><rect x="80" y="203" fill="#2c087d"/><rect x="82" y="203" fill="#2c087d"/><rect x="84" y="203" fill="#2c087d"/><rect x="86" y="203" fill="#2c087d"/><rect x="88" y="203" fill="#2c087d"/><rect x="90" y="203" fill="#2d087d"/><rect x="92" y="203" fill="#2d087d"/><rect x="94" y="203" fill="#2d087d"/><rect x="96" y="203" fill="#2d087d"/><rect x="98" y="203" fill="#2d087d"/><rect x="100" y="203" fill="#2d087d"/><rect x="102" y="203" fill="#2d087c"/><rect x="104" y="203" fill="#2d087c"/><rect x="106" y="203" fill="#2d087c"/><rect x="108" y="203" fill="#2d087c"/><rect x="110" y="203" fill="#2d087c"/><rect x="112" y="203" fill="#2d087c"/><rect x="114" y="203" fill="#2d087c"/><rect x="116" y="203" fill="#2d087c"/><rect x="118" y="203" fill="#2d087c"/><rect x="120" y="203" fill="#2d087c"/><rect x="122" y="203" fill="#2d087c"/><rect x="124" y="203" fill="#2d087c"/><rect x="126" y="203" fill="#2d087c"/><rect x="128" y="203" fill="#2d087c"/><rect x="130" y="203" fill="#2d087c"/><rect x="132" y="203" fill="#2d087c"/><rect x="134" y="203" fill="#2d087c"/><rect x="6" y="205" fill="#2c087d"/><rect x="8" y="205" fill="#2c087d"/><rect x="10" y="205" fill="#2c087d"/><rect x="12" y="205" fill="#2c087d"/><rect x="14" y="205" fill="#2c087d"/><rect x="16" y="205" fill="#2c087d"/><rect x="18" y="205" fill="#2c087d"/><rect x="20" y="205" fill="#2c087d"/><rect x="22" y="205" fill="#2c087d"/><rect x="24" y="205" fill="#2c087d"/><rect x="26" y="205" fill="#2c087d"/><rect x="28" y="205" fill="#2c087d"/><rect x="30" y="205" fill="#2c087d"/><rect x="32" y="205" fill="#2c087d"/><rect x="34" y="205" fill="#2c087d"/><rect x="36" y="205" fill="#2c087d"/><rect x="38" y="205" fill="#2c087d"/><rect x="40" y="205" fill="#2c087d"/><rect x="42" y="205" fill="#2c087d"/><rect x="44" y="205" fill="#2c087d"/><rect x="46" y="205" fill="#2c087d"/><rect x="48" y="205" fill="#2c087d"/><rect x="50" y="205" fill="#2c087d"/><rect x="52" y="205" fill="#2c087d"/><rect x="54" y="205" fill="#2c087d"/><rect x="56" y="205" fill="#2c087d"/><rect x="58" y="205" fill="#2c087d"/><rect x="60" y="205" fill="#2c087d"/><rect x="62" y="205" fill="#2c087d"/><rect x="64" y="205" fill="#2c087d"/><rect x="66" y="205" fill="#2c087d"/><rect x="68" y="205" fill="#2c087d"/><rect x="70" y="205" fill="#2c087d"/><rect x="72" y="205" fill="#2c087d"/><rect x="74" y="205" fill="#2c087d"/><rect x="76" y="205" fill="#2c087d"/><rect x="78" y="205" fill="#2c087d"/><rect x="80" y="205" fill="#2d087d"/><rect x="82" y="205" fill="#2d087d"/><rect x="84" y="205" fill="#2d087d"/><rect x="86" y="205" fill="#2d087d"/><rect x="88" y="205" fill="#2d087d"/><rect x="90" y="205" fill="#2d087d"/><rect x="92" y="205" fill="#2d087d"/><rect x="94" y="205" fill="#2d087d"/><rect x="96" y="205" fill="#2d087c"/><rect x="98" y="205" fill="#2d087c"/><rect x="100" y="205" fill="#2d087c"/><rect x="102" y="205" fill="#2d087c"/><rect x="104" y="205" fill="#2d087c"/><rect x="106" y="205" fill="#2d087c"/><rect x="108" y="205" fill="#2d087c"/><rect x="110" y="205" fill="#2d087c"/><rect x="112" y="205" fill="#2d087c"/><rect x="114" y="205" fill="#2d087c"/><rect x="116" y="205" fill="#2d087c"/><rect x="118" y="205" fill="#2d087c"/><rect x="120" y="205" fill="#2d087c"/><rect x="122" y="205" fill="#2d087c"/><rect x="124" y="205" fill="#2d087c"/><rect x="126" y="205" fill="#2d087c"/><rect x="128" y="205" fill="#2d087c"/><rect x="130" y="205" fill="#2d087c"/><rect x="132" y="205" fill="#2d087c"/><rect x="134" y="205" fill="#2d087c"/><rect x="6" y="207" fill="#2d087d"/><rect x="8" y="207" fill="#2d087d"/><rect x="10" y="207" fill="#2c087d"/><rect x="12" y="207" fill="#2c087d"/><rect x="14" y="207" fill="#2c087d"/><rect x="16" y="207" fill="#2c087d"/><rect x="18" y="207" fill="#2c087d"/><rect x="20" y="207" fill="#2c087d"/><rect x="22" y="207" fill="#2c087d"/><rect x="24" y="207" fill="#2c087d"/><rect x="26" y="207" fill="#2c087d"/><rect x="28" y="207" fill="#2c087d"/><rect x="30" y="207" fill="#2c087d"/><rect x="32" y="207" fill="#2c087d"/><rect x="34" y="207" fill="#2c087d"/><rect x="36" y="207" fill="#2c087d"/><rect x="38" y="207" fill="#2c087d"/><rect x="40" y="207" fill="#2c087d"/><rect x="42" y="207" fill="#2c087d"/><rect x="44" y="207" fill="#2c087d"/><rect x="46" y="207" fill="#2c087d"/><rect x="48" y="207" fill="#2c087d"/><rect x="50" y="207" fill="#2c087d"/><rect x="52" y="207" fill="#2c087d"/><rect x="54" y="207" fill="#2c087d"/><rect x="56" y="207" fill="#2c087d"/><rect x="58" y="207" fill="#2c087d"/><rect x="60" y="207" fill="#2c087d"/><rect x="62" y="207" fill="#2c087d"/><rect x="64" y="207" fill="#2d087d"/><rect x="66" y="207" fill="#2d087d"/><rect x="68" y="207" fill="#2d087d"/><rect x="70" y="207" fill="#2d087d"/><rect x="72" y="207" fill="#2d087d"/><rect x="74" y="207" fill="#2d087d"/><rect x="76" y="207" fill="#2d087d"/><rect x="78" y="207" fill="#2d087d"/><rect x="80" y="207" fill="#2d087d"/><rect x="82" y="207" fill="#2d087d"/><rect x="84" y="207" fill="#2d087d"/><rect x="86" y="207" fill="#2d087c"/><rect x="88" y="207" fill="#2d087c"/><rect x="90" y="207" fill="#2d087c"/><rect x="92" y="207" fill="#2d087c"/><rect x="94" y="207" fill="#2d087c"/><rect x="96" y="207" fill="#2d087c"/><rect x="98" y="207" fill="#2d087c"/><rect x="100" y="207" fill="#2d087c"/><rect x="102" y="207" fill="#2d087c"/><rect x="104" y="207" fill="#2d087c"/><rect x="106" y="207" fill="#2d087c"/><rect x="108" y="207" fill="#2d087c"/><rect x="110" y="207" fill="#2d087c"/><rect x="112" y="207" fill="#2d087c"/><rect x="114" y="207" fill="#2d087c"/><rect x="116" y="207" fill="#2d087c"/><rect x="118" y="207" fill="#2d087c"/><rect x="120" y="207" fill="#2d087c"/><rect x="122" y="207" fill="#2d087c"/><rect x="124" y="207" fill="#2d087c"/><rect x="126" y="207" fill="#2d087c"/><rect x="128" y="207" fill="#2d087c"/><rect x="130" y="207" fill="#2d087c"/><rect x="132" y="207" fill="#2d087c"/><rect x="134" y="207" fill="#2d087c"/><rect x="6" y="209" fill="#2d087d"/><rect x="8" y="209" fill="#2d087d"/><rect x="10" y="209" fill="#2d087d"/><rect x="12" y="209" fill="#2d087d"/><rect x="14" y="209" fill="#2d087d"/><rect x="16" y="209" fill="#2d087d"/><rect x="18" y="209" fill="#2d087d"/><rect x="20" y="209" fill="#2d087d"/><rect x="22" y="209" fill="#2d087d"/><rect x="24" y="209" fill="#2d087d"/><rect x="26" y="209" fill="#2d087d"/><rect x="28" y="209" fill="#2d087d"/><rect x="30" y="209" fill="#2d087d"/><rect x="32" y="209" fill="#2d087d"/><rect x="34" y="209" fill="#2d087d"/><rect x="36" y="209" fill="#2d087d"/><rect x="38" y="209" fill="#2d087d"/><rect x="40" y="209" fill="#2d087d"/><rect x="42" y="209" fill="#2d087d"/><rect x="44" y="209" fill="#2d087d"/><rect x="46" y="209" fill="#2d087d"/><rect x="48" y="209" fill="#2d087d"/><rect x="50" y="209" fill="#2d087d"/><rect x="52" y="209" fill="#2d087d"/><rect x="54" y="209" fill="#2d087d"/><rect x="56" y="209" fill="#2d087d"/><rect x="58" y="209" fill="#2d087d"/><rect x="60" y="209" fill="#2d087d"/><rect x="62" y="209" fill="#2d087d"/><rect x="64" y="209" fill="#2d087d"/><rect x="66" y="209" fill="#2d087d"/><rect x="68" y="209" fill="#2d087d"/><rect x="70" y="209" fill="#2d087d"/><rect x="72" y="209" fill="#2d087d"/><rect x="74" y="209" fill="#2d087c"/><rect x="76" y="209" fill="#2d087c"/><rect x="78" y="209" fill="#2d087c"/><rect x="80" y="209" fill="#2d087c"/><rect x="82" y="209" fill="#2d087c"/><rect x="84" y="209" fill="#2d087c"/><rect x="86" y="209" fill="#2d087c"/><rect x="88" y="209" fill="#2d087c"/><rect x="90" y="209" fill="#2d087c"/><rect x="92" y="209" fill="#2d087c"/><rect x="94" y="209" fill="#2d087c"/><rect x="96" y="209" fill="#2d087c"/><rect x="98" y="209" fill="#2d087c"/><rect x="100" y="209" fill="#2d087c"/><rect x="102" y="209" fill="#2d087c"/><rect x="104" y="209" fill="#2d087c"/><rect x="106" y="209" fill="#2d087c"/><rect x="108" y="209" fill="#2d087c"/><rect x="110" y="209" fill="#2d087c"/><rect x="112" y="209" fill="#2d087c"/><rect x="114" y="209" fill="#2d087c"/><rect x="116" y="209" fill="#2d087c"/><rect x="118" y="209" fill="#2d087c"/><rect x="120" y="209" fill="#2d087c"/><rect x="122" y="209" fill="#2d087c"/><rect x="124" y="209" fill="#2d087c"/><rect x="126" y="209" fill="#2d087c"/><rect x="128" y="209" fill="#2d087c"/><rect x="130" y="209" fill="#2d087c"/><rect x="132" y="209" fill="#2d087c"/><rect x="134" y="209" fill="#2d087c"/><rect x="6" y="211" fill="#2d087c"/><rect x="8" y="211" fill="#2d087c"/><rect x="10" y="211" fill="#2d087c"/><rect x="12" y="211" fill="#2d087c"/><rect x="14" y="211" fill="#2d087c"/><rect x="16" y="211" fill="#2d087c"/><rect x="18" y="211" fill="#2d087c"/><rect x="20" y="211" fill="#2d087c"/><rect x="22" y="211" fill="#2d087d"/><rect x="24" y="211" fill="#2d087d"/><rect x="26" y="211" fill="#2d087d"/><rect x="28" y="211" fill="#2d087d"/><rect x="30" y="211" fill="#2d087d"/><rect x="32" y="211" fill="#2d087d"/><rect x="34" y="211" fill="#2d087d"/><rect x="36" y="211" fill="#2d087d"/><rect x="38" y="211" fill="#2d087d"/><rect x="40" y="211" fill="#2d087c"/><rect x="42" y="211" fill="#2d087c"/><rect x="44" y="211" fill="#2d087c"/><rect x="46" y="211" fill="#2d087c"/><rect x="48" y="211" fill="#2d087c"/><rect x="50" y="211" fill="#2d087c"/><rect x="52" y="211" fill="#2d087c"/><rect x="54" y="211" fill="#2d087c"/><rect x="56" y="211" fill="#2d087c"/><rect x="58" y="211" fill="#2d087c"/><rect x="60" y="211" fill="#2d087c"/><rect x="62" y="211" fill="#2d087c"/><rect x="64" y="211" fill="#2d087c"/><rect x="66" y="211" fill="#2d087c"/><rect x="68" y="211" fill="#2d087c"/><rect x="70" y="211" fill="#2d087c"/><rect x="72" y="211" fill="#2d087c"/><rect x="74" y="211" fill="#2d087c"/><rect x="76" y="211" fill="#2d087c"/><rect x="78" y="211" fill="#2d087c"/><rect x="80" y="211" fill="#2d087c"/><rect x="82" y="211" fill="#2d087c"/><rect x="84" y="211" fill="#2d087c"/><rect x="86" y="211" fill="#2d087c"/><rect x="88" y="211" fill="#2d087c"/><rect x="90" y="211" fill="#2d087c"/><rect x="92" y="211" fill="#2d087c"/><rect x="94" y="211" fill="#2d087c"/><rect x="96" y="211" fill="#2d087c"/><rect x="98" y="211" fill="#2d087c"/><rect x="100" y="211" fill="#2d087c"/><rect x="102" y="211" fill="#2d087c"/><rect x="104" y="211" fill="#2d087c"/><rect x="106" y="211" fill="#2d087c"/><rect x="108" y="211" fill="#2d087c"/><rect x="110" y="211" fill="#2d087c"/><rect x="112" y="211" fill="#2d087c"/><rect x="114" y="211" fill="#2d087c"/><rect x="116" y="211" fill="#2d087c"/><rect x="118" y="211" fill="#2d087c"/><rect x="120" y="211" fill="#2d087c"/><rect x="122" y="211" fill="#2d087c"/><rect x="124" y="211" fill="#2d087c"/><rect x="126" y="211" fill="#2d087c"/><rect x="128" y="211" fill="#2d087c"/><rect x="130" y="211" fill="#2d087c"/><rect x="132" y="211" fill="#2d087c"/><rect x="134" y="211" fill="#2d087c"/><rect x="6" y="213" fill="#2d087c"/><rect x="8" y="213" fill="#2d087c"/><rect x="10" y="213" fill="#2d087c"/><rect x="12" y="213" fill="#2d087c"/><rect x="14" y="213" fill="#2d087c"/><rect x="16" y="213" fill="#2d087c"/><rect x="18" y="213" fill="#2d087c"/><rect x="20" y="213" fill="#2d087c"/><rect x="22" y="213" fill="#2d087c"/><rect x="24" y="213" fill="#2d087c"/><rect x="26" y="213" fill="#2d087c"/><rect x="28" y="213" fill="#2d087c"/><rect x="30" y="213" fill="#2d087c"/><rect x="32" y="213" fill="#2d087c"/><rect x="34" y="213" fill="#2d087c"/><rect x="36" y="213" fill="#2d087c"/><rect x="38" y="213" fill="#2d087c"/><rect x="40" y="213" fill="#2d087c"/><rect x="42" y="213" fill="#2d087c"/><rect x="44" y="213" fill="#2d087c"/><rect x="46" y="213" fill="#2d087c"/><rect x="48" y="213" fill="#2d087c"/><rect x="50" y="213" fill="#2d087c"/><rect x="52" y="213" fill="#2d087c"/><rect x="54" y="213" fill="#2d087c"/><rect x="56" y="213" fill="#2d087c"/><rect x="58" y="213" fill="#2d087c"/><rect x="60" y="213" fill="#2d087c"/><rect x="62" y="213" fill="#2d087c"/><rect x="64" y="213" fill="#2d087c"/><rect x="66" y="213" fill="#2d087c"/><rect x="68" y="213" fill="#2d087c"/><rect x="70" y="213" fill="#2d087c"/><rect x="72" y="213" fill="#2d087c"/><rect x="74" y="213" fill="#2d087c"/><rect x="76" y="213" fill="#2d087c"/><rect x="78" y="213" fill="#2d087c"/><rect x="80" y="213" fill="#2d087c"/><rect x="82" y="213" fill="#2d087c"/><rect x="84" y="213" fill="#2d087c"/><rect x="86" y="213" fill="#2d087c"/><rect x="88" y="213" fill="#2d087c"/><rect x="90" y="213" fill="#2d087c"/><rect x="92" y="213" fill="#2d087c"/><rect x="94" y="213" fill="#2d087c"/><rect x="96" y="213" fill="#2d087c"/><rect x="98" y="213" fill="#2d087c"/><rect x="100" y="213" fill="#2d087c"/><rect x="102" y="213" fill="#2d087c"/><rect x="104" y="213" fill="#2d087c"/><rect x="106" y="213" fill="#2d087c"/><rect x="108" y="213" fill="#2d087c"/><rect x="110" y="213" fill="#2d087c"/><rect x="112" y="213" fill="#2d087c"/><rect x="114" y="213" fill="#2d087c"/><rect x="116" y="213" fill="#2d087c"/><rect x="118" y="213" fill="#2d087c"/><rect x="120" y="213" fill="#2d087c"/><rect x="122" y="213" fill="#2d087c"/><rect x="124" y="213" fill="#2d087c"/><rect x="126" y="213" fill="#2d087c"/><rect x="128" y="213" fill="#2d087c"/><rect x="130" y="213" fill="#2d087c"/><rect x="132" y="213" fill="#2d087c"/><rect x="134" y="213" fill="#2d087c"/><rect x="6" y="215" fill="#2d087c"/><rect x="8" y="215" fill="#2d087c"/><rect x="10" y="215" fill="#2d087c"/><rect x="12" y="215" fill="#2d087c"/><rect x="14" y="215" fill="#2d087c"/><rect x="16" y="215" fill="#2d087c"/><rect x="18" y="215" fill="#2d087c"/><rect x="20" y="215" fill="#2d087c"/><rect x="22" y="215" fill="#2d087c"/><rect x="24" y="215" fill="#2d087c"/><rect x="26" y="215" fill="#2d087c"/><rect x="28" y="215" fill="#2d087c"/><rect x="30" y="215" fill="#2d087c"/><rect x="32" y="215" fill="#2d087c"/><rect x="34" y="215" fill="#2d087c"/><rect x="36" y="215" fill="#2d087c"/><rect x="38" y="215" fill="#2d087c"/><rect x="40" y="215" fill="#2d087c"/><rect x="42" y="215" fill="#2d087c"/><rect x="44" y="215" fill="#2d087c"/><rect x="46" y="215" fill="#2d087c"/><rect x="48" y="215" fill="#2d087c"/><rect x="50" y="215" fill="#2d087c"/><rect x="52" y="215" fill="#2d087c"/><rect x="54" y="215" fill="#2d087c"/><rect x="56" y="215" fill="#2d087c"/><rect x="58" y="215" fill="#2d087c"/><rect x="60" y="215" fill="#2d087c"/><rect x="62" y="215" fill="#2d087c"/><rect x="64" y="215" fill="#2d087c"/><rect x="66" y="215" fill="#2d087c"/><rect x="68" y="215" fill="#2d087c"/><rect x="70" y="215" fill="#2d087c"/><rect x="72" y="215" fill="#2d087c"/><rect x="74" y="215" fill="#2d087c"/><rect x="76" y="215" fill="#2d087c"/><rect x="78" y="215" fill="#2d087c"/><rect x="80" y="215" fill="#2d087c"/><rect x="82" y="215" fill="#2d087c"/><rect x="84" y="215" fill="#2d087c"/><rect x="86" y="215" fill="#2d087c"/><rect x="88" y="215" fill="#2d087c"/><rect x="90" y="215" fill="#2d087c"/><rect x="92" y="215" fill="#2d087c"/><rect x="94" y="215" fill="#2d087c"/><rect x="96" y="215" fill="#2d087c"/><rect x="98" y="215" fill="#2d087c"/><rect x="100" y="215" fill="#2d087c"/><rect x="102" y="215" fill="#2d087c"/><rect x="104" y="215" fill="#2d087c"/><rect x="106" y="215" fill="#2d087c"/><rect x="108" y="215" fill="#2d087c"/><rect x="110" y="215" fill="#2d087c"/><rect x="112" y="215" fill="#2d087c"/><rect x="114" y="215" fill="#2d087c"/><rect x="116" y="215" fill="#2d087c"/><rect x="118" y="215" fill="#2d087c"/><rect x="120" y="215" fill="#2d087c"/><rect x="122" y="215" fill="#2d087c"/><rect x="124" y="215" fill="#2d087c"/><rect x="126" y="215" fill="#2d087c"/><rect x="128" y="215" fill="#2d087c"/><rect x="130" y="215" fill="#2d087c"/><rect x="132" y="215" fill="#2d087c"/><rect x="134" y="215" fill="#2d087c"/></g>
<path d="M11.50,182.00 C11.68,181.48 11.98,180.72 12.60,178.90 C13.22,177.08 14.33,173.48 15.20,171.10 C16.07,168.72 16.83,166.77 17.80,164.60 C18.77,162.43 19.93,159.93 21.00,158.10 C22.07,156.27 22.80,155.10 24.20,153.60 C25.60,152.10 27.45,150.40 29.40,149.10 C31.35,147.80 33.63,146.57 35.90,145.80 C38.17,145.03 40.62,144.50 43.00,144.50 C45.38,144.50 48.17,145.15 50.20,145.80 C52.23,146.45 53.72,147.32 55.20,148.40 C56.68,149.48 57.92,150.90 59.10,152.30 C60.28,153.70 61.33,155.07 62.30,156.80 C63.27,158.53 64.03,160.87 64.90,162.70 C65.77,164.53 66.53,165.87 67.50,167.80 C68.47,169.73 69.42,171.77 70.70,174.30 C71.98,176.83 73.80,179.82 75.20,183.00 C76.60,186.18 77.80,190.27 79.10,193.40 C80.40,196.53 81.48,199.32 83.00,201.80 C84.52,204.28 86.03,206.68 88.20,208.30 C90.37,209.92 93.42,210.92 96.00,211.50 C98.58,212.08 101.12,212.12 103.70,211.80 C106.28,211.48 109.12,210.73 111.50,209.60 C113.88,208.47 116.05,207.07 118.00,205.00 C119.95,202.93 121.68,199.78 123.20,197.20 C124.72,194.62 126.02,191.98 127.10,189.50 C128.18,187.02 129.12,183.97 129.70,182.30 C130.28,180.63 130.45,179.97 130.60,179.50 L130.5,212 L11.7,212 Z" fill="#d9d9d9"/>
<path d="M11.50,182.00 C11.68,181.48 11.98,180.72 12.60,178.90 C13.22,177.08 14.33,173.48 15.20,171.10 C16.07,168.72 16.83,166.77 17.80,164.60 C18.77,162.43 19.93,159.93 21.00,158.10 C22.07,156.27 22.80,155.10 24.20,153.60 C25.60,152.10 27.45,150.40 29.40,149.10 C31.35,147.80 33.63,146.57 35.90,145.80 C38.17,145.03 40.62,144.50 43.00,144.50 C45.38,144.50 48.17,145.15 50.20,145.80 C52.23,146.45 53.72,147.32 55.20,148.40 C56.68,149.48 57.92,150.90 59.10,152.30 C60.28,153.70 61.33,155.07 62.30,156.80 C63.27,158.53 64.03,160.87 64.90,162.70 C65.77,164.53 66.53,165.87 67.50,167.80 C68.47,169.73 69.42,171.77 70.70,174.30 C71.98,176.83 73.80,179.82 75.20,183.00 C76.60,186.18 77.80,190.27 79.10,193.40 C80.40,196.53 81.48,199.32 83.00,201.80 C84.52,204.28 86.03,206.68 88.20,208.30 C90.37,209.92 93.42,210.92 96.00,211.50 C98.58,212.08 101.12,212.12 103.70,211.80 C106.28,211.48 109.12,210.73 111.50,209.60 C113.88,208.47 116.05,207.07 118.00,205.00 C119.95,202.93 121.68,199.78 123.20,197.20 C124.72,194.62 126.02,191.98 127.10,189.50 C128.18,187.02 129.12,183.97 129.70,182.30 C130.28,180.63 130.45,179.97 130.60,179.50" fill="none" stroke="#2a1080" stroke-width="1.9"/>
<path d="M11.50,182.00 C11.68,181.48 11.98,180.72 12.60,178.90 C13.22,177.08 14.33,173.48 15.20,171.10 C16.07,168.72 16.83,166.77 17.80,164.60 C18.77,162.43 19.93,159.93 21.00,158.10 C22.07,156.27 22.80,155.10 24.20,153.60 C25.60,152.10 27.45,150.40 29.40,149.10 C31.35,147.80 33.63,146.57 35.90,145.80 C38.17,145.03 40.62,144.50 43.00,144.50 C45.38,144.50 48.17,145.15 50.20,145.80 C52.23,146.45 53.72,147.32 55.20,148.40 C56.68,149.48 57.92,150.90 59.10,152.30 C60.28,153.70 61.33,155.07 62.30,156.80 C63.27,158.53 64.03,160.87 64.90,162.70 C65.77,164.53 66.53,165.87 67.50,167.80 C68.47,169.73 69.42,171.77 70.70,174.30 C71.98,176.83 73.80,179.82 75.20,183.00 C76.60,186.18 77.80,190.27 79.10,193.40 C80.40,196.53 81.48,199.32 83.00,201.80 C84.52,204.28 86.03,206.68 88.20,208.30 C90.37,209.92 93.42,210.92 96.00,211.50 C98.58,212.08 101.12,212.12 103.70,211.80 C106.28,211.48 109.12,210.73 111.50,209.60 C113.88,208.47 116.05,207.07 118.00,205.00 C119.95,202.93 121.68,199.78 123.20,197.20 C124.72,194.62 126.02,191.98 127.10,189.50 C128.18,187.02 129.12,183.97 129.70,182.30 C130.28,180.63 130.45,179.97 130.60,179.50" fill="none" stroke="#fff" stroke-width="1.9" stroke-dasharray="1.15,1.15"/>
</g>
<line x1="11.7" y1="212" x2="130.5" y2="212" stroke="#9a98b8" stroke-width="0.8"/>
<g stroke="#fff" stroke-width="1.3" stroke-linecap="round"><line x1="22.3" y1="124.1" x2="36" y2="120.7"/><line x1="24.7" y1="129.6" x2="36.7" y2="126"/><line x1="27.3" y1="134.7" x2="37.4" y2="131.4"/><line x1="29.9" y1="139.7" x2="36" y2="138.3"/><line x1="31.6" y1="145.2" x2="34.5" y2="144"/><line x1="64.8" y1="123.6" x2="77.5" y2="130.8"/><line x1="62.6" y1="129.3" x2="74.1" y2="135.4"/><line x1="61.2" y1="134.7" x2="69.8" y2="139.4"/><line x1="59" y1="140.4" x2="64.8" y2="143.3"/><line x1="56.8" y1="145.2" x2="60.5" y2="146.6"/></g>
<text x="101.9" y="120.6" font-size="8.4" fill="#fff" style="stroke:none" textLength="17.2" lengthAdjust="spacingAndGlyphs">Flow</text>
<path d="M97,123.4 L123,123.4" stroke="#fff" stroke-width="1.8"/><path d="M122,120.8 L128.3,123.4 L122,126 Z" fill="#fff"/>
<rect x="135.5" y="128.9" width="8.4" height="66.3" fill="url(#shearv)" stroke="#bbb" stroke-width="0.3"/>
<g font-size="9.3"><text x="145.8" y="139">30</text><text x="145.8" y="167">15</text><text x="145.8" y="195.5">0</text></g>
<text x="0" y="0" font-size="8.6" text-anchor="start" transform="translate(162.2,119.8) rotate(90)" textLength="96.2" lengthAdjust="spacingAndGlyphs">Radial shear rate, <tspan font-style="italic">S</tspan><tspan font-size="6" dy="2">R</tspan><tspan dy="-2"> (s</tspan><tspan font-size="6" dy="-3">−1</tspan><tspan dy="3">)</tspan></text>
<g clip-path="url(#eclip)">
<path d="M11.50,287.20 C12.48,285.23 15.23,279.53 17.40,275.40 C19.57,271.27 22.13,265.93 24.50,262.40 C26.87,258.87 29.23,256.12 31.60,254.20 C33.97,252.28 35.93,251.50 38.70,250.90 C41.47,250.30 45.45,250.25 48.20,250.60 C50.95,250.95 52.85,251.42 55.20,253.00 C57.55,254.58 60.13,256.95 62.30,260.10 C64.47,263.25 66.23,267.57 68.20,271.90 C70.17,276.23 71.93,280.98 74.10,286.10 C76.27,291.22 79.03,298.47 81.20,302.60 C83.37,306.73 84.73,308.65 87.10,310.90 C89.47,313.15 92.45,315.12 95.40,316.10 C98.35,317.08 101.85,316.97 104.80,316.80 C107.75,316.63 110.33,316.48 113.10,315.10 C115.87,313.72 119.03,311.57 121.40,308.50 C123.77,305.43 125.73,300.25 127.30,296.70 C128.87,293.15 130.22,288.78 130.80,287.20 L130.8,318.6 L11.5,318.6 Z" fill="#d9d9d9"/>
<path d="M11.50,287.20 C12.48,285.23 15.23,279.53 17.40,275.40 C19.57,271.27 22.13,265.93 24.50,262.40 C26.87,258.87 29.23,256.12 31.60,254.20 C33.97,252.28 35.93,251.50 38.70,250.90 C41.47,250.30 45.45,250.25 48.20,250.60 C50.95,250.95 52.85,251.42 55.20,253.00 C57.55,254.58 60.13,256.95 62.30,260.10 C64.47,263.25 66.23,267.57 68.20,271.90 C70.17,276.23 71.93,280.98 74.10,286.10 C76.27,291.22 79.03,298.47 81.20,302.60 C83.37,306.73 84.73,308.65 87.10,310.90 C89.47,313.15 92.45,315.12 95.40,316.10 C98.35,317.08 101.85,316.97 104.80,316.80 C107.75,316.63 110.33,316.48 113.10,315.10 C115.87,313.72 119.03,311.57 121.40,308.50 C123.77,305.43 125.73,300.25 127.30,296.70 C128.87,293.15 130.22,288.78 130.80,287.20" fill="none" stroke="#1a1a1a" stroke-width="1.25"/>
<path d="M9.00,245.00 C10.83,244.17 14.83,241.43 20.00,240.00 C25.17,238.57 33.67,236.67 40.00,236.40 C46.33,236.13 52.17,236.80 58.00,238.40 C63.83,240.00 69.33,243.40 75.00,246.00 C80.67,248.60 87.00,251.92 92.00,254.00 C97.00,256.08 100.67,257.17 105.00,258.50 C109.33,259.83 113.67,261.08 118.00,262.00 C122.33,262.92 128.83,263.67 131.00,264.00" fill="none" stroke="#5b9bd8" stroke-width="0.8" stroke-dasharray="1.6,1.4"/>
<path d="M9.00,272.00 C9.67,271.00 11.47,267.60 13.00,266.00 C14.53,264.40 16.53,263.82 18.20,262.40 C19.87,260.98 21.47,258.98 23.00,257.50 C24.53,256.02 26.67,254.17 27.40,253.50" fill="none" stroke="#5b9bd8" stroke-width="0.8" stroke-dasharray="1.6,1.4"/>
<path d="M9.00,254.50 C10.00,254.08 12.38,253.25 15.00,252.00 C17.62,250.75 21.23,248.50 24.70,247.00 C28.17,245.50 32.27,243.77 35.80,243.00 C39.33,242.23 42.22,242.23 45.90,242.40 C49.58,242.57 54.72,243.00 57.90,244.00 C61.08,245.00 62.85,246.87 65.00,248.40 C67.15,249.93 69.07,251.53 70.80,253.20 C72.53,254.87 74.10,256.77 75.40,258.40 C76.70,260.03 77.95,261.60 78.60,263.00 C79.25,264.40 79.48,265.47 79.30,266.80 C79.12,268.13 78.38,269.83 77.50,271.00 C76.62,272.17 75.12,273.20 74.00,273.80 C72.88,274.40 71.33,274.47 70.80,274.60" fill="none" stroke="#f0c030" stroke-width="0.8" stroke-dasharray="1.6,1.4"/>
<circle cx="11.5" cy="244.3" r="2.4" fill="#5a9ada"/>
<circle cx="11.5" cy="269.5" r="2.4" fill="#5a9ada"/>
<circle cx="18.2" cy="262.4" r="2.4" fill="#5a9ada"/>
<circle cx="27.4" cy="253.5" r="2.4" fill="#5a9ada"/>
<circle cx="57.8" cy="238.4" r="2.4" fill="#5a9ada"/>
<circle cx="91.8" cy="253.7" r="2.4" fill="#5a9ada"/>
<circle cx="117.8" cy="262.0" r="2.4" fill="#5a9ada"/>
<g transform="translate(24.7,247.0) rotate(-20)"><ellipse cx="0" cy="0" rx="2.7" ry="1.25" fill="#eab820"/><line x1="-2" y1="0" x2="-6.2" y2="0" stroke="#eab820" stroke-width="0.5"/></g>
<g transform="translate(45.9,242.4) rotate(0)"><ellipse cx="0" cy="0" rx="2.7" ry="1.25" fill="#eab820"/><line x1="-2" y1="0" x2="-6.2" y2="0" stroke="#eab820" stroke-width="0.5"/></g>
<g transform="translate(65.0,248.4) rotate(40)"><ellipse cx="0" cy="0" rx="2.7" ry="1.25" fill="#eab820"/><line x1="-2" y1="0" x2="-6.2" y2="0" stroke="#eab820" stroke-width="0.5"/></g>
<g transform="translate(75.4,258.4) rotate(78)"><ellipse cx="0" cy="0" rx="2.7" ry="1.25" fill="#eab820"/><line x1="-2" y1="0" x2="-6.2" y2="0" stroke="#eab820" stroke-width="0.5"/></g>
<g transform="translate(79.3,266.8) rotate(120)"><ellipse cx="0" cy="0" rx="2.7" ry="1.25" fill="#eab820"/><line x1="-2" y1="0" x2="-6.2" y2="0" stroke="#eab820" stroke-width="0.5"/></g>
<g transform="translate(76.0,273.3) rotate(160)"><ellipse cx="0" cy="0" rx="2.7" ry="1.25" fill="#eab820"/><line x1="-2" y1="0" x2="-6.2" y2="0" stroke="#eab820" stroke-width="0.5"/></g>
</g>
<rect x="11.5" y="216.6" width="119.5" height="102" fill="none" stroke="#8a8a8a" stroke-width="0.9"/>
<text x="102" y="226.6" font-size="8.4" textLength="17.2" lengthAdjust="spacingAndGlyphs">Flow</text>
<path d="M97,229.4 L123,229.4" stroke="#222" stroke-width="2"/><path d="M122,226.7 L128.6,229.4 L122,232.1 Z" fill="#222"/>
<g font-size="9.3" text-anchor="middle"><text x="12" y="330.5">0</text><text x="71" y="330.5">25</text><text x="131" y="330.5">50</text></g>
<text x="71.5" y="345" font-size="9.3" text-anchor="middle"><tspan font-style="italic">x</tspan> (µm)</text>
<text x="133.5" y="246.1" font-size="8.3"><tspan font-style="italic">V</tspan> = 0 µm s<tspan font-size="5.5" dy="-3">−1</tspan></text>
<text x="133.5" y="280" font-size="8.3"><tspan font-style="italic">V</tspan> = 22 µm s<tspan font-size="5.5" dy="-3">−1</tspan></text>
<circle cx="152.8" cy="255.2" r="7" fill="url(#bdot)"/>
<line x1="158" y1="288" x2="168.5" y2="281.8" stroke="#ecbc00" stroke-width="0.8"/>
<ellipse cx="0" cy="0" rx="10" ry="3.6" fill="url(#ybac)" transform="translate(151.2,292.6) rotate(-31)"/>
<path d="M235.50,264.00 L237.16,261.38 L238.81,258.76 L240.47,256.17 L242.13,253.60 L243.79,251.08 L245.44,248.61 L247.10,246.20 L248.76,243.86 L250.42,241.60 L252.07,239.43 L253.73,237.36 L255.39,235.39 L257.05,233.53 L258.70,231.79 L260.36,230.18 L262.02,228.71 L263.68,227.37 L265.33,226.18 L266.99,225.14 L268.65,224.25 L270.31,223.51 L271.97,222.94 L273.62,222.53 L275.28,222.28 L276.94,222.20 L278.60,222.28 L280.25,222.53 L281.91,222.94 L283.57,223.51 L285.23,224.25 L286.88,225.14 L288.54,226.18 L290.20,227.37 L291.86,228.71 L293.51,230.18 L295.17,231.79 L296.83,233.53 L298.49,235.39 L300.14,237.36 L301.80,239.43 L303.46,241.60 L305.12,243.86 L306.77,246.20 L308.43,248.61 L310.09,251.08 L311.75,253.60 L313.40,256.17 L315.06,258.76 L316.72,261.38 L318.38,264.00 L320.03,266.62 L321.69,269.24 L323.35,271.83 L325.00,274.40 L326.66,276.92 L328.32,279.39 L329.98,281.80 L331.63,284.14 L333.29,286.40 L334.95,288.57 L336.61,290.64 L338.26,292.61 L339.92,294.47 L341.58,296.21 L343.24,297.82 L344.89,299.29 L346.55,300.63 L348.21,301.82 L349.87,302.86 L351.52,303.75 L353.18,304.49 L354.84,305.06 L356.50,305.47 L358.15,305.72 L359.81,305.80 L361.47,305.72 L363.13,305.47 L364.78,305.06 L366.44,304.49 L368.10,303.75 L369.76,302.86 L371.41,301.82 L373.07,300.63 L374.73,299.29 L376.39,297.82 L378.04,296.21 L379.70,294.47 L381.36,292.61 L383.02,290.64 L384.68,288.57 L386.33,286.40 L387.99,284.14 L389.65,281.80 L391.31,279.39 L392.96,276.92 L394.62,274.40 L396.28,271.83 L397.94,269.24 L399.59,266.62 L401.25,264.00 L402.91,261.38 L404.56,258.76 L406.22,256.17 L407.88,253.60 L409.54,251.08 L411.19,248.61 L412.85,246.20 L414.51,243.86 L416.17,241.60 L417.82,239.43 L419.48,237.36 L421.14,235.39 L422.80,233.53 L424.46,231.79 L426.11,230.18 L427.77,228.71 L429.43,227.37 L431.09,226.18 L432.74,225.14 L434.40,224.25 L436.06,223.51 L437.72,222.94 L439.37,222.53 L441.03,222.28 L442.69,222.20 L444.35,222.28 L446.00,222.53 L447.66,222.94 L449.32,223.51 L450.98,224.25 L452.63,225.14 L454.29,226.18 L455.95,227.37 L457.61,228.71 L459.26,230.18 L460.92,231.79 L462.58,233.53 L464.24,235.39 L465.89,237.36 L467.55,239.43 L469.21,241.60 L470.87,243.86 L472.52,246.20 L474.18,248.61 L475.84,251.08 L477.50,253.60 L479.15,256.17 L480.81,258.76 L482.47,261.38 L484.12,264.00 L485.78,266.62 L487.44,269.24 L489.10,271.83 L490.75,274.40 L492.41,276.92 L494.07,279.39 L495.73,281.80 L497.38,284.14 L499.04,286.40 L500.70,288.57 L502.36,290.64 L504.01,292.61 L505.67,294.47 L507.33,296.21 L508.99,297.82 L510.64,299.29 L512.30,300.63 L513.96,301.82 L515.62,302.86 L517.27,303.75 L518.93,304.49 L520.59,305.06 L522.25,305.47 L523.90,305.72 L525.56,305.80 L527.22,305.72 L528.88,305.47 L530.54,305.06 L532.19,304.49 L533.85,303.75 L535.51,302.86 L537.16,301.82 L538.82,300.63 L540.48,299.29 L542.14,297.82 L543.80,296.21 L545.45,294.47 L547.11,292.61 L548.77,290.64 L550.42,288.57 L552.08,286.40 L553.74,284.14 L555.40,281.80 L557.06,279.39 L558.71,276.92 L560.37,274.40 L562.03,271.83 L563.68,269.24 L565.34,266.62 L567.00,264.00 L567,317 L235.5,317 Z" fill="#d9d9d9"/>
<path d="M235.50,264.00 L237.16,261.38 L238.81,258.76 L240.47,256.17 L242.13,253.60 L243.79,251.08 L245.44,248.61 L247.10,246.20 L248.76,243.86 L250.42,241.60 L252.07,239.43 L253.73,237.36 L255.39,235.39 L257.05,233.53 L258.70,231.79 L260.36,230.18 L262.02,228.71 L263.68,227.37 L265.33,226.18 L266.99,225.14 L268.65,224.25 L270.31,223.51 L271.97,222.94 L273.62,222.53 L275.28,222.28 L276.94,222.20 L278.60,222.28 L280.25,222.53 L281.91,222.94 L283.57,223.51 L285.23,224.25 L286.88,225.14 L288.54,226.18 L290.20,227.37 L291.86,228.71 L293.51,230.18 L295.17,231.79 L296.83,233.53 L298.49,235.39 L300.14,237.36 L301.80,239.43 L303.46,241.60 L305.12,243.86 L306.77,246.20 L308.43,248.61 L310.09,251.08 L311.75,253.60 L313.40,256.17 L315.06,258.76 L316.72,261.38 L318.38,264.00 L320.03,266.62 L321.69,269.24 L323.35,271.83 L325.00,274.40 L326.66,276.92 L328.32,279.39 L329.98,281.80 L331.63,284.14 L333.29,286.40 L334.95,288.57 L336.61,290.64 L338.26,292.61 L339.92,294.47 L341.58,296.21 L343.24,297.82 L344.89,299.29 L346.55,300.63 L348.21,301.82 L349.87,302.86 L351.52,303.75 L353.18,304.49 L354.84,305.06 L356.50,305.47 L358.15,305.72 L359.81,305.80 L361.47,305.72 L363.13,305.47 L364.78,305.06 L366.44,304.49 L368.10,303.75 L369.76,302.86 L371.41,301.82 L373.07,300.63 L374.73,299.29 L376.39,297.82 L378.04,296.21 L379.70,294.47 L381.36,292.61 L383.02,290.64 L384.68,288.57 L386.33,286.40 L387.99,284.14 L389.65,281.80 L391.31,279.39 L392.96,276.92 L394.62,274.40 L396.28,271.83 L397.94,269.24 L399.59,266.62 L401.25,264.00 L402.91,261.38 L404.56,258.76 L406.22,256.17 L407.88,253.60 L409.54,251.08 L411.19,248.61 L412.85,246.20 L414.51,243.86 L416.17,241.60 L417.82,239.43 L419.48,237.36 L421.14,235.39 L422.80,233.53 L424.46,231.79 L426.11,230.18 L427.77,228.71 L429.43,227.37 L431.09,226.18 L432.74,225.14 L434.40,224.25 L436.06,223.51 L437.72,222.94 L439.37,222.53 L441.03,222.28 L442.69,222.20 L444.35,222.28 L446.00,222.53 L447.66,222.94 L449.32,223.51 L450.98,224.25 L452.63,225.14 L454.29,226.18 L455.95,227.37 L457.61,228.71 L459.26,230.18 L460.92,231.79 L462.58,233.53 L464.24,235.39 L465.89,237.36 L467.55,239.43 L469.21,241.60 L470.87,243.86 L472.52,246.20 L474.18,248.61 L475.84,251.08 L477.50,253.60 L479.15,256.17 L480.81,258.76 L482.47,261.38 L484.12,264.00 L485.78,266.62 L487.44,269.24 L489.10,271.83 L490.75,274.40 L492.41,276.92 L494.07,279.39 L495.73,281.80 L497.38,284.14 L499.04,286.40 L500.70,288.57 L502.36,290.64 L504.01,292.61 L505.67,294.47 L507.33,296.21 L508.99,297.82 L510.64,299.29 L512.30,300.63 L513.96,301.82 L515.62,302.86 L517.27,303.75 L518.93,304.49 L520.59,305.06 L522.25,305.47 L523.90,305.72 L525.56,305.80 L527.22,305.72 L528.88,305.47 L530.54,305.06 L532.19,304.49 L533.85,303.75 L535.51,302.86 L537.16,301.82 L538.82,300.63 L540.48,299.29 L542.14,297.82 L543.80,296.21 L545.45,294.47 L547.11,292.61 L548.77,290.64 L550.42,288.57 L552.08,286.40 L553.74,284.14 L555.40,281.80 L557.06,279.39 L558.71,276.92 L560.37,274.40 L562.03,271.83 L563.68,269.24 L565.34,266.62 L567.00,264.00" fill="none" stroke="#333" stroke-width="0.6"/>
<g stroke="#888" stroke-width="0.7" fill="none"><path d="M238,193.4 L235.5,193.4 L235.5,317 L567,317 L567,314.5"/><line x1="235.5" y1="211.4" x2="238" y2="211.4"/><line x1="235.5" y1="228.6" x2="238" y2="228.6"/></g>
<g stroke="#888" stroke-width="0.6"><line x1="268.6" y1="317" x2="268.6" y2="315.3"/><line x1="301.8" y1="317" x2="301.8" y2="315.3"/><line x1="334.9" y1="317" x2="334.9" y2="315.3"/><line x1="368.1" y1="317" x2="368.1" y2="315.3"/><line x1="401.2" y1="317" x2="401.2" y2="315.3"/><line x1="434.4" y1="317" x2="434.4" y2="315.3"/><line x1="467.5" y1="317" x2="467.5" y2="315.3"/><line x1="500.7" y1="317" x2="500.7" y2="315.3"/><line x1="533.9" y1="317" x2="533.9" y2="315.3"/></g>
<g stroke-width="1.85" stroke-linecap="round"><line x1="235.50" y1="255.00" x2="237.16" y2="252.38" stroke="#0e0f0f"/><line x1="237.16" y1="252.38" x2="238.81" y2="249.76" stroke="#0e0f10"/><line x1="238.81" y1="249.76" x2="240.47" y2="247.17" stroke="#0f1012"/><line x1="240.47" y1="247.17" x2="242.13" y2="244.60" stroke="#0f1214"/><line x1="242.13" y1="244.60" x2="243.79" y2="242.08" stroke="#101418"/><line x1="243.79" y1="242.08" x2="245.44" y2="239.61" stroke="#11171d"/><line x1="245.44" y1="239.61" x2="247.10" y2="237.20" stroke="#131b23"/><line x1="247.10" y1="237.20" x2="248.76" y2="234.86" stroke="#15202c"/><line x1="248.76" y1="234.86" x2="250.42" y2="232.60" stroke="#182637"/><line x1="250.42" y1="232.60" x2="252.07" y2="230.43" stroke="#1c2f45"/><line x1="252.07" y1="230.43" x2="253.73" y2="228.36" stroke="#203956"/><line x1="253.73" y1="228.36" x2="255.39" y2="226.39" stroke="#26466b"/><line x1="255.39" y1="226.39" x2="257.05" y2="224.53" stroke="#2c5483"/><line x1="257.05" y1="224.53" x2="258.70" y2="222.79" stroke="#33649e"/><line x1="258.70" y1="222.79" x2="260.36" y2="221.18" stroke="#3b76bb"/><line x1="260.36" y1="221.18" x2="262.02" y2="219.71" stroke="#4480c6"/><line x1="262.02" y1="219.71" x2="263.68" y2="218.37" stroke="#4c8ace"/><line x1="263.68" y1="218.37" x2="265.33" y2="217.18" stroke="#5594d7"/><line x1="265.33" y1="217.18" x2="266.99" y2="216.14" stroke="#5d9ddf"/><line x1="266.99" y1="216.14" x2="268.65" y2="215.25" stroke="#64a4e6"/><line x1="268.65" y1="215.25" x2="270.31" y2="214.51" stroke="#69aaeb"/><line x1="270.31" y1="214.51" x2="271.97" y2="213.94" stroke="#6caeee"/><line x1="271.97" y1="213.94" x2="273.62" y2="213.53" stroke="#6dafef"/><line x1="273.62" y1="213.53" x2="275.28" y2="213.28" stroke="#6cadee"/><line x1="275.28" y1="213.28" x2="276.94" y2="213.20" stroke="#66a7e8"/><line x1="276.94" y1="213.20" x2="278.60" y2="213.28" stroke="#5c9cde"/><line x1="278.60" y1="213.28" x2="280.25" y2="213.53" stroke="#508ed2"/><line x1="280.25" y1="213.53" x2="281.91" y2="213.94" stroke="#437fc5"/><line x1="281.91" y1="213.94" x2="283.57" y2="214.51" stroke="#366caa"/><line x1="283.57" y1="214.51" x2="285.23" y2="215.25" stroke="#2c5381"/><line x1="285.23" y1="215.25" x2="286.88" y2="216.14" stroke="#233f5f"/><line x1="286.88" y1="216.14" x2="288.54" y2="217.18" stroke="#1c2f45"/><line x1="288.54" y1="217.18" x2="290.20" y2="218.37" stroke="#172331"/><line x1="290.20" y1="218.37" x2="291.86" y2="219.71" stroke="#131b23"/><line x1="291.86" y1="219.71" x2="293.51" y2="221.18" stroke="#11151a"/><line x1="293.51" y1="221.18" x2="295.17" y2="222.79" stroke="#0f1215"/><line x1="295.17" y1="222.79" x2="296.83" y2="224.53" stroke="#0e1011"/><line x1="296.83" y1="224.53" x2="298.49" y2="226.39" stroke="#0e0f0f"/><line x1="298.49" y1="226.39" x2="300.14" y2="228.36" stroke="#0e0e0e"/><line x1="300.14" y1="228.36" x2="301.80" y2="230.43" stroke="#0e0e0e"/><line x1="301.80" y1="230.43" x2="303.46" y2="232.60" stroke="#0e0e0e"/><line x1="303.46" y1="232.60" x2="305.12" y2="234.86" stroke="#0e0e0e"/><line x1="305.12" y1="234.86" x2="306.77" y2="237.20" stroke="#0e0e0e"/><line x1="306.77" y1="237.20" x2="308.43" y2="239.61" stroke="#0e0e0e"/><line x1="308.43" y1="239.61" x2="310.09" y2="242.08" stroke="#0e0e0e"/><line x1="310.09" y1="242.08" x2="311.75" y2="244.60" stroke="#0e0e0e"/><line x1="311.75" y1="244.60" x2="313.40" y2="247.17" stroke="#0e0e0e"/><line x1="313.40" y1="247.17" x2="315.06" y2="249.76" stroke="#0e0e0e"/><line x1="315.06" y1="249.76" x2="316.72" y2="252.38" stroke="#0e0e0e"/><line x1="316.72" y1="252.38" x2="318.38" y2="255.00" stroke="#0e0e0e"/><line x1="318.38" y1="255.00" x2="320.03" y2="257.62" stroke="#0e0e0e"/><line x1="320.03" y1="257.62" x2="321.69" y2="260.24" stroke="#0e0e0e"/><line x1="321.69" y1="260.24" x2="323.35" y2="262.83" stroke="#0e0e0e"/><line x1="323.35" y1="262.83" x2="325.00" y2="265.40" stroke="#0e0e0e"/><line x1="325.00" y1="265.40" x2="326.66" y2="267.92" stroke="#0e0e0e"/><line x1="326.66" y1="267.92" x2="328.32" y2="270.39" stroke="#0e0e0e"/><line x1="328.32" y1="270.39" x2="329.98" y2="272.80" stroke="#0e0e0e"/><line x1="329.98" y1="272.80" x2="331.63" y2="275.14" stroke="#0e0e0e"/><line x1="331.63" y1="275.14" x2="333.29" y2="277.40" stroke="#0e0e0e"/><line x1="333.29" y1="277.40" x2="334.95" y2="279.57" stroke="#0e0e0e"/><line x1="334.95" y1="279.57" x2="336.61" y2="281.64" stroke="#0e0e0e"/><line x1="336.61" y1="281.64" x2="338.26" y2="283.61" stroke="#0e0e0e"/><line x1="338.26" y1="283.61" x2="339.92" y2="285.47" stroke="#0e0e0e"/><line x1="339.92" y1="285.47" x2="341.58" y2="287.21" stroke="#0e0e0e"/><line x1="341.58" y1="287.21" x2="343.24" y2="288.82" stroke="#0e0e0e"/><line x1="343.24" y1="288.82" x2="344.89" y2="290.29" stroke="#0e0e0e"/><line x1="344.89" y1="290.29" x2="346.55" y2="291.63" stroke="#0e0e0e"/><line x1="346.55" y1="291.63" x2="348.21" y2="292.82" stroke="#0e0e0e"/><line x1="348.21" y1="292.82" x2="349.87" y2="293.86" stroke="#0e0e0e"/><line x1="349.87" y1="293.86" x2="351.52" y2="294.75" stroke="#0e0e0e"/><line x1="351.52" y1="294.75" x2="353.18" y2="295.49" stroke="#0e0e0e"/><line x1="353.18" y1="295.49" x2="354.84" y2="296.06" stroke="#0e0e0e"/><line x1="354.84" y1="296.06" x2="356.50" y2="296.47" stroke="#0e0e0e"/><line x1="356.50" y1="296.47" x2="358.15" y2="296.72" stroke="#0e0e0e"/><line x1="358.15" y1="296.72" x2="359.81" y2="296.80" stroke="#0e0e0e"/><line x1="359.81" y1="296.80" x2="361.47" y2="296.72" stroke="#0e0e0e"/><line x1="361.47" y1="296.72" x2="363.13" y2="296.47" stroke="#0e0e0e"/><line x1="363.13" y1="296.47" x2="364.78" y2="296.06" stroke="#0e0e0e"/><line x1="364.78" y1="296.06" x2="366.44" y2="295.49" stroke="#0e0e0e"/><line x1="366.44" y1="295.49" x2="368.10" y2="294.75" stroke="#0e0e0e"/><line x1="368.10" y1="294.75" x2="369.76" y2="293.86" stroke="#0e0e0e"/><line x1="369.76" y1="293.86" x2="371.41" y2="292.82" stroke="#0e0e0e"/><line x1="371.41" y1="292.82" x2="373.07" y2="291.63" stroke="#0e0e0e"/><line x1="373.07" y1="291.63" x2="374.73" y2="290.29" stroke="#0e0e0e"/><line x1="374.73" y1="290.29" x2="376.39" y2="288.82" stroke="#0e0e0e"/><line x1="376.39" y1="288.82" x2="378.04" y2="287.21" stroke="#0e0e0e"/><line x1="378.04" y1="287.21" x2="379.70" y2="285.47" stroke="#0e0e0e"/><line x1="379.70" y1="285.47" x2="381.36" y2="283.61" stroke="#0e0e0e"/><line x1="381.36" y1="283.61" x2="383.02" y2="281.64" stroke="#0e0e0e"/><line x1="383.02" y1="281.64" x2="384.68" y2="279.57" stroke="#0e0e0e"/><line x1="384.68" y1="279.57" x2="386.33" y2="277.40" stroke="#0e0e0e"/><line x1="386.33" y1="277.40" x2="387.99" y2="275.14" stroke="#0e0e0e"/><line x1="387.99" y1="275.14" x2="389.65" y2="272.80" stroke="#0e0e0e"/><line x1="389.65" y1="272.80" x2="391.31" y2="270.39" stroke="#0e0e0e"/><line x1="391.31" y1="270.39" x2="392.96" y2="267.92" stroke="#0e0e0e"/><line x1="392.96" y1="267.92" x2="394.62" y2="265.40" stroke="#0e0e0e"/><line x1="394.62" y1="265.40" x2="396.28" y2="262.83" stroke="#0e0e0e"/><line x1="396.28" y1="262.83" x2="397.94" y2="260.24" stroke="#0e0e0e"/><line x1="397.94" y1="260.24" x2="399.59" y2="257.62" stroke="#0e0e0e"/><line x1="399.59" y1="257.62" x2="401.25" y2="255.00" stroke="#0e0e0e"/><line x1="401.25" y1="255.00" x2="402.91" y2="252.38" stroke="#0e0f0f"/><line x1="402.91" y1="252.38" x2="404.56" y2="249.76" stroke="#0e0f10"/><line x1="404.56" y1="249.76" x2="406.22" y2="247.17" stroke="#0f1012"/><line x1="406.22" y1="247.17" x2="407.88" y2="244.60" stroke="#0f1214"/><line x1="407.88" y1="244.60" x2="409.54" y2="242.08" stroke="#101418"/><line x1="409.54" y1="242.08" x2="411.19" y2="239.61" stroke="#11171d"/><line x1="411.19" y1="239.61" x2="412.85" y2="237.20" stroke="#131b23"/><line x1="412.85" y1="237.20" x2="414.51" y2="234.86" stroke="#15202c"/><line x1="414.51" y1="234.86" x2="416.17" y2="232.60" stroke="#182637"/><line x1="416.17" y1="232.60" x2="417.82" y2="230.43" stroke="#1c2f45"/><line x1="417.82" y1="230.43" x2="419.48" y2="228.36" stroke="#203956"/><line x1="419.48" y1="228.36" x2="421.14" y2="226.39" stroke="#26466b"/><line x1="421.14" y1="226.39" x2="422.80" y2="224.53" stroke="#2c5483"/><line x1="422.80" y1="224.53" x2="424.46" y2="222.79" stroke="#33649e"/><line x1="424.46" y1="222.79" x2="426.11" y2="221.18" stroke="#3b76bb"/><line x1="426.11" y1="221.18" x2="427.77" y2="219.71" stroke="#4480c6"/><line x1="427.77" y1="219.71" x2="429.43" y2="218.37" stroke="#4c8ace"/><line x1="429.43" y1="218.37" x2="431.09" y2="217.18" stroke="#5594d7"/><line x1="431.09" y1="217.18" x2="432.74" y2="216.14" stroke="#5d9ddf"/><line x1="432.74" y1="216.14" x2="434.40" y2="215.25" stroke="#64a4e6"/><line x1="434.40" y1="215.25" x2="436.06" y2="214.51" stroke="#69aaeb"/><line x1="436.06" y1="214.51" x2="437.72" y2="213.94" stroke="#6caeee"/><line x1="437.72" y1="213.94" x2="439.37" y2="213.53" stroke="#6dafef"/><line x1="439.37" y1="213.53" x2="441.03" y2="213.28" stroke="#6cadee"/><line x1="441.03" y1="213.28" x2="442.69" y2="213.20" stroke="#66a7e8"/><line x1="442.69" y1="213.20" x2="444.35" y2="213.28" stroke="#5c9cde"/><line x1="444.35" y1="213.28" x2="446.00" y2="213.53" stroke="#508ed2"/><line x1="446.00" y1="213.53" x2="447.66" y2="213.94" stroke="#437fc5"/><line x1="447.66" y1="213.94" x2="449.32" y2="214.51" stroke="#366caa"/><line x1="449.32" y1="214.51" x2="450.98" y2="215.25" stroke="#2c5381"/><line x1="450.98" y1="215.25" x2="452.63" y2="216.14" stroke="#233f5f"/><line x1="452.63" y1="216.14" x2="454.29" y2="217.18" stroke="#1c2f45"/><line x1="454.29" y1="217.18" x2="455.95" y2="218.37" stroke="#172331"/><line x1="455.95" y1="218.37" x2="457.61" y2="219.71" stroke="#131b23"/><line x1="457.61" y1="219.71" x2="459.26" y2="221.18" stroke="#11151a"/><line x1="459.26" y1="221.18" x2="460.92" y2="222.79" stroke="#0f1215"/><line x1="460.92" y1="222.79" x2="462.58" y2="224.53" stroke="#0e1011"/><line x1="462.58" y1="224.53" x2="464.24" y2="226.39" stroke="#0e0f0f"/><line x1="464.24" y1="226.39" x2="465.89" y2="228.36" stroke="#0e0e0e"/><line x1="465.89" y1="228.36" x2="467.55" y2="230.43" stroke="#0e0e0e"/><line x1="467.55" y1="230.43" x2="469.21" y2="232.60" stroke="#0e0e0e"/><line x1="469.21" y1="232.60" x2="470.87" y2="234.86" stroke="#0e0e0e"/><line x1="470.87" y1="234.86" x2="472.52" y2="237.20" stroke="#0e0e0e"/><line x1="472.52" y1="237.20" x2="474.18" y2="239.61" stroke="#0e0e0e"/><line x1="474.18" y1="239.61" x2="475.84" y2="242.08" stroke="#0e0e0e"/><line x1="475.84" y1="242.08" x2="477.50" y2="244.60" stroke="#0e0e0e"/><line x1="477.50" y1="244.60" x2="479.15" y2="247.17" stroke="#0e0e0e"/><line x1="479.15" y1="247.17" x2="480.81" y2="249.76" stroke="#0e0e0e"/><line x1="480.81" y1="249.76" x2="482.47" y2="252.38" stroke="#0e0e0e"/><line x1="482.47" y1="252.38" x2="484.12" y2="255.00" stroke="#0e0e0e"/><line x1="484.12" y1="255.00" x2="485.78" y2="257.62" stroke="#0e0e0e"/><line x1="485.78" y1="257.62" x2="487.44" y2="260.24" stroke="#0e0e0e"/><line x1="487.44" y1="260.24" x2="489.10" y2="262.83" stroke="#0e0e0e"/><line x1="489.10" y1="262.83" x2="490.75" y2="265.40" stroke="#0e0e0e"/><line x1="490.75" y1="265.40" x2="492.41" y2="267.92" stroke="#0e0e0e"/><line x1="492.41" y1="267.92" x2="494.07" y2="270.39" stroke="#0e0e0e"/><line x1="494.07" y1="270.39" x2="495.73" y2="272.80" stroke="#0e0e0e"/><line x1="495.73" y1="272.80" x2="497.38" y2="275.14" stroke="#0e0e0e"/><line x1="497.38" y1="275.14" x2="499.04" y2="277.40" stroke="#0e0e0e"/><line x1="499.04" y1="277.40" x2="500.70" y2="279.57" stroke="#0e0e0e"/><line x1="500.70" y1="279.57" x2="502.36" y2="281.64" stroke="#0e0e0e"/><line x1="502.36" y1="281.64" x2="504.01" y2="283.61" stroke="#0e0e0e"/><line x1="504.01" y1="283.61" x2="505.67" y2="285.47" stroke="#0e0e0e"/><line x1="505.67" y1="285.47" x2="507.33" y2="287.21" stroke="#0e0e0e"/><line x1="507.33" y1="287.21" x2="508.99" y2="288.82" stroke="#0e0e0e"/><line x1="508.99" y1="288.82" x2="510.64" y2="290.29" stroke="#0e0e0e"/><line x1="510.64" y1="290.29" x2="512.30" y2="291.63" stroke="#0e0e0e"/><line x1="512.30" y1="291.63" x2="513.96" y2="292.82" stroke="#0e0e0e"/><line x1="513.96" y1="292.82" x2="515.62" y2="293.86" stroke="#0e0e0e"/><line x1="515.62" y1="293.86" x2="517.27" y2="294.75" stroke="#0e0e0e"/><line x1="517.27" y1="294.75" x2="518.93" y2="295.49" stroke="#0e0e0e"/><line x1="518.93" y1="295.49" x2="520.59" y2="296.06" stroke="#0e0e0e"/><line x1="520.59" y1="296.06" x2="522.25" y2="296.47" stroke="#0e0e0e"/><line x1="522.25" y1="296.47" x2="523.90" y2="296.72" stroke="#0e0e0e"/><line x1="523.90" y1="296.72" x2="525.56" y2="296.80" stroke="#0e0e0e"/><line x1="525.56" y1="296.80" x2="527.22" y2="296.72" stroke="#0e0e0e"/><line x1="527.22" y1="296.72" x2="528.88" y2="296.47" stroke="#0e0e0e"/><line x1="528.88" y1="296.47" x2="530.54" y2="296.06" stroke="#0e0e0e"/><line x1="530.54" y1="296.06" x2="532.19" y2="295.49" stroke="#0e0e0e"/><line x1="532.19" y1="295.49" x2="533.85" y2="294.75" stroke="#0e0e0e"/><line x1="533.85" y1="294.75" x2="535.51" y2="293.86" stroke="#0e0e0e"/><line x1="535.51" y1="293.86" x2="537.16" y2="292.82" stroke="#0e0e0e"/><line x1="537.16" y1="292.82" x2="538.82" y2="291.63" stroke="#0e0e0e"/><line x1="538.82" y1="291.63" x2="540.48" y2="290.29" stroke="#0e0e0e"/><line x1="540.48" y1="290.29" x2="542.14" y2="288.82" stroke="#0e0e0e"/><line x1="542.14" y1="288.82" x2="543.80" y2="287.21" stroke="#0e0e0e"/><line x1="543.80" y1="287.21" x2="545.45" y2="285.47" stroke="#0e0e0e"/><line x1="545.45" y1="285.47" x2="547.11" y2="283.61" stroke="#0e0e0e"/><line x1="547.11" y1="283.61" x2="548.77" y2="281.64" stroke="#0e0e0e"/><line x1="548.77" y1="281.64" x2="550.42" y2="279.57" stroke="#0e0e0e"/><line x1="550.42" y1="279.57" x2="552.08" y2="277.40" stroke="#0e0e0e"/><line x1="552.08" y1="277.40" x2="553.74" y2="275.14" stroke="#0e0e0e"/><line x1="553.74" y1="275.14" x2="555.40" y2="272.80" stroke="#0e0e0e"/><line x1="555.40" y1="272.80" x2="557.06" y2="270.39" stroke="#0e0e0e"/><line x1="557.06" y1="270.39" x2="558.71" y2="267.92" stroke="#0e0e0e"/><line x1="558.71" y1="267.92" x2="560.37" y2="265.40" stroke="#0e0e0e"/><line x1="560.37" y1="265.40" x2="562.03" y2="262.83" stroke="#0e0e0e"/><line x1="562.03" y1="262.83" x2="563.68" y2="260.24" stroke="#0e0e0e"/><line x1="563.68" y1="260.24" x2="565.34" y2="257.62" stroke="#0e0e0e"/><line x1="565.34" y1="257.62" x2="567.00" y2="255.00" stroke="#0e0e0e"/></g>
<g stroke-width="1.85" stroke-linecap="round"><line x1="235.50" y1="246.20" x2="237.16" y2="243.58" stroke="#0c0c0b"/><line x1="237.16" y1="243.58" x2="238.81" y2="240.96" stroke="#0c0c0b"/><line x1="238.81" y1="240.96" x2="240.47" y2="238.37" stroke="#0c0c0b"/><line x1="240.47" y1="238.37" x2="242.13" y2="235.80" stroke="#0c0c0b"/><line x1="242.13" y1="235.80" x2="243.79" y2="233.28" stroke="#0c0c0b"/><line x1="243.79" y1="233.28" x2="245.44" y2="230.81" stroke="#0c0c0b"/><line x1="245.44" y1="230.81" x2="247.10" y2="228.40" stroke="#0c0c0b"/><line x1="247.10" y1="228.40" x2="248.76" y2="226.06" stroke="#0c0c0b"/><line x1="248.76" y1="226.06" x2="250.42" y2="223.80" stroke="#0c0c0b"/><line x1="250.42" y1="223.80" x2="252.07" y2="221.63" stroke="#0c0c0b"/><line x1="252.07" y1="221.63" x2="253.73" y2="219.56" stroke="#0c0c0b"/><line x1="253.73" y1="219.56" x2="255.39" y2="217.59" stroke="#0c0c0b"/><line x1="255.39" y1="217.59" x2="257.05" y2="215.73" stroke="#0c0c0b"/><line x1="257.05" y1="215.73" x2="258.70" y2="213.99" stroke="#0c0c0b"/><line x1="258.70" y1="213.99" x2="260.36" y2="212.38" stroke="#0c0c0b"/><line x1="260.36" y1="212.38" x2="262.02" y2="210.91" stroke="#0c0c0b"/><line x1="262.02" y1="210.91" x2="263.68" y2="209.57" stroke="#0c0c0b"/><line x1="263.68" y1="209.57" x2="265.33" y2="208.38" stroke="#0c0c0b"/><line x1="265.33" y1="208.38" x2="266.99" y2="207.34" stroke="#0c0c0b"/><line x1="266.99" y1="207.34" x2="268.65" y2="206.45" stroke="#0d0d0b"/><line x1="268.65" y1="206.45" x2="270.31" y2="205.71" stroke="#0e0d0b"/><line x1="270.31" y1="205.71" x2="271.97" y2="205.14" stroke="#0f0e0b"/><line x1="271.97" y1="205.14" x2="273.62" y2="204.73" stroke="#11100b"/><line x1="273.62" y1="204.73" x2="275.28" y2="204.48" stroke="#15130b"/><line x1="275.28" y1="204.48" x2="276.94" y2="204.40" stroke="#19170b"/><line x1="276.94" y1="204.40" x2="278.60" y2="204.48" stroke="#201c0a"/><line x1="278.60" y1="204.48" x2="280.25" y2="204.73" stroke="#29230a"/><line x1="280.25" y1="204.73" x2="281.91" y2="205.14" stroke="#342b09"/><line x1="281.91" y1="205.14" x2="283.57" y2="205.71" stroke="#423609"/><line x1="283.57" y1="205.71" x2="285.23" y2="206.45" stroke="#534408"/><line x1="285.23" y1="206.45" x2="286.88" y2="207.34" stroke="#665307"/><line x1="286.88" y1="207.34" x2="288.54" y2="208.38" stroke="#7c6406"/><line x1="288.54" y1="208.38" x2="290.20" y2="209.57" stroke="#937604"/><line x1="290.20" y1="209.57" x2="291.86" y2="210.91" stroke="#aa8803"/><line x1="291.86" y1="210.91" x2="293.51" y2="212.38" stroke="#bf9a02"/><line x1="293.51" y1="212.38" x2="295.17" y2="213.99" stroke="#d3a901"/><line x1="295.17" y1="213.99" x2="296.83" y2="215.73" stroke="#e2b500"/><line x1="296.83" y1="215.73" x2="298.49" y2="217.59" stroke="#ecbc00"/><line x1="298.49" y1="217.59" x2="300.14" y2="219.56" stroke="#efbf00"/><line x1="300.14" y1="219.56" x2="301.80" y2="221.63" stroke="#edbe00"/><line x1="301.80" y1="221.63" x2="303.46" y2="223.80" stroke="#e4b700"/><line x1="303.46" y1="223.80" x2="305.12" y2="226.06" stroke="#d6ac01"/><line x1="305.12" y1="226.06" x2="306.77" y2="228.40" stroke="#c49d02"/><line x1="306.77" y1="228.40" x2="308.43" y2="230.81" stroke="#af8c03"/><line x1="308.43" y1="230.81" x2="310.09" y2="233.28" stroke="#987a04"/><line x1="310.09" y1="233.28" x2="311.75" y2="235.80" stroke="#816805"/><line x1="311.75" y1="235.80" x2="313.40" y2="238.37" stroke="#6b5706"/><line x1="313.40" y1="238.37" x2="315.06" y2="240.96" stroke="#574708"/><line x1="315.06" y1="240.96" x2="316.72" y2="243.58" stroke="#453908"/><line x1="316.72" y1="243.58" x2="318.38" y2="246.20" stroke="#372e09"/><line x1="318.38" y1="246.20" x2="320.03" y2="248.82" stroke="#2b240a"/><line x1="320.03" y1="248.82" x2="321.69" y2="251.44" stroke="#221d0a"/><line x1="321.69" y1="251.44" x2="323.35" y2="254.03" stroke="#1b180b"/><line x1="323.35" y1="254.03" x2="325.00" y2="256.60" stroke="#16140b"/><line x1="325.00" y1="256.60" x2="326.66" y2="259.12" stroke="#12110b"/><line x1="326.66" y1="259.12" x2="328.32" y2="261.59" stroke="#100f0b"/><line x1="328.32" y1="261.59" x2="329.98" y2="264.00" stroke="#0e0e0b"/><line x1="329.98" y1="264.00" x2="331.63" y2="266.34" stroke="#0d0d0b"/><line x1="331.63" y1="266.34" x2="333.29" y2="268.60" stroke="#0c0c0b"/><line x1="333.29" y1="268.60" x2="334.95" y2="270.77" stroke="#0c0c0b"/><line x1="334.95" y1="270.77" x2="336.61" y2="272.84" stroke="#0c0c0b"/><line x1="336.61" y1="272.84" x2="338.26" y2="274.81" stroke="#0c0c0b"/><line x1="338.26" y1="274.81" x2="339.92" y2="276.67" stroke="#0c0c0b"/><line x1="339.92" y1="276.67" x2="341.58" y2="278.41" stroke="#0c0c0b"/><line x1="341.58" y1="278.41" x2="343.24" y2="280.02" stroke="#0c0c0b"/><line x1="343.24" y1="280.02" x2="344.89" y2="281.49" stroke="#0c0c0b"/><line x1="344.89" y1="281.49" x2="346.55" y2="282.83" stroke="#0c0c0b"/><line x1="346.55" y1="282.83" x2="348.21" y2="284.02" stroke="#0c0c0b"/><line x1="348.21" y1="284.02" x2="349.87" y2="285.06" stroke="#0c0c0b"/><line x1="349.87" y1="285.06" x2="351.52" y2="285.95" stroke="#0c0c0b"/><line x1="351.52" y1="285.95" x2="353.18" y2="286.69" stroke="#0c0c0b"/><line x1="353.18" y1="286.69" x2="354.84" y2="287.26" stroke="#0c0c0b"/><line x1="354.84" y1="287.26" x2="356.50" y2="287.67" stroke="#0c0c0b"/><line x1="356.50" y1="287.67" x2="358.15" y2="287.92" stroke="#0c0c0b"/><line x1="358.15" y1="287.92" x2="359.81" y2="288.00" stroke="#0c0c0b"/><line x1="359.81" y1="288.00" x2="361.47" y2="287.92" stroke="#0c0c0b"/><line x1="361.47" y1="287.92" x2="363.13" y2="287.67" stroke="#0c0c0b"/><line x1="363.13" y1="287.67" x2="364.78" y2="287.26" stroke="#0c0c0b"/><line x1="364.78" y1="287.26" x2="366.44" y2="286.69" stroke="#0c0c0b"/><line x1="366.44" y1="286.69" x2="368.10" y2="285.95" stroke="#0c0c0b"/><line x1="368.10" y1="285.95" x2="369.76" y2="285.06" stroke="#0c0c0b"/><line x1="369.76" y1="285.06" x2="371.41" y2="284.02" stroke="#0c0c0b"/><line x1="371.41" y1="284.02" x2="373.07" y2="282.83" stroke="#0c0c0b"/><line x1="373.07" y1="282.83" x2="374.73" y2="281.49" stroke="#0c0c0b"/><line x1="374.73" y1="281.49" x2="376.39" y2="280.02" stroke="#0c0c0b"/><line x1="376.39" y1="280.02" x2="378.04" y2="278.41" stroke="#0c0c0b"/><line x1="378.04" y1="278.41" x2="379.70" y2="276.67" stroke="#0c0c0b"/><line x1="379.70" y1="276.67" x2="381.36" y2="274.81" stroke="#0c0c0b"/><line x1="381.36" y1="274.81" x2="383.02" y2="272.84" stroke="#0c0c0b"/><line x1="383.02" y1="272.84" x2="384.68" y2="270.77" stroke="#0c0c0b"/><line x1="384.68" y1="270.77" x2="386.33" y2="268.60" stroke="#0c0c0c"/><line x1="386.33" y1="268.60" x2="387.99" y2="266.34" stroke="#0c0c0c"/><line x1="387.99" y1="266.34" x2="389.65" y2="264.00" stroke="#0c0c0c"/><line x1="389.65" y1="264.00" x2="391.31" y2="261.59" stroke="#0c0c0c"/><line x1="391.31" y1="261.59" x2="392.96" y2="259.12" stroke="#0c0c0c"/><line x1="392.96" y1="259.12" x2="394.62" y2="256.60" stroke="#0c0c0c"/><line x1="394.62" y1="256.60" x2="396.28" y2="254.03" stroke="#0c0c0c"/><line x1="396.28" y1="254.03" x2="397.94" y2="251.44" stroke="#0c0c0c"/><line x1="397.94" y1="251.44" x2="399.59" y2="248.82" stroke="#0c0c0c"/><line x1="399.59" y1="248.82" x2="401.25" y2="246.20" stroke="#0c0c0c"/><line x1="401.25" y1="246.20" x2="402.91" y2="243.58" stroke="#0c0c0b"/><line x1="402.91" y1="243.58" x2="404.56" y2="240.96" stroke="#0c0c0b"/><line x1="404.56" y1="240.96" x2="406.22" y2="238.37" stroke="#0c0c0b"/><line x1="406.22" y1="238.37" x2="407.88" y2="235.80" stroke="#0c0c0b"/><line x1="407.88" y1="235.80" x2="409.54" y2="233.28" stroke="#0c0c0b"/><line x1="409.54" y1="233.28" x2="411.19" y2="230.81" stroke="#0c0c0b"/><line x1="411.19" y1="230.81" x2="412.85" y2="228.40" stroke="#0c0c0b"/><line x1="412.85" y1="228.40" x2="414.51" y2="226.06" stroke="#0c0c0b"/><line x1="414.51" y1="226.06" x2="416.17" y2="223.80" stroke="#0c0c0b"/><line x1="416.17" y1="223.80" x2="417.82" y2="221.63" stroke="#0c0c0b"/><line x1="417.82" y1="221.63" x2="419.48" y2="219.56" stroke="#0c0c0b"/><line x1="419.48" y1="219.56" x2="421.14" y2="217.59" stroke="#0c0c0b"/><line x1="421.14" y1="217.59" x2="422.80" y2="215.73" stroke="#0c0c0b"/><line x1="422.80" y1="215.73" x2="424.46" y2="213.99" stroke="#0c0c0b"/><line x1="424.46" y1="213.99" x2="426.11" y2="212.38" stroke="#0c0c0b"/><line x1="426.11" y1="212.38" x2="427.77" y2="210.91" stroke="#0c0c0b"/><line x1="427.77" y1="210.91" x2="429.43" y2="209.57" stroke="#0c0c0b"/><line x1="429.43" y1="209.57" x2="431.09" y2="208.38" stroke="#0c0c0b"/><line x1="431.09" y1="208.38" x2="432.74" y2="207.34" stroke="#0c0c0b"/><line x1="432.74" y1="207.34" x2="434.40" y2="206.45" stroke="#0d0d0b"/><line x1="434.40" y1="206.45" x2="436.06" y2="205.71" stroke="#0e0d0b"/><line x1="436.06" y1="205.71" x2="437.72" y2="205.14" stroke="#0f0e0b"/><line x1="437.72" y1="205.14" x2="439.37" y2="204.73" stroke="#11100b"/><line x1="439.37" y1="204.73" x2="441.03" y2="204.48" stroke="#15130b"/><line x1="441.03" y1="204.48" x2="442.69" y2="204.40" stroke="#19170b"/><line x1="442.69" y1="204.40" x2="444.35" y2="204.48" stroke="#201c0a"/><line x1="444.35" y1="204.48" x2="446.00" y2="204.73" stroke="#29230a"/><line x1="446.00" y1="204.73" x2="447.66" y2="205.14" stroke="#342b09"/><line x1="447.66" y1="205.14" x2="449.32" y2="205.71" stroke="#423609"/><line x1="449.32" y1="205.71" x2="450.98" y2="206.45" stroke="#534408"/><line x1="450.98" y1="206.45" x2="452.63" y2="207.34" stroke="#665307"/><line x1="452.63" y1="207.34" x2="454.29" y2="208.38" stroke="#7c6406"/><line x1="454.29" y1="208.38" x2="455.95" y2="209.57" stroke="#937604"/><line x1="455.95" y1="209.57" x2="457.61" y2="210.91" stroke="#aa8803"/><line x1="457.61" y1="210.91" x2="459.26" y2="212.38" stroke="#bf9a02"/><line x1="459.26" y1="212.38" x2="460.92" y2="213.99" stroke="#d3a901"/><line x1="460.92" y1="213.99" x2="462.58" y2="215.73" stroke="#e2b500"/><line x1="462.58" y1="215.73" x2="464.24" y2="217.59" stroke="#ecbc00"/><line x1="464.24" y1="217.59" x2="465.89" y2="219.56" stroke="#efbf00"/><line x1="465.89" y1="219.56" x2="467.55" y2="221.63" stroke="#edbe00"/><line x1="467.55" y1="221.63" x2="469.21" y2="223.80" stroke="#e4b700"/><line x1="469.21" y1="223.80" x2="470.87" y2="226.06" stroke="#d6ac01"/><line x1="470.87" y1="226.06" x2="472.52" y2="228.40" stroke="#c49d02"/><line x1="472.52" y1="228.40" x2="474.18" y2="230.81" stroke="#af8c03"/><line x1="474.18" y1="230.81" x2="475.84" y2="233.28" stroke="#987a04"/><line x1="475.84" y1="233.28" x2="477.50" y2="235.80" stroke="#816805"/><line x1="477.50" y1="235.80" x2="479.15" y2="238.37" stroke="#6b5706"/><line x1="479.15" y1="238.37" x2="480.81" y2="240.96" stroke="#574708"/><line x1="480.81" y1="240.96" x2="482.47" y2="243.58" stroke="#453908"/><line x1="482.47" y1="243.58" x2="484.12" y2="246.20" stroke="#372e09"/><line x1="484.12" y1="246.20" x2="485.78" y2="248.82" stroke="#2b240a"/><line x1="485.78" y1="248.82" x2="487.44" y2="251.44" stroke="#221d0a"/><line x1="487.44" y1="251.44" x2="489.10" y2="254.03" stroke="#1b180b"/><line x1="489.10" y1="254.03" x2="490.75" y2="256.60" stroke="#16140b"/><line x1="490.75" y1="256.60" x2="492.41" y2="259.12" stroke="#12110b"/><line x1="492.41" y1="259.12" x2="494.07" y2="261.59" stroke="#100f0b"/><line x1="494.07" y1="261.59" x2="495.73" y2="264.00" stroke="#0e0e0b"/><line x1="495.73" y1="264.00" x2="497.38" y2="266.34" stroke="#0d0d0b"/><line x1="497.38" y1="266.34" x2="499.04" y2="268.60" stroke="#0c0c0b"/><line x1="499.04" y1="268.60" x2="500.70" y2="270.77" stroke="#0c0c0b"/><line x1="500.70" y1="270.77" x2="502.36" y2="272.84" stroke="#0c0c0b"/><line x1="502.36" y1="272.84" x2="504.01" y2="274.81" stroke="#0c0c0b"/><line x1="504.01" y1="274.81" x2="505.67" y2="276.67" stroke="#0c0c0b"/><line x1="505.67" y1="276.67" x2="507.33" y2="278.41" stroke="#0c0c0b"/><line x1="507.33" y1="278.41" x2="508.99" y2="280.02" stroke="#0c0c0b"/><line x1="508.99" y1="280.02" x2="510.64" y2="281.49" stroke="#0c0c0b"/><line x1="510.64" y1="281.49" x2="512.30" y2="282.83" stroke="#0c0c0b"/><line x1="512.30" y1="282.83" x2="513.96" y2="284.02" stroke="#0c0c0b"/><line x1="513.96" y1="284.02" x2="515.62" y2="285.06" stroke="#0c0c0b"/><line x1="515.62" y1="285.06" x2="517.27" y2="285.95" stroke="#0c0c0b"/><line x1="517.27" y1="285.95" x2="518.93" y2="286.69" stroke="#0c0c0b"/><line x1="518.93" y1="286.69" x2="520.59" y2="287.26" stroke="#0c0c0b"/><line x1="520.59" y1="287.26" x2="522.25" y2="287.67" stroke="#0c0c0b"/><line x1="522.25" y1="287.67" x2="523.90" y2="287.92" stroke="#0c0c0b"/><line x1="523.90" y1="287.92" x2="525.56" y2="288.00" stroke="#0c0c0b"/><line x1="525.56" y1="288.00" x2="527.22" y2="287.92" stroke="#0c0c0b"/><line x1="527.22" y1="287.92" x2="528.88" y2="287.67" stroke="#0c0c0b"/><line x1="528.88" y1="287.67" x2="530.54" y2="287.26" stroke="#0c0c0b"/><line x1="530.54" y1="287.26" x2="532.19" y2="286.69" stroke="#0c0c0b"/><line x1="532.19" y1="286.69" x2="533.85" y2="285.95" stroke="#0c0c0b"/><line x1="533.85" y1="285.95" x2="535.51" y2="285.06" stroke="#0c0c0b"/><line x1="535.51" y1="285.06" x2="537.16" y2="284.02" stroke="#0c0c0b"/><line x1="537.16" y1="284.02" x2="538.82" y2="282.83" stroke="#0c0c0b"/><line x1="538.82" y1="282.83" x2="540.48" y2="281.49" stroke="#0c0c0b"/><line x1="540.48" y1="281.49" x2="542.14" y2="280.02" stroke="#0c0c0b"/><line x1="542.14" y1="280.02" x2="543.80" y2="278.41" stroke="#0c0c0b"/><line x1="543.80" y1="278.41" x2="545.45" y2="276.67" stroke="#0c0c0b"/><line x1="545.45" y1="276.67" x2="547.11" y2="274.81" stroke="#0c0c0b"/><line x1="547.11" y1="274.81" x2="548.77" y2="272.84" stroke="#0c0c0b"/><line x1="548.77" y1="272.84" x2="550.42" y2="270.77" stroke="#0c0c0b"/><line x1="550.42" y1="270.77" x2="552.08" y2="268.60" stroke="#0c0c0c"/><line x1="552.08" y1="268.60" x2="553.74" y2="266.34" stroke="#0c0c0c"/><line x1="553.74" y1="266.34" x2="555.40" y2="264.00" stroke="#0c0c0c"/><line x1="555.40" y1="264.00" x2="557.06" y2="261.59" stroke="#0c0c0c"/><line x1="557.06" y1="261.59" x2="558.71" y2="259.12" stroke="#0c0c0c"/><line x1="558.71" y1="259.12" x2="560.37" y2="256.60" stroke="#0c0c0c"/><line x1="560.37" y1="256.60" x2="562.03" y2="254.03" stroke="#0c0c0c"/><line x1="562.03" y1="254.03" x2="563.68" y2="251.44" stroke="#0c0c0c"/><line x1="563.68" y1="251.44" x2="565.34" y2="248.82" stroke="#0c0c0c"/><line x1="565.34" y1="248.82" x2="567.00" y2="246.20" stroke="#0c0c0c"/></g>
<g font-size="9.3" text-anchor="end"><text x="231.5" y="205">15</text><text x="231.5" y="249.7">0</text><text x="231.5" y="299">–15</text></g>
<g font-size="9.3" text-anchor="middle"><text x="235.5" y="328.7">0</text><text x="301.8" y="328.7">20</text><text x="368.1" y="328.7">40</text><text x="434.4" y="328.7">60</text><text x="500.7" y="328.7">80</text><text x="567.0" y="328.7">100</text></g>
<text x="400.5" y="343.5" font-size="9.3" text-anchor="middle"><tspan font-style="italic">x</tspan> (µm)</text>
<text x="0" y="0" font-size="9.3" text-anchor="middle" transform="translate(209.5,255) rotate(-90)"><tspan font-style="italic">y</tspan> (µm)</text>
<text x="266" y="191.6" font-size="8.4" textLength="17.2" lengthAdjust="spacingAndGlyphs">Flow</text>
<path d="M261,194.4 L287.5,194.4" stroke="#222" stroke-width="2"/><path d="M286.5,191.7 L293,194.4 L286.5,197.1 Z" fill="#222"/>
<text x="539.6" y="200.6" font-size="9.9" textLength="26.3" lengthAdjust="spacingAndGlyphs">Model</text>
<circle cx="410" cy="207" r="6.4" fill="url(#bdot)"/>
<path d="M419,202 Q430,201.5 434.5,210.5" fill="none" stroke="#222" stroke-width="1.3" stroke-dasharray="1.2,1.2"/><path d="M432.3,209.5 L435.2,213.2 L436,208.6 Z" fill="#333"/>
<line x1="484" y1="201.5" x2="494.4" y2="194.4" stroke="#e8b800" stroke-width="0.8"/>
<ellipse cx="0" cy="0" rx="9.2" ry="3.7" fill="url(#ybac)" transform="translate(476.3,206.2) rotate(-33)"/>
<path d="M483,209.5 Q483.5,220 475.5,225" fill="none" stroke="#222" stroke-width="1.3" stroke-dasharray="1.2,1.2"/><path d="M477.5,222.5 L474,226.2 L478.8,226 Z" fill="#333"/>
<circle cx="596.4" cy="205.6" r="6.7" fill="url(#bdot)"/>
<line x1="632" y1="201" x2="643.7" y2="193" stroke="#e8b800" stroke-width="0.8"/>
<ellipse cx="0" cy="0" rx="9.3" ry="3.5" fill="url(#ybac)" transform="translate(626,204.8) rotate(-31)"/>
<rect x="592.1" y="214.4" width="8.5" height="94" fill="url(#bluev)" stroke="#999" stroke-width="0.4"/>
<rect x="626.5" y="214.4" width="8.4" height="94" fill="url(#yelv)" stroke="#999" stroke-width="0.4"/>
<g font-size="9.3"><text x="604" y="220.4">1</text><text x="604.6" y="259.3">0.5</text><text x="604.6" y="307.3">0</text><text x="638.6" y="220.4">1</text><text x="639" y="259.3">0.5</text><text x="638.6" y="307.3">0</text></g>
<text x="0" y="0" font-size="8.6" transform="translate(658.6,196.8) rotate(90)" textLength="116.2" lengthAdjust="spacingAndGlyphs">Normalized attachment density</text>
</svg></body></html>
